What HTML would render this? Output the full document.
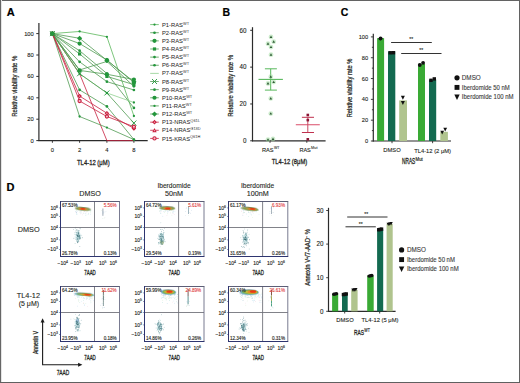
<!DOCTYPE html>
<html><head><meta charset="utf-8"><style>
html,body{margin:0;padding:0;background:#fff;}
svg{display:block;font-family:"Liberation Sans", sans-serif;}
</style></head><body>
<svg width="520" height="383" viewBox="0 0 520 383">
<defs><clipPath id="cp00"><rect x="60.50" y="201.50" width="59.00" height="55.00"/></clipPath><clipPath id="bc00"><rect x="60.50" y="205.10" width="59.00" height="51.40"/></clipPath><clipPath id="cp01"><rect x="144.50" y="201.50" width="59.50" height="55.00"/></clipPath><clipPath id="bc01"><rect x="144.50" y="205.10" width="59.50" height="51.40"/></clipPath><clipPath id="cp02"><rect x="228.50" y="201.50" width="59.30" height="55.00"/></clipPath><clipPath id="bc02"><rect x="228.50" y="205.10" width="59.30" height="51.40"/></clipPath><clipPath id="cp10"><rect x="60.50" y="286.50" width="59.00" height="55.00"/></clipPath><clipPath id="bc10"><rect x="60.50" y="289.10" width="59.00" height="52.40"/></clipPath><clipPath id="cp11"><rect x="144.50" y="286.50" width="59.50" height="55.00"/></clipPath><clipPath id="bc11"><rect x="144.50" y="289.10" width="59.50" height="52.40"/></clipPath><clipPath id="cp12"><rect x="228.50" y="286.50" width="59.30" height="55.00"/></clipPath><clipPath id="bc12"><rect x="228.50" y="289.10" width="59.30" height="52.40"/></clipPath><filter id="b1" x="-50%" y="-50%" width="200%" height="200%"><feGaussianBlur stdDeviation="0.7"/></filter><filter id="b0" x="-50%" y="-50%" width="200%" height="200%"><feGaussianBlur stdDeviation="0.4"/></filter></defs>
<rect x="0" y="0" width="520" height="383" fill="#fff"/>
<text x="6.70" y="15.66" font-size="11" fill="#000" stroke="#000" stroke-width="0.2" font-weight="bold">A</text>
<text x="222.60" y="16.08" font-size="10.5" fill="#000" stroke="#000" stroke-width="0.2" font-weight="bold">B</text>
<text x="340.70" y="15.68" font-size="10.5" fill="#000" stroke="#000" stroke-width="0.2" font-weight="bold">C</text>
<text x="6.60" y="190.56" font-size="11" fill="#000" stroke="#000" stroke-width="0.2" font-weight="bold">D</text>
<line x1="38.90" y1="23.00" x2="38.90" y2="141.10" stroke="#2b2b2b" stroke-width="1.2"/>
<line x1="38.30" y1="140.60" x2="147.70" y2="140.60" stroke="#2b2b2b" stroke-width="1.2"/>
<line x1="36.30" y1="140.60" x2="38.90" y2="140.60" stroke="#2b2b2b" stroke-width="1"/>
<text x="33.80" y="142.69" font-size="5.8" fill="#231f20" stroke="#231f20" stroke-width="0.1" text-anchor="end">0</text>
<line x1="36.30" y1="119.20" x2="38.90" y2="119.20" stroke="#2b2b2b" stroke-width="1"/>
<text x="33.80" y="121.29" font-size="5.8" fill="#231f20" stroke="#231f20" stroke-width="0.1" text-anchor="end">20</text>
<line x1="36.30" y1="97.80" x2="38.90" y2="97.80" stroke="#2b2b2b" stroke-width="1"/>
<text x="33.80" y="99.89" font-size="5.8" fill="#231f20" stroke="#231f20" stroke-width="0.1" text-anchor="end">40</text>
<line x1="36.30" y1="76.40" x2="38.90" y2="76.40" stroke="#2b2b2b" stroke-width="1"/>
<text x="33.80" y="78.49" font-size="5.8" fill="#231f20" stroke="#231f20" stroke-width="0.1" text-anchor="end">60</text>
<line x1="36.30" y1="55.00" x2="38.90" y2="55.00" stroke="#2b2b2b" stroke-width="1"/>
<text x="33.80" y="57.09" font-size="5.8" fill="#231f20" stroke="#231f20" stroke-width="0.1" text-anchor="end">80</text>
<line x1="36.30" y1="33.60" x2="38.90" y2="33.60" stroke="#2b2b2b" stroke-width="1"/>
<text x="33.80" y="35.69" font-size="5.8" fill="#231f20" stroke="#231f20" stroke-width="0.1" text-anchor="end">100</text>
<line x1="52.40" y1="140.60" x2="52.40" y2="142.80" stroke="#2b2b2b" stroke-width="0.9"/>
<text x="52.40" y="152.39" font-size="5.8" fill="#231f20" stroke="#231f20" stroke-width="0.1" text-anchor="middle">0</text>
<line x1="79.60" y1="140.60" x2="79.60" y2="142.80" stroke="#2b2b2b" stroke-width="0.9"/>
<text x="79.60" y="152.39" font-size="5.8" fill="#231f20" stroke="#231f20" stroke-width="0.1" text-anchor="middle">2</text>
<line x1="106.90" y1="140.60" x2="106.90" y2="142.80" stroke="#2b2b2b" stroke-width="0.9"/>
<text x="106.90" y="152.39" font-size="5.8" fill="#231f20" stroke="#231f20" stroke-width="0.1" text-anchor="middle">4</text>
<line x1="133.90" y1="140.60" x2="133.90" y2="142.80" stroke="#2b2b2b" stroke-width="0.9"/>
<text x="133.90" y="152.39" font-size="5.8" fill="#231f20" stroke="#231f20" stroke-width="0.1" text-anchor="middle">8</text>
<text x="93.30" y="164.88" font-size="8.0" fill="#231f20" stroke="#231f20" stroke-width="0.3" text-anchor="middle" textLength="32.6" lengthAdjust="spacingAndGlyphs">TL4-12 (μM)</text>
<text x="15.00" y="88.60" font-size="6.4" fill="#231f20" stroke="#231f20" stroke-width="0.22" text-anchor="middle" textLength="61" lengthAdjust="spacingAndGlyphs" transform="rotate(-90 15.00 86.30)">Relative viability rate %</text>
<polyline points="52.40,33.60 79.60,73.72 106.90,140.60 133.90,140.60" fill="none" stroke="#c8203f" stroke-width="0.8"/>
<polyline points="52.40,33.60 79.60,31.46 106.90,36.81 133.90,115.99" fill="none" stroke="#5cb85c" stroke-width="0.8"/>
<polyline points="52.40,33.60 79.60,50.72 106.90,73.51 133.90,107.96" fill="none" stroke="#4f9a52" stroke-width="0.8"/>
<polyline points="52.40,33.60 79.60,43.55 106.90,60.03 133.90,82.50" fill="none" stroke="#4f9a52" stroke-width="0.8"/>
<polyline points="52.40,33.60 79.60,53.93 106.90,76.40 133.90,84.64" fill="none" stroke="#4f9a52" stroke-width="0.8"/>
<polyline points="52.40,33.60 79.60,61.85 106.90,81.64 133.90,89.99" fill="none" stroke="#4f9a52" stroke-width="0.8"/>
<polyline points="52.40,33.60 79.60,69.98 106.90,61.42 133.90,86.35" fill="none" stroke="#4f9a52" stroke-width="0.8"/>
<polyline points="52.40,33.60 79.60,73.72 106.90,92.98 133.90,102.51" fill="none" stroke="#8fd08f" stroke-width="0.8"/>
<polyline points="52.40,33.60 79.60,73.72 106.90,92.98 133.90,123.05" fill="none" stroke="#4f9a52" stroke-width="0.8"/>
<polyline points="52.40,33.60 79.60,89.88 106.90,106.47 133.90,139.53" fill="none" stroke="#4f9a52" stroke-width="0.8"/>
<polyline points="52.40,33.60 79.60,70.41 106.90,74.26 133.90,79.50" fill="none" stroke="#4f9a52" stroke-width="0.8"/>
<polyline points="52.40,33.60 79.60,116.52 106.90,127.55 133.90,139.53" fill="none" stroke="#4f9a52" stroke-width="0.8"/>
<polyline points="52.40,33.60 79.60,38.31 106.90,60.35 133.90,81.75" fill="none" stroke="#4f9a52" stroke-width="0.8"/>
<polyline points="52.40,33.60 79.60,96.09 106.90,113.21 133.90,128.40" fill="none" stroke="#c8203f" stroke-width="0.8"/>
<polyline points="52.40,33.60 79.60,101.01 106.90,116.52 133.90,126.69" fill="none" stroke="#c8203f" stroke-width="0.8"/>
<circle cx="79.60" cy="31.46" r="1.15" fill="#23963c"/>
<circle cx="106.90" cy="36.81" r="1.15" fill="#23963c"/>
<circle cx="133.90" cy="115.99" r="1.15" fill="#23963c"/>
<circle cx="79.60" cy="50.72" r="1.35" fill="#23963c"/>
<circle cx="106.90" cy="73.51" r="1.35" fill="#23963c"/>
<circle cx="133.90" cy="107.96" r="1.35" fill="#23963c"/>
<circle cx="79.60" cy="43.55" r="2.10" fill="#23963c"/>
<circle cx="106.90" cy="60.03" r="2.10" fill="#23963c"/>
<circle cx="133.90" cy="82.50" r="2.10" fill="#23963c"/>
<rect x="78.00" y="52.33" width="3.20" height="3.20" fill="#23963c"/>
<rect x="105.30" y="74.80" width="3.20" height="3.20" fill="#23963c"/>
<rect x="132.30" y="83.04" width="3.20" height="3.20" fill="#23963c"/>
<circle cx="79.60" cy="61.85" r="1.35" fill="#23963c"/>
<circle cx="106.90" cy="81.64" r="1.35" fill="#23963c"/>
<circle cx="133.90" cy="89.99" r="1.35" fill="#23963c"/>
<circle cx="79.60" cy="69.98" r="1.35" fill="#23963c"/>
<circle cx="106.90" cy="61.42" r="1.35" fill="#23963c"/>
<circle cx="133.90" cy="86.35" r="1.35" fill="#23963c"/>
<circle cx="79.60" cy="73.72" r="1.15" fill="#23963c"/>
<circle cx="106.90" cy="92.98" r="1.15" fill="#23963c"/>
<circle cx="133.90" cy="102.51" r="1.15" fill="#23963c"/>
<line x1="77.10" y1="71.22" x2="82.10" y2="76.22" stroke="#23963c" stroke-width="0.9"/>
<line x1="77.10" y1="76.22" x2="82.10" y2="71.22" stroke="#23963c" stroke-width="0.9"/>
<line x1="104.40" y1="90.48" x2="109.40" y2="95.48" stroke="#23963c" stroke-width="0.9"/>
<line x1="104.40" y1="95.48" x2="109.40" y2="90.48" stroke="#23963c" stroke-width="0.9"/>
<line x1="131.40" y1="120.55" x2="136.40" y2="125.55" stroke="#23963c" stroke-width="0.9"/>
<line x1="131.40" y1="125.55" x2="136.40" y2="120.55" stroke="#23963c" stroke-width="0.9"/>
<circle cx="79.60" cy="89.88" r="1.35" fill="#23963c"/>
<circle cx="106.90" cy="106.47" r="1.35" fill="#23963c"/>
<circle cx="133.90" cy="139.53" r="1.35" fill="#23963c"/>
<circle cx="79.60" cy="70.41" r="2.10" fill="#23963c"/>
<circle cx="106.90" cy="74.26" r="2.10" fill="#23963c"/>
<circle cx="133.90" cy="79.50" r="2.10" fill="#23963c"/>
<circle cx="79.60" cy="116.52" r="1.15" fill="#23963c"/>
<circle cx="106.90" cy="127.55" r="1.15" fill="#23963c"/>
<circle cx="133.90" cy="139.53" r="1.15" fill="#23963c"/>
<path d="M79.60 35.71L82.20 38.31L79.60 40.91L77.00 38.31Z" fill="#23963c" stroke="none" stroke-width="1"/>
<path d="M106.90 57.75L109.50 60.35L106.90 62.95L104.30 60.35Z" fill="#23963c" stroke="none" stroke-width="1"/>
<path d="M133.90 79.15L136.50 81.75L133.90 84.35L131.30 81.75Z" fill="#23963c" stroke="none" stroke-width="1"/>
<path d="M79.60 93.79L81.90 96.09L79.60 98.39L77.30 96.09Z" fill="#c8203f" stroke="none" stroke-width="1"/>
<circle cx="79.60" cy="96.09" r="0.70" fill="#f3a8b8"/>
<path d="M106.90 110.91L109.20 113.21L106.90 115.51L104.60 113.21Z" fill="#c8203f" stroke="none" stroke-width="1"/>
<circle cx="106.90" cy="113.21" r="0.70" fill="#f3a8b8"/>
<path d="M133.90 126.10L136.20 128.40L133.90 130.70L131.60 128.40Z" fill="#c8203f" stroke="none" stroke-width="1"/>
<circle cx="133.90" cy="128.40" r="0.70" fill="#f3a8b8"/>
<circle cx="79.60" cy="101.01" r="1.60" fill="#f6c0cc" stroke="#c8203f" stroke-width="1.1"/>
<circle cx="106.90" cy="116.52" r="1.60" fill="#f6c0cc" stroke="#c8203f" stroke-width="1.1"/>
<circle cx="133.90" cy="126.69" r="1.60" fill="#f6c0cc" stroke="#c8203f" stroke-width="1.1"/>
<circle cx="52.40" cy="33.60" r="1.60" fill="#f6c0cc" stroke="#c8203f" stroke-width="1.1"/>
<path d="M52.40 31.40L54.60 35.47L50.20 35.47Z" fill="#c8203f" stroke="none" stroke-width="1"/>
<circle cx="52.40" cy="34.00" r="0.60" fill="#f3a8b8"/>
<path d="M52.40 31.30L54.70 33.60L52.40 35.90L50.10 33.60Z" fill="#c8203f" stroke="none" stroke-width="1"/>
<circle cx="52.40" cy="33.60" r="0.70" fill="#f3a8b8"/>
<circle cx="52.40" cy="33.60" r="1.15" fill="#23963c"/>
<circle cx="52.40" cy="33.60" r="1.35" fill="#23963c"/>
<circle cx="52.40" cy="33.60" r="2.10" fill="#23963c"/>
<rect x="50.80" y="32.00" width="3.20" height="3.20" fill="#23963c"/>
<circle cx="52.40" cy="33.60" r="1.35" fill="#23963c"/>
<circle cx="52.40" cy="33.60" r="1.35" fill="#23963c"/>
<line x1="49.90" y1="31.10" x2="54.90" y2="36.10" stroke="#23963c" stroke-width="0.9"/>
<line x1="49.90" y1="36.10" x2="54.90" y2="31.10" stroke="#23963c" stroke-width="0.9"/>
<circle cx="52.40" cy="33.60" r="1.35" fill="#23963c"/>
<circle cx="52.40" cy="33.60" r="2.10" fill="#23963c"/>
<circle cx="52.40" cy="33.60" r="1.15" fill="#23963c"/>
<path d="M52.40 31.00L55.00 33.60L52.40 36.20L49.80 33.60Z" fill="#23963c" stroke="none" stroke-width="1"/>
<line x1="150.20" y1="24.60" x2="158.80" y2="24.60" stroke="#5cb85c" stroke-width="0.8"/>
<circle cx="154.50" cy="24.60" r="1.15" fill="#23963c"/>
<text x="162.00" y="26.69" font-size="5.8" fill="#2a2a2a" stroke="#2a2a2a" stroke-width="0.04">P1-RAS<tspan dy="-2.1" font-size="3.9" fill="#555">WT</tspan></text>
<line x1="150.20" y1="32.73" x2="158.80" y2="32.73" stroke="#4f9a52" stroke-width="0.8"/>
<circle cx="154.50" cy="32.73" r="1.35" fill="#23963c"/>
<text x="162.00" y="34.82" font-size="5.8" fill="#2a2a2a" stroke="#2a2a2a" stroke-width="0.04">P2-RAS<tspan dy="-2.1" font-size="3.9" fill="#555">WT</tspan></text>
<line x1="150.20" y1="40.86" x2="158.80" y2="40.86" stroke="#4f9a52" stroke-width="0.8"/>
<circle cx="154.50" cy="40.86" r="2.10" fill="#23963c"/>
<text x="162.00" y="42.95" font-size="5.8" fill="#2a2a2a" stroke="#2a2a2a" stroke-width="0.04">P3-RAS<tspan dy="-2.1" font-size="3.9" fill="#555">WT</tspan></text>
<line x1="150.20" y1="48.99" x2="158.80" y2="48.99" stroke="#4f9a52" stroke-width="0.8"/>
<rect x="152.90" y="47.39" width="3.20" height="3.20" fill="#23963c"/>
<text x="162.00" y="51.08" font-size="5.8" fill="#2a2a2a" stroke="#2a2a2a" stroke-width="0.04">P4-RAS<tspan dy="-2.1" font-size="3.9" fill="#555">WT</tspan></text>
<line x1="150.20" y1="57.12" x2="158.80" y2="57.12" stroke="#4f9a52" stroke-width="0.8"/>
<circle cx="154.50" cy="57.12" r="1.35" fill="#23963c"/>
<text x="162.00" y="59.21" font-size="5.8" fill="#2a2a2a" stroke="#2a2a2a" stroke-width="0.04">P5-RAS<tspan dy="-2.1" font-size="3.9" fill="#555">WT</tspan></text>
<line x1="150.20" y1="65.25" x2="158.80" y2="65.25" stroke="#4f9a52" stroke-width="0.8"/>
<circle cx="154.50" cy="65.25" r="1.35" fill="#23963c"/>
<text x="162.00" y="67.34" font-size="5.8" fill="#2a2a2a" stroke="#2a2a2a" stroke-width="0.04">P6-RAS<tspan dy="-2.1" font-size="3.9" fill="#555">WT</tspan></text>
<line x1="150.20" y1="73.38" x2="158.80" y2="73.38" stroke="#8fd08f" stroke-width="0.8"/>
<text x="162.00" y="75.47" font-size="5.8" fill="#2a2a2a" stroke="#2a2a2a" stroke-width="0.04">P7-RAS<tspan dy="-2.1" font-size="3.9" fill="#555">WT</tspan></text>
<line x1="150.20" y1="81.51" x2="158.80" y2="81.51" stroke="#4f9a52" stroke-width="0.8"/>
<line x1="152.00" y1="79.01" x2="157.00" y2="84.01" stroke="#23963c" stroke-width="0.9"/>
<line x1="152.00" y1="84.01" x2="157.00" y2="79.01" stroke="#23963c" stroke-width="0.9"/>
<text x="162.00" y="83.60" font-size="5.8" fill="#2a2a2a" stroke="#2a2a2a" stroke-width="0.04">P8-RAS<tspan dy="-2.1" font-size="3.9" fill="#555">WT</tspan></text>
<line x1="150.20" y1="89.64" x2="158.80" y2="89.64" stroke="#4f9a52" stroke-width="0.8"/>
<circle cx="154.50" cy="89.64" r="1.35" fill="#23963c"/>
<text x="162.00" y="91.73" font-size="5.8" fill="#2a2a2a" stroke="#2a2a2a" stroke-width="0.04">P9-RAS<tspan dy="-2.1" font-size="3.9" fill="#555">WT</tspan></text>
<line x1="150.20" y1="97.77" x2="158.80" y2="97.77" stroke="#4f9a52" stroke-width="0.8"/>
<circle cx="154.50" cy="97.77" r="2.10" fill="#23963c"/>
<text x="162.00" y="99.86" font-size="5.8" fill="#2a2a2a" stroke="#2a2a2a" stroke-width="0.04">P10-RAS<tspan dy="-2.1" font-size="3.9" fill="#555">WT</tspan></text>
<line x1="150.20" y1="105.90" x2="158.80" y2="105.90" stroke="#4f9a52" stroke-width="0.8"/>
<circle cx="154.50" cy="105.90" r="1.15" fill="#23963c"/>
<text x="162.00" y="107.99" font-size="5.8" fill="#2a2a2a" stroke="#2a2a2a" stroke-width="0.04">P11-RAS<tspan dy="-2.1" font-size="3.9" fill="#555">WT</tspan></text>
<line x1="150.20" y1="114.03" x2="158.80" y2="114.03" stroke="#4f9a52" stroke-width="0.8"/>
<path d="M154.50 111.43L157.10 114.03L154.50 116.63L151.90 114.03Z" fill="#23963c" stroke="none" stroke-width="1"/>
<text x="162.00" y="116.12" font-size="5.8" fill="#2a2a2a" stroke="#2a2a2a" stroke-width="0.04">P12-RAS<tspan dy="-2.1" font-size="3.9" fill="#555">WT</tspan></text>
<line x1="150.20" y1="122.16" x2="158.80" y2="122.16" stroke="#c8203f" stroke-width="0.8"/>
<path d="M154.50 119.86L156.80 122.16L154.50 124.46L152.20 122.16Z" fill="#c8203f" stroke="none" stroke-width="1"/>
<circle cx="154.50" cy="122.16" r="0.70" fill="#f3a8b8"/>
<text x="162.00" y="124.25" font-size="5.8" fill="#2a2a2a" stroke="#2a2a2a" stroke-width="0.04">P13-NRAS<tspan dy="-2.1" font-size="3.9" fill="#555">Q61L</tspan></text>
<line x1="150.20" y1="130.29" x2="158.80" y2="130.29" stroke="#c8203f" stroke-width="0.8"/>
<path d="M154.50 128.09L156.70 132.16L152.30 132.16Z" fill="#c8203f" stroke="none" stroke-width="1"/>
<circle cx="154.50" cy="130.69" r="0.60" fill="#f3a8b8"/>
<text x="162.00" y="132.38" font-size="5.8" fill="#2a2a2a" stroke="#2a2a2a" stroke-width="0.04">P14-NRAS<tspan dy="-2.1" font-size="3.9" fill="#555">G13D</tspan></text>
<line x1="150.20" y1="138.42" x2="158.80" y2="138.42" stroke="#c8203f" stroke-width="0.8"/>
<circle cx="154.50" cy="138.42" r="1.60" fill="#f6c0cc" stroke="#c8203f" stroke-width="1.1"/>
<text x="162.00" y="140.51" font-size="5.8" fill="#2a2a2a" stroke="#2a2a2a" stroke-width="0.04">P15-KRAS<tspan dy="-2.1" font-size="3.9" fill="#555">Q61H</tspan></text>
<line x1="252.50" y1="27.20" x2="252.50" y2="141.30" stroke="#2b2b2b" stroke-width="1.2"/>
<line x1="252.00" y1="140.80" x2="325.60" y2="140.80" stroke="#2b2b2b" stroke-width="1.2"/>
<line x1="250.20" y1="140.80" x2="252.50" y2="140.80" stroke="#2b2b2b" stroke-width="1"/>
<text x="246.50" y="143.07" font-size="6.3" fill="#231f20" stroke="#231f20" stroke-width="0.1" text-anchor="end">0</text>
<line x1="250.20" y1="103.97" x2="252.50" y2="103.97" stroke="#2b2b2b" stroke-width="1"/>
<text x="246.50" y="106.23" font-size="6.3" fill="#231f20" stroke="#231f20" stroke-width="0.1" text-anchor="end">20</text>
<line x1="250.20" y1="67.13" x2="252.50" y2="67.13" stroke="#2b2b2b" stroke-width="1"/>
<text x="246.50" y="69.40" font-size="6.3" fill="#231f20" stroke="#231f20" stroke-width="0.1" text-anchor="end">40</text>
<line x1="250.20" y1="30.30" x2="252.50" y2="30.30" stroke="#2b2b2b" stroke-width="1"/>
<text x="246.50" y="32.57" font-size="6.3" fill="#231f20" stroke="#231f20" stroke-width="0.1" text-anchor="end">60</text>
<line x1="270.00" y1="140.80" x2="270.00" y2="142.80" stroke="#2b2b2b" stroke-width="0.9"/>
<line x1="306.80" y1="140.80" x2="306.80" y2="142.80" stroke="#2b2b2b" stroke-width="0.9"/>
<text x="262.00" y="151.76" font-size="6.0" fill="#231f20" stroke="#231f20" stroke-width="0.12" textLength="11.6" lengthAdjust="spacingAndGlyphs">RAS</text>
<text x="273.90" y="148.84" font-size="4.0" fill="#231f20" stroke="#231f20" stroke-width="0.072" textLength="5.6" lengthAdjust="spacingAndGlyphs">WT</text>
<text x="299.40" y="151.76" font-size="6.0" fill="#231f20" stroke="#231f20" stroke-width="0.12" textLength="11.4" lengthAdjust="spacingAndGlyphs">RAS</text>
<text x="311.10" y="148.84" font-size="4.0" fill="#231f20" stroke="#231f20" stroke-width="0.072" textLength="6.4" lengthAdjust="spacingAndGlyphs">Mut</text>
<text x="231.20" y="88.10" font-size="6.4" fill="#231f20" stroke="#231f20" stroke-width="0.22" text-anchor="middle" textLength="62" lengthAdjust="spacingAndGlyphs" transform="rotate(-90 231.20 85.80)">Relative viability rate %</text>
<text x="289.50" y="163.81" font-size="7.8" fill="#231f20" stroke="#231f20" stroke-width="0.3" text-anchor="middle" textLength="35.4" lengthAdjust="spacingAndGlyphs">TL4-12 (8μM)</text>
<line x1="258.50" y1="79.40" x2="282.90" y2="79.40" stroke="#58b85c" stroke-width="1.1"/>
<line x1="270.70" y1="68.80" x2="270.70" y2="90.10" stroke="#58b85c" stroke-width="1.0"/>
<line x1="264.90" y1="68.80" x2="276.90" y2="68.80" stroke="#58b85c" stroke-width="1.0"/>
<line x1="264.90" y1="90.10" x2="276.90" y2="90.10" stroke="#58b85c" stroke-width="1.0"/>
<circle cx="271.00" cy="36.90" r="2.4" fill="#a8e0a8" opacity="0.55" filter="url(#b1)"/>
<path d="M271.00 35.45L272.35 37.90L269.65 37.90Z" fill="#2f5a35" stroke="none" stroke-width="1"/>
<circle cx="273.70" cy="41.70" r="2.4" fill="#a8e0a8" opacity="0.55" filter="url(#b1)"/>
<path d="M273.70 40.25L275.05 42.70L272.35 42.70Z" fill="#2f5a35" stroke="none" stroke-width="1"/>
<circle cx="268.00" cy="43.70" r="2.4" fill="#a8e0a8" opacity="0.55" filter="url(#b1)"/>
<path d="M268.00 42.25L269.35 44.70L266.65 44.70Z" fill="#2f5a35" stroke="none" stroke-width="1"/>
<circle cx="271.00" cy="47.10" r="2.4" fill="#a8e0a8" opacity="0.55" filter="url(#b1)"/>
<path d="M271.00 45.65L272.35 48.10L269.65 48.10Z" fill="#2f5a35" stroke="none" stroke-width="1"/>
<circle cx="271.00" cy="54.70" r="2.4" fill="#a8e0a8" opacity="0.55" filter="url(#b1)"/>
<path d="M271.00 53.25L272.35 55.70L269.65 55.70Z" fill="#2f5a35" stroke="none" stroke-width="1"/>
<circle cx="270.80" cy="76.70" r="2.4" fill="#a8e0a8" opacity="0.55" filter="url(#b1)"/>
<path d="M270.80 75.25L272.15 77.70L269.45 77.70Z" fill="#2f5a35" stroke="none" stroke-width="1"/>
<circle cx="268.00" cy="83.50" r="2.4" fill="#a8e0a8" opacity="0.55" filter="url(#b1)"/>
<path d="M268.00 82.05L269.35 84.50L266.65 84.50Z" fill="#2f5a35" stroke="none" stroke-width="1"/>
<circle cx="273.70" cy="82.10" r="2.4" fill="#a8e0a8" opacity="0.55" filter="url(#b1)"/>
<path d="M273.70 80.65L275.05 83.10L272.35 83.10Z" fill="#2f5a35" stroke="none" stroke-width="1"/>
<circle cx="270.80" cy="98.40" r="2.4" fill="#a8e0a8" opacity="0.55" filter="url(#b1)"/>
<path d="M270.80 96.95L272.15 99.40L269.45 99.40Z" fill="#2f5a35" stroke="none" stroke-width="1"/>
<circle cx="270.80" cy="113.60" r="2.4" fill="#a8e0a8" opacity="0.55" filter="url(#b1)"/>
<path d="M270.80 112.15L272.15 114.60L269.45 114.60Z" fill="#2f5a35" stroke="none" stroke-width="1"/>
<circle cx="268.00" cy="139.60" r="2.4" fill="#a8e0a8" opacity="0.55" filter="url(#b1)"/>
<path d="M268.00 138.15L269.35 140.60L266.65 140.60Z" fill="#2f5a35" stroke="none" stroke-width="1"/>
<circle cx="273.00" cy="139.00" r="2.4" fill="#a8e0a8" opacity="0.55" filter="url(#b1)"/>
<path d="M273.00 137.55L274.35 140.00L271.65 140.00Z" fill="#2f5a35" stroke="none" stroke-width="1"/>
<line x1="295.80" y1="124.70" x2="319.80" y2="124.70" stroke="#e06a82" stroke-width="1.2"/>
<line x1="307.80" y1="117.30" x2="307.80" y2="132.50" stroke="#c84a64" stroke-width="1.0"/>
<line x1="301.90" y1="117.30" x2="314.00" y2="117.30" stroke="#c0304e" stroke-width="1.0"/>
<line x1="301.90" y1="132.50" x2="314.00" y2="132.50" stroke="#c0304e" stroke-width="1.0"/>
<rect x="306.50" y="113.70" width="2.60" height="2.60" fill="#8c1636"/>
<rect x="306.50" y="118.80" width="2.60" height="2.60" fill="#8c1636"/>
<rect x="306.50" y="138.00" width="2.60" height="2.60" fill="#8c1636"/>
<line x1="373.30" y1="33.80" x2="373.30" y2="141.50" stroke="#2b2b2b" stroke-width="1.2"/>
<line x1="372.70" y1="141.00" x2="451.00" y2="141.00" stroke="#2b2b2b" stroke-width="1.2"/>
<line x1="370.90" y1="141.00" x2="373.30" y2="141.00" stroke="#2b2b2b" stroke-width="0.9"/>
<text x="368.20" y="143.05" font-size="5.7" fill="#231f20" stroke="#231f20" stroke-width="0.1" text-anchor="end">0</text>
<line x1="371.90" y1="130.59" x2="373.30" y2="130.59" stroke="#2b2b2b" stroke-width="0.9"/>
<line x1="370.90" y1="120.18" x2="373.30" y2="120.18" stroke="#2b2b2b" stroke-width="0.9"/>
<text x="368.20" y="122.23" font-size="5.7" fill="#231f20" stroke="#231f20" stroke-width="0.1" text-anchor="end">20</text>
<line x1="371.90" y1="109.77" x2="373.30" y2="109.77" stroke="#2b2b2b" stroke-width="0.9"/>
<line x1="370.90" y1="99.36" x2="373.30" y2="99.36" stroke="#2b2b2b" stroke-width="0.9"/>
<text x="368.20" y="101.41" font-size="5.7" fill="#231f20" stroke="#231f20" stroke-width="0.1" text-anchor="end">40</text>
<line x1="371.90" y1="88.95" x2="373.30" y2="88.95" stroke="#2b2b2b" stroke-width="0.9"/>
<line x1="370.90" y1="78.54" x2="373.30" y2="78.54" stroke="#2b2b2b" stroke-width="0.9"/>
<text x="368.20" y="80.59" font-size="5.7" fill="#231f20" stroke="#231f20" stroke-width="0.1" text-anchor="end">60</text>
<line x1="371.90" y1="68.13" x2="373.30" y2="68.13" stroke="#2b2b2b" stroke-width="0.9"/>
<line x1="370.90" y1="57.72" x2="373.30" y2="57.72" stroke="#2b2b2b" stroke-width="0.9"/>
<text x="368.20" y="59.77" font-size="5.7" fill="#231f20" stroke="#231f20" stroke-width="0.1" text-anchor="end">80</text>
<line x1="371.90" y1="47.31" x2="373.30" y2="47.31" stroke="#2b2b2b" stroke-width="0.9"/>
<line x1="370.90" y1="36.90" x2="373.30" y2="36.90" stroke="#2b2b2b" stroke-width="0.9"/>
<text x="368.20" y="38.95" font-size="5.7" fill="#231f20" stroke="#231f20" stroke-width="0.1" text-anchor="end">100</text>
<line x1="392.00" y1="141.00" x2="392.00" y2="143.20" stroke="#2b2b2b" stroke-width="0.9"/>
<line x1="432.60" y1="141.00" x2="432.60" y2="143.20" stroke="#2b2b2b" stroke-width="0.9"/>
<text x="350.00" y="90.30" font-size="6.4" fill="#231f20" stroke="#231f20" stroke-width="0.22" text-anchor="middle" textLength="58.5" lengthAdjust="spacingAndGlyphs" transform="rotate(-90 350.00 88.00)">Relative viability rate %</text>
<rect x="377.10" y="38.15" width="7.00" height="102.85" fill="#3aaa35"/>
<rect x="388.00" y="51.37" width="7.30" height="89.63" fill="#136a50"/>
<rect x="399.20" y="100.40" width="7.80" height="40.60" fill="#b0c48e"/>
<rect x="418.00" y="63.86" width="7.00" height="77.14" fill="#3aaa35"/>
<rect x="429.00" y="79.48" width="7.20" height="61.52" fill="#136a50"/>
<rect x="440.30" y="131.84" width="7.60" height="9.16" fill="#b0c48e"/>
<circle cx="380.60" cy="38.30" r="1.90" fill="#111"/>
<circle cx="380.40" cy="38.70" r="1.80" fill="#111"/>
<rect x="388.50" y="51.10" width="3.40" height="3.40" fill="#111"/>
<rect x="391.70" y="51.00" width="3.40" height="3.40" fill="#111"/>
<path d="M400.90 95.70L404.90 95.70L402.90 99.70Z" fill="#111" stroke="none" stroke-width="1"/>
<path d="M400.90 101.10L404.90 101.10L402.90 105.10Z" fill="#111" stroke="none" stroke-width="1"/>
<circle cx="419.80" cy="65.00" r="1.90" fill="#111"/>
<circle cx="423.10" cy="62.80" r="1.90" fill="#111"/>
<rect x="429.30" y="78.60" width="3.40" height="3.40" fill="#111"/>
<rect x="432.60" y="77.20" width="3.40" height="3.40" fill="#111"/>
<path d="M440.30 130.79L444.10 130.79L442.20 134.59Z" fill="#111" stroke="none" stroke-width="1"/>
<path d="M443.30 127.79L447.10 127.79L445.20 131.59Z" fill="#111" stroke="none" stroke-width="1"/>
<line x1="391.10" y1="42.50" x2="431.80" y2="42.50" stroke="#333" stroke-width="1.0"/>
<line x1="401.20" y1="53.50" x2="441.50" y2="53.50" stroke="#333" stroke-width="1.0"/>
<text x="411.20" y="41.40" font-size="5.0" fill="#231f20" stroke="#231f20" stroke-width="0.1" text-anchor="middle">**</text>
<text x="421.30" y="52.10" font-size="5.0" fill="#231f20" stroke="#231f20" stroke-width="0.1" text-anchor="middle">**</text>
<text x="392.00" y="152.49" font-size="5.8" fill="#231f20" stroke="#231f20" stroke-width="0.1" text-anchor="middle">DMSO</text>
<text x="432.60" y="152.69" font-size="5.8" fill="#231f20" stroke="#231f20" stroke-width="0.1" text-anchor="middle">TL4-12 (2 μM)</text>
<text x="402.00" y="164.45" font-size="8.2" fill="#231f20" stroke="#231f20" stroke-width="0.3" textLength="13.3" lengthAdjust="spacingAndGlyphs">NRAS</text>
<text x="415.60" y="160.70" font-size="5.0" fill="#231f20" stroke="#231f20" stroke-width="0.18" textLength="7.2" lengthAdjust="spacingAndGlyphs">Mut</text>
<circle cx="457.00" cy="77.80" r="2.60" fill="#111"/>
<rect x="454.55" y="84.95" width="4.90" height="4.90" fill="#111"/>
<path d="M454.30 94.53L459.70 94.53L457.00 99.93Z" fill="#111" stroke="none" stroke-width="1"/>
<text x="461.80" y="80.17" font-size="6.3" fill="#3a3a3a" stroke="#3a3a3a" stroke-width="0.1" textLength="19.0" lengthAdjust="spacingAndGlyphs">DMSO</text>
<text x="461.80" y="89.67" font-size="6.3" fill="#3a3a3a" stroke="#3a3a3a" stroke-width="0.1" textLength="48.0" lengthAdjust="spacingAndGlyphs">Iberdomide 50 nM</text>
<text x="461.80" y="99.47" font-size="6.3" fill="#3a3a3a" stroke="#3a3a3a" stroke-width="0.1" textLength="51.8" lengthAdjust="spacingAndGlyphs">Iberdomide 100 nM</text>
<line x1="328.50" y1="207.80" x2="328.50" y2="311.80" stroke="#2b2b2b" stroke-width="1.2"/>
<line x1="328.00" y1="311.30" x2="395.60" y2="311.30" stroke="#2b2b2b" stroke-width="1.2"/>
<line x1="326.20" y1="311.30" x2="328.50" y2="311.30" stroke="#2b2b2b" stroke-width="0.9"/>
<text x="323.50" y="313.57" font-size="6.3" fill="#231f20" stroke="#231f20" stroke-width="0.1" text-anchor="end">0</text>
<line x1="326.20" y1="277.70" x2="328.50" y2="277.70" stroke="#2b2b2b" stroke-width="0.9"/>
<text x="323.50" y="279.97" font-size="6.3" fill="#231f20" stroke="#231f20" stroke-width="0.1" text-anchor="end">10</text>
<line x1="326.20" y1="244.10" x2="328.50" y2="244.10" stroke="#2b2b2b" stroke-width="0.9"/>
<text x="323.50" y="246.37" font-size="6.3" fill="#231f20" stroke="#231f20" stroke-width="0.1" text-anchor="end">20</text>
<line x1="326.20" y1="210.50" x2="328.50" y2="210.50" stroke="#2b2b2b" stroke-width="0.9"/>
<text x="323.50" y="212.77" font-size="6.3" fill="#231f20" stroke="#231f20" stroke-width="0.1" text-anchor="end">30</text>
<line x1="344.70" y1="311.30" x2="344.70" y2="313.50" stroke="#2b2b2b" stroke-width="0.9"/>
<line x1="379.70" y1="311.30" x2="379.70" y2="313.50" stroke="#2b2b2b" stroke-width="0.9"/>
<rect x="332.10" y="293.83" width="6.10" height="17.47" fill="#3aaa35"/>
<rect x="342.00" y="294.16" width="5.70" height="17.14" fill="#136a50"/>
<rect x="351.20" y="289.80" width="6.40" height="21.50" fill="#b0c48e"/>
<rect x="367.20" y="275.68" width="6.50" height="35.62" fill="#3aaa35"/>
<rect x="377.10" y="229.32" width="6.10" height="81.98" fill="#136a50"/>
<rect x="386.60" y="223.94" width="6.10" height="87.36" fill="#b0c48e"/>
<circle cx="333.75" cy="294.23" r="1.70" fill="#111"/>
<circle cx="336.55" cy="293.63" r="1.70" fill="#111"/>
<circle cx="335.15" cy="293.93" r="1.70" fill="#111"/>
<rect x="341.75" y="292.86" width="3.40" height="3.40" fill="#111"/>
<rect x="344.55" y="292.26" width="3.40" height="3.40" fill="#111"/>
<rect x="343.15" y="292.56" width="3.40" height="3.40" fill="#111"/>
<path d="M351.30 288.58L354.70 288.58L353.00 291.98Z" fill="#111" stroke="none" stroke-width="1"/>
<path d="M354.10 287.98L357.50 287.98L355.80 291.38Z" fill="#111" stroke="none" stroke-width="1"/>
<path d="M352.70 288.28L356.10 288.28L354.40 291.68Z" fill="#111" stroke="none" stroke-width="1"/>
<circle cx="369.05" cy="276.08" r="1.70" fill="#111"/>
<circle cx="371.85" cy="275.48" r="1.70" fill="#111"/>
<circle cx="370.45" cy="275.78" r="1.70" fill="#111"/>
<rect x="377.05" y="228.02" width="3.40" height="3.40" fill="#111"/>
<rect x="379.85" y="227.42" width="3.40" height="3.40" fill="#111"/>
<rect x="378.45" y="227.72" width="3.40" height="3.40" fill="#111"/>
<path d="M386.55 222.72L389.95 222.72L388.25 226.12Z" fill="#111" stroke="none" stroke-width="1"/>
<path d="M389.35 222.12L392.75 222.12L391.05 225.53Z" fill="#111" stroke="none" stroke-width="1"/>
<path d="M387.95 222.42L391.35 222.42L389.65 225.82Z" fill="#111" stroke="none" stroke-width="1"/>
<line x1="347.20" y1="217.00" x2="387.50" y2="217.00" stroke="#333" stroke-width="1.0"/>
<line x1="345.50" y1="226.80" x2="375.80" y2="226.80" stroke="#333" stroke-width="1.0"/>
<text x="366.20" y="216.00" font-size="5.0" fill="#231f20" stroke="#231f20" stroke-width="0.1" text-anchor="middle">**</text>
<text x="360.70" y="225.60" font-size="5.0" fill="#231f20" stroke="#231f20" stroke-width="0.1" text-anchor="middle">**</text>
<text x="345.00" y="322.29" font-size="5.8" fill="#231f20" stroke="#231f20" stroke-width="0.1" text-anchor="middle">DMSO</text>
<text x="380.00" y="322.29" font-size="5.8" fill="#231f20" stroke="#231f20" stroke-width="0.1" text-anchor="middle">TL4-12 (5 μM)</text>
<text x="354.00" y="334.67" font-size="7.7" fill="#231f20" stroke="#231f20" stroke-width="0.3" textLength="10.0" lengthAdjust="spacingAndGlyphs">RAS</text>
<text x="364.30" y="332.10" font-size="5.0" fill="#231f20" stroke="#231f20" stroke-width="0.18" textLength="5.6" lengthAdjust="spacingAndGlyphs">WT</text>
<text x="307.30" y="259.70" font-size="6.4" fill="#231f20" stroke="#231f20" stroke-width="0.22" text-anchor="middle" textLength="56.5" lengthAdjust="spacingAndGlyphs" transform="rotate(-90 307.30 257.40)">Annexin V<tspan dy="-1.8" font-size="3.8">+</tspan><tspan dy="1.8">/7-AAD</tspan><tspan dy="-1.8" font-size="3.8">−</tspan><tspan dy="1.8"> %</tspan></text>
<circle cx="401.60" cy="249.90" r="2.60" fill="#111"/>
<rect x="399.15" y="257.15" width="4.90" height="4.90" fill="#111"/>
<path d="M398.90 266.54L404.30 266.54L401.60 271.94Z" fill="#111" stroke="none" stroke-width="1"/>
<text x="406.90" y="252.17" font-size="6.3" fill="#3a3a3a" stroke="#3a3a3a" stroke-width="0.1" textLength="19.0" lengthAdjust="spacingAndGlyphs">DMSO</text>
<text x="406.90" y="261.87" font-size="6.3" fill="#3a3a3a" stroke="#3a3a3a" stroke-width="0.1" textLength="48.0" lengthAdjust="spacingAndGlyphs">Iberdomide 50 nM</text>
<text x="406.90" y="271.47" font-size="6.3" fill="#3a3a3a" stroke="#3a3a3a" stroke-width="0.1" textLength="51.8" lengthAdjust="spacingAndGlyphs">Iberdomide 100 nM</text>
<text x="90.10" y="196.39" font-size="7.2" fill="#231f20" stroke="#231f20" stroke-width="0.1" text-anchor="middle">DMSO</text>
<text x="174.00" y="187.89" font-size="7.2" fill="#231f20" stroke="#231f20" stroke-width="0.1" text-anchor="middle" textLength="33.2" lengthAdjust="spacingAndGlyphs">Iberdomide</text>
<text x="174.00" y="196.09" font-size="7.2" fill="#231f20" stroke="#231f20" stroke-width="0.1" text-anchor="middle">50nM</text>
<text x="257.50" y="187.89" font-size="7.2" fill="#231f20" stroke="#231f20" stroke-width="0.1" text-anchor="middle" textLength="33.2" lengthAdjust="spacingAndGlyphs">Iberdomide</text>
<text x="257.80" y="196.09" font-size="7.2" fill="#231f20" stroke="#231f20" stroke-width="0.1" text-anchor="middle">100nM</text>
<text x="28.70" y="232.23" font-size="7.3" fill="#231f20" stroke="#231f20" stroke-width="0.1" text-anchor="middle">DMSO</text>
<text x="28.40" y="298.23" font-size="7.3" fill="#231f20" stroke="#231f20" stroke-width="0.1" text-anchor="middle">TL4-12</text>
<text x="28.90" y="305.82" font-size="7.0" fill="#231f20" stroke="#231f20" stroke-width="0.1" text-anchor="middle">(5 μM)</text>
<g clip-path="url(#cp00)">
<g clip-path="url(#bc00)">
<circle cx="80.55" cy="212.11" r="0.4" fill="#a8cce8" opacity="0.8"/>
<circle cx="88.68" cy="213.17" r="0.4" fill="#a8cce8" opacity="0.8"/>
<circle cx="81.24" cy="212.96" r="0.4" fill="#a8cce8" opacity="0.8"/>
<circle cx="76.66" cy="210.76" r="0.4" fill="#c8e8c0" opacity="0.8"/>
<circle cx="76.40" cy="212.23" r="0.4" fill="#f0c8d8" opacity="0.8"/>
<circle cx="77.28" cy="211.22" r="0.4" fill="#b8dcf0" opacity="0.8"/>
<circle cx="85.56" cy="210.39" r="0.4" fill="#f0c8d8" opacity="0.8"/>
<circle cx="81.74" cy="209.97" r="0.4" fill="#b8dcf0" opacity="0.8"/>
<circle cx="76.02" cy="211.07" r="0.4" fill="#b8dcf0" opacity="0.8"/>
<circle cx="84.09" cy="211.46" r="0.4" fill="#f0c8d8" opacity="0.8"/>
<circle cx="80.30" cy="210.22" r="0.4" fill="#f0c8d8" opacity="0.8"/>
<circle cx="84.59" cy="211.25" r="0.4" fill="#b8dcf0" opacity="0.8"/>
<circle cx="81.34" cy="210.50" r="0.4" fill="#a8cce8" opacity="0.8"/>
<circle cx="85.37" cy="209.74" r="0.4" fill="#c8e8c0" opacity="0.8"/>
<circle cx="86.38" cy="211.90" r="0.4" fill="#f0c8d8" opacity="0.8"/>
<circle cx="90.35" cy="210.62" r="0.4" fill="#9fd8d0" opacity="0.8"/>
<circle cx="80.16" cy="210.76" r="0.4" fill="#b8dcf0" opacity="0.8"/>
<circle cx="76.60" cy="214.17" r="0.4" fill="#9fd8d0" opacity="0.8"/>
<circle cx="83.84" cy="213.06" r="0.4" fill="#9fd8d0" opacity="0.8"/>
<circle cx="85.21" cy="213.06" r="0.4" fill="#a8cce8" opacity="0.8"/>
<circle cx="77.19" cy="214.09" r="0.4" fill="#b8dcf0" opacity="0.8"/>
<circle cx="90.51" cy="212.05" r="0.4" fill="#c8e8c0" opacity="0.8"/>
<circle cx="75.90" cy="212.08" r="0.4" fill="#f0c8d8" opacity="0.8"/>
<circle cx="88.15" cy="214.14" r="0.4" fill="#9fd8d0" opacity="0.8"/>
<circle cx="80.82" cy="211.61" r="0.4" fill="#c8e8c0" opacity="0.8"/>
<circle cx="76.38" cy="212.43" r="0.4" fill="#a8cce8" opacity="0.8"/>
<circle cx="90.70" cy="214.06" r="0.4" fill="#a8cce8" opacity="0.8"/>
<circle cx="87.21" cy="210.17" r="0.4" fill="#9fd8d0" opacity="0.8"/>
<circle cx="85.83" cy="215.34" r="0.4" fill="#9fd8d0" opacity="0.8"/>
<circle cx="86.97" cy="209.66" r="0.4" fill="#9fd8d0" opacity="0.8"/>
<circle cx="75.63" cy="211.29" r="0.4" fill="#a8cce8" opacity="0.8"/>
<circle cx="83.33" cy="209.86" r="0.4" fill="#b8dcf0" opacity="0.8"/>
<circle cx="87.81" cy="211.06" r="0.4" fill="#c8e8c0" opacity="0.8"/>
<circle cx="90.24" cy="211.15" r="0.4" fill="#c8e8c0" opacity="0.8"/>
<circle cx="76.58" cy="213.24" r="0.4" fill="#b8dcf0" opacity="0.8"/>
<circle cx="88.65" cy="210.67" r="0.4" fill="#f0c8d8" opacity="0.8"/>
<circle cx="79.81" cy="212.00" r="0.4" fill="#c8e8c0" opacity="0.8"/>
<circle cx="90.91" cy="210.93" r="0.4" fill="#b8dcf0" opacity="0.8"/>
<circle cx="76.62" cy="212.13" r="0.4" fill="#a8cce8" opacity="0.8"/>
<circle cx="83.18" cy="213.22" r="0.4" fill="#f0c8d8" opacity="0.8"/>
<circle cx="78.24" cy="209.76" r="0.4" fill="#f0c8d8" opacity="0.8"/>
<circle cx="81.29" cy="211.16" r="0.4" fill="#f0c8d8" opacity="0.8"/>
<circle cx="80.47" cy="213.87" r="0.4" fill="#f0c8d8" opacity="0.8"/>
<circle cx="85.96" cy="213.89" r="0.4" fill="#a8cce8" opacity="0.8"/>
<circle cx="82.72" cy="214.83" r="0.4" fill="#f0c8d8" opacity="0.8"/>
<ellipse cx="83.00" cy="208.90" rx="8.60" ry="1.80" fill="#9fb4a0" opacity="0.6" filter="url(#b0)" transform="rotate(5 83.00 208.90)"/>
<ellipse cx="82.98" cy="208.90" rx="7.91" ry="1.52" fill="#8c9a5a" opacity="0.85" filter="url(#b0)" transform="rotate(5 82.98 208.90)"/>
<ellipse cx="82.94" cy="208.90" rx="6.71" ry="1.29" fill="#7aa048" opacity="0.85" filter="url(#b0)" transform="rotate(5 82.94 208.90)"/>
<ellipse cx="82.89" cy="208.90" rx="5.16" ry="1.10" fill="#b89a40" opacity="0.9" filter="url(#b0)" transform="rotate(5 82.89 208.90)"/>
<ellipse cx="82.83" cy="208.90" rx="3.61" ry="0.95" fill="#e07a28" opacity="0.95" filter="url(#b0)" transform="rotate(5 82.83 208.90)"/>
<ellipse cx="82.80" cy="208.90" rx="2.41" ry="0.80" fill="#ea3a14" opacity="1.0" filter="url(#b0)" transform="rotate(5 82.80 208.90)"/>
<ellipse cx="83.00" cy="207.47" rx="6.88" ry="0.45" fill="#5a5a3a" opacity="0.45" filter="url(#b0)" transform="rotate(5 83.00 207.47)"/>
</g>
<ellipse cx="78.00" cy="236.00" rx="2.60" ry="4.60" fill="#bfe2e6" opacity="0.55" filter="url(#b1)"/>
<circle cx="74.87" cy="232.85" r="0.45" fill="#6f9da6" opacity="0.8"/>
<circle cx="79.11" cy="231.98" r="0.45" fill="#8ab5b8" opacity="0.8"/>
<circle cx="78.21" cy="238.50" r="0.45" fill="#8ab5b8" opacity="0.8"/>
<circle cx="78.49" cy="240.18" r="0.45" fill="#6f9da6" opacity="0.8"/>
<circle cx="79.52" cy="238.29" r="0.45" fill="#6f9da6" opacity="0.8"/>
<circle cx="78.00" cy="241.24" r="0.45" fill="#6f9da6" opacity="0.8"/>
<circle cx="77.24" cy="239.89" r="0.45" fill="#8ab5b8" opacity="0.8"/>
<circle cx="76.28" cy="229.37" r="0.45" fill="#7fb0b5" opacity="0.8"/>
<circle cx="74.73" cy="234.65" r="0.45" fill="#a8cfd0" opacity="0.8"/>
<circle cx="78.68" cy="240.48" r="0.45" fill="#a8cfd0" opacity="0.8"/>
<circle cx="77.91" cy="235.15" r="0.45" fill="#4f7f8a" opacity="0.8"/>
<circle cx="78.91" cy="234.28" r="0.45" fill="#4f7f8a" opacity="0.8"/>
<circle cx="79.15" cy="236.46" r="0.45" fill="#7fb0b5" opacity="0.8"/>
<circle cx="78.32" cy="232.05" r="0.45" fill="#6f9da6" opacity="0.8"/>
<circle cx="80.05" cy="236.17" r="0.45" fill="#4f7f8a" opacity="0.8"/>
<circle cx="76.53" cy="240.03" r="0.45" fill="#5d8a95" opacity="0.8"/>
<circle cx="75.95" cy="227.32" r="0.45" fill="#5d8a95" opacity="0.8"/>
<circle cx="77.56" cy="236.68" r="0.45" fill="#7fb0b5" opacity="0.8"/>
<circle cx="75.86" cy="234.64" r="0.45" fill="#8ab5b8" opacity="0.8"/>
<circle cx="79.09" cy="238.55" r="0.45" fill="#4f7f8a" opacity="0.8"/>
<circle cx="74.96" cy="236.88" r="0.45" fill="#a8cfd0" opacity="0.8"/>
<circle cx="76.89" cy="235.40" r="0.45" fill="#6f9da6" opacity="0.8"/>
<circle cx="78.34" cy="237.13" r="0.45" fill="#8ab5b8" opacity="0.8"/>
<circle cx="76.08" cy="232.46" r="0.45" fill="#a8cfd0" opacity="0.8"/>
<circle cx="73.89" cy="238.31" r="0.45" fill="#5d8a95" opacity="0.8"/>
<circle cx="75.38" cy="239.66" r="0.45" fill="#8ab5b8" opacity="0.8"/>
<circle cx="77.53" cy="239.61" r="0.45" fill="#5d8a95" opacity="0.8"/>
<circle cx="79.18" cy="237.58" r="0.45" fill="#7fb0b5" opacity="0.8"/>
<circle cx="80.35" cy="238.46" r="0.45" fill="#4f7f8a" opacity="0.8"/>
<circle cx="76.31" cy="232.80" r="0.45" fill="#4f7f8a" opacity="0.8"/>
<circle cx="80.09" cy="238.89" r="0.45" fill="#4f7f8a" opacity="0.8"/>
<circle cx="79.19" cy="236.00" r="0.45" fill="#8ab5b8" opacity="0.8"/>
<circle cx="76.00" cy="230.80" r="0.45" fill="#6f9da6" opacity="0.8"/>
<circle cx="79.01" cy="239.35" r="0.45" fill="#a8cfd0" opacity="0.8"/>
<circle cx="73.55" cy="229.58" r="0.45" fill="#6f9da6" opacity="0.8"/>
<circle cx="78.66" cy="235.61" r="0.45" fill="#8ab5b8" opacity="0.8"/>
<circle cx="76.94" cy="241.27" r="0.45" fill="#a8cfd0" opacity="0.8"/>
<circle cx="78.40" cy="236.78" r="0.45" fill="#7fb0b5" opacity="0.8"/>
<circle cx="77.07" cy="241.81" r="0.45" fill="#5d8a95" opacity="0.8"/>
<circle cx="77.68" cy="238.81" r="0.45" fill="#6f9da6" opacity="0.8"/>
<circle cx="79.84" cy="246.60" r="0.45" fill="#4f7f8a" opacity="0.8"/>
<circle cx="78.42" cy="241.32" r="0.45" fill="#8ab5b8" opacity="0.8"/>
<circle cx="79.76" cy="228.58" r="0.45" fill="#8ab5b8" opacity="0.8"/>
<circle cx="79.44" cy="238.72" r="0.45" fill="#7fb0b5" opacity="0.8"/>
<circle cx="78.21" cy="236.32" r="0.45" fill="#5d8a95" opacity="0.8"/>
<circle cx="80.33" cy="228.71" r="0.45" fill="#6f9da6" opacity="0.8"/>
<circle cx="77.08" cy="239.16" r="0.45" fill="#a8cfd0" opacity="0.8"/>
<circle cx="77.12" cy="232.16" r="0.45" fill="#7fb0b5" opacity="0.8"/>
<circle cx="75.25" cy="228.15" r="0.45" fill="#7fb0b5" opacity="0.8"/>
<circle cx="79.88" cy="237.56" r="0.45" fill="#7fb0b5" opacity="0.8"/>
<circle cx="78.74" cy="240.28" r="0.45" fill="#8ab5b8" opacity="0.8"/>
<circle cx="78.22" cy="230.63" r="0.45" fill="#8ab5b8" opacity="0.8"/>
<circle cx="76.09" cy="238.12" r="0.45" fill="#4f7f8a" opacity="0.8"/>
<circle cx="79.76" cy="237.04" r="0.45" fill="#4f7f8a" opacity="0.8"/>
<circle cx="78.43" cy="230.94" r="0.45" fill="#6f9da6" opacity="0.8"/>
<circle cx="77.74" cy="237.02" r="0.45" fill="#8ab5b8" opacity="0.8"/>
<circle cx="77.60" cy="234.84" r="0.45" fill="#7fb0b5" opacity="0.8"/>
<circle cx="80.98" cy="235.09" r="0.45" fill="#6f9da6" opacity="0.8"/>
<circle cx="78.12" cy="230.84" r="0.45" fill="#7fb0b5" opacity="0.8"/>
<circle cx="78.84" cy="233.90" r="0.45" fill="#5d8a95" opacity="0.8"/>
<circle cx="77.28" cy="231.28" r="0.45" fill="#a8cfd0" opacity="0.8"/>
<circle cx="78.64" cy="232.99" r="0.45" fill="#7fb0b5" opacity="0.8"/>
<circle cx="77.94" cy="242.82" r="0.45" fill="#5d8a95" opacity="0.8"/>
<circle cx="75.07" cy="243.48" r="0.45" fill="#8ab5b8" opacity="0.8"/>
<circle cx="76.27" cy="237.16" r="0.45" fill="#6f9da6" opacity="0.8"/>
<circle cx="77.20" cy="233.28" r="0.45" fill="#4f7f8a" opacity="0.8"/>
<circle cx="78.96" cy="236.09" r="0.45" fill="#4f7f8a" opacity="0.8"/>
<circle cx="78.68" cy="235.33" r="0.45" fill="#8ab5b8" opacity="0.8"/>
<circle cx="78.85" cy="241.33" r="0.45" fill="#5d8a95" opacity="0.8"/>
<circle cx="77.06" cy="241.16" r="0.45" fill="#a8cfd0" opacity="0.8"/>
<circle cx="80.84" cy="237.88" r="0.45" fill="#a8cfd0" opacity="0.8"/>
<circle cx="82.25" cy="237.79" r="0.45" fill="#4f7f8a" opacity="0.8"/>
<circle cx="77.31" cy="237.18" r="0.45" fill="#a8cfd0" opacity="0.8"/>
<circle cx="77.10" cy="240.07" r="0.45" fill="#a8cfd0" opacity="0.8"/>
<circle cx="77.93" cy="237.17" r="0.45" fill="#4f7f8a" opacity="0.8"/>
<circle cx="79.45" cy="233.58" r="0.45" fill="#a8cfd0" opacity="0.8"/>
<circle cx="79.19" cy="235.29" r="0.45" fill="#5d8a95" opacity="0.8"/>
<circle cx="78.12" cy="232.67" r="0.45" fill="#6f9da6" opacity="0.8"/>
<circle cx="77.84" cy="242.80" r="0.45" fill="#8ab5b8" opacity="0.8"/>
<circle cx="80.56" cy="237.85" r="0.45" fill="#5d8a95" opacity="0.8"/>
<circle cx="77.85" cy="234.81" r="0.45" fill="#8ab5b8" opacity="0.8"/>
<circle cx="81.78" cy="235.73" r="0.45" fill="#a8cfd0" opacity="0.8"/>
<circle cx="78.92" cy="239.52" r="0.45" fill="#5d8a95" opacity="0.8"/>
<circle cx="75.86" cy="231.88" r="0.45" fill="#7fb0b5" opacity="0.8"/>
<circle cx="79.21" cy="230.39" r="0.45" fill="#6f9da6" opacity="0.8"/>
<circle cx="77.31" cy="235.46" r="0.45" fill="#2f5f68" opacity="0.85"/>
<circle cx="79.83" cy="235.39" r="0.45" fill="#2f5f68" opacity="0.85"/>
<circle cx="78.18" cy="232.68" r="0.45" fill="#2f5f68" opacity="0.85"/>
<circle cx="76.60" cy="234.73" r="0.45" fill="#3a6f78" opacity="0.85"/>
<circle cx="77.54" cy="238.79" r="0.45" fill="#3a6f78" opacity="0.85"/>
<circle cx="77.13" cy="239.83" r="0.45" fill="#3a6f78" opacity="0.85"/>
<circle cx="77.96" cy="235.81" r="0.45" fill="#285a5a" opacity="0.85"/>
<circle cx="77.79" cy="236.61" r="0.45" fill="#2f5f68" opacity="0.85"/>
<circle cx="78.50" cy="236.35" r="0.45" fill="#3a6f78" opacity="0.85"/>
<circle cx="78.66" cy="233.78" r="0.45" fill="#2f5f68" opacity="0.85"/>
<circle cx="77.07" cy="235.56" r="0.45" fill="#2f5f68" opacity="0.85"/>
<circle cx="79.19" cy="235.76" r="0.45" fill="#3a6f78" opacity="0.85"/>
<circle cx="79.86" cy="237.10" r="0.45" fill="#285a5a" opacity="0.85"/>
<circle cx="78.05" cy="234.53" r="0.45" fill="#3a6f78" opacity="0.85"/>
<circle cx="77.79" cy="236.59" r="0.45" fill="#285a5a" opacity="0.85"/>
<circle cx="79.13" cy="237.93" r="0.45" fill="#3a6f78" opacity="0.85"/>
<circle cx="77.00" cy="230.07" r="0.45" fill="#285a5a" opacity="0.85"/>
<circle cx="77.38" cy="235.71" r="0.45" fill="#2f5f68" opacity="0.85"/>
<circle cx="78.68" cy="233.17" r="0.45" fill="#285a5a" opacity="0.85"/>
<circle cx="79.64" cy="236.27" r="0.45" fill="#3a6f78" opacity="0.85"/>
<circle cx="77.43" cy="242.56" r="0.45" fill="#2f5f68" opacity="0.85"/>
<circle cx="77.77" cy="241.25" r="0.45" fill="#3a6f78" opacity="0.85"/>
<line x1="102.90" y1="208.50" x2="102.90" y2="215.80" stroke="#7a8898" stroke-width="0.8" opacity="0.9"/>
<circle cx="103.75" cy="212.94" r="0.35" fill="#9ab8d0" opacity="0.8"/>
<circle cx="104.89" cy="217.47" r="0.35" fill="#c0d8c0" opacity="0.8"/>
<circle cx="104.07" cy="218.50" r="0.35" fill="#c0d8c0" opacity="0.8"/>
<circle cx="102.95" cy="213.23" r="0.35" fill="#9ab8d0" opacity="0.8"/>
<circle cx="103.90" cy="211.27" r="0.35" fill="#9ab8d0" opacity="0.8"/>
<circle cx="102.65" cy="218.52" r="0.35" fill="#c0d8c0" opacity="0.8"/>
<circle cx="105.96" cy="211.83" r="0.35" fill="#9ab8d0" opacity="0.8"/>
<circle cx="103.91" cy="212.17" r="0.35" fill="#9ab8d0" opacity="0.8"/>
<circle cx="102.68" cy="211.95" r="0.35" fill="#9ab8d0" opacity="0.8"/>
<circle cx="101.50" cy="210.57" r="0.35" fill="#c0d8c0" opacity="0.8"/>
</g>
<line x1="94.50" y1="201.50" x2="94.50" y2="256.50" stroke="#6a6c74" stroke-width="0.85"/>
<line x1="60.50" y1="227.50" x2="119.50" y2="227.50" stroke="#6a6c74" stroke-width="0.85"/>
<line x1="60.05" y1="201.50" x2="119.95" y2="201.50" stroke="#4a4c66" stroke-width="0.9"/>
<line x1="119.50" y1="201.50" x2="119.50" y2="256.50" stroke="#6a6c84" stroke-width="0.9"/>
<line x1="60.50" y1="201.05" x2="60.50" y2="257.00" stroke="#2e3570" stroke-width="1.0"/>
<line x1="60.00" y1="256.50" x2="119.95" y2="256.50" stroke="#2e3570" stroke-width="1.0"/>
<line x1="59.30" y1="207.90" x2="60.50" y2="207.90" stroke="#2e3570" stroke-width="0.7"/>
<line x1="59.30" y1="216.50" x2="60.50" y2="216.50" stroke="#2e3570" stroke-width="0.7"/>
<line x1="59.30" y1="227.50" x2="60.50" y2="227.50" stroke="#2e3570" stroke-width="0.7"/>
<line x1="59.30" y1="239.90" x2="60.50" y2="239.90" stroke="#2e3570" stroke-width="0.7"/>
<line x1="59.30" y1="249.50" x2="60.50" y2="249.50" stroke="#2e3570" stroke-width="0.7"/>
<text x="61.90" y="206.96" font-size="4.6" fill="#231f20" stroke="#231f20" stroke-width="0.12">67.53%</text>
<text x="116.70" y="206.96" font-size="4.6" fill="#e03a3a" stroke="#e03a3a" stroke-width="0.1" text-anchor="end">5.56%</text>
<text x="61.90" y="254.86" font-size="4.6" fill="#231f20" stroke="#231f20" stroke-width="0.12">26.78%</text>
<text x="116.70" y="254.86" font-size="4.6" fill="#231f20" stroke="#231f20" stroke-width="0.12" text-anchor="end">0.13%</text>
<text x="57.90" y="209.60" font-size="5.0" fill="#231f20" stroke="#231f20" stroke-width="0.12" text-anchor="end">10<tspan dy="-2.0" font-size="3.5">6</tspan></text>
<text x="57.90" y="218.30" font-size="5.0" fill="#231f20" stroke="#231f20" stroke-width="0.12" text-anchor="end">10<tspan dy="-2.0" font-size="3.5">5</tspan></text>
<text x="57.90" y="229.50" font-size="5.0" fill="#231f20" stroke="#231f20" stroke-width="0.12" text-anchor="end">10<tspan dy="-2.0" font-size="3.5">4</tspan></text>
<text x="57.90" y="241.70" font-size="5.0" fill="#231f20" stroke="#231f20" stroke-width="0.12" text-anchor="end">10<tspan dy="-2.0" font-size="3.5">3</tspan></text>
<text x="57.90" y="251.30" font-size="5.0" fill="#231f20" stroke="#231f20" stroke-width="0.12" text-anchor="end">−10<tspan dy="-2.0" font-size="3.5">3</tspan></text>
<text x="62.70" y="264.90" font-size="5.0" fill="#231f20" stroke="#231f20" stroke-width="0.12" text-anchor="middle">−10<tspan dy="-2.0" font-size="3.5">4</tspan></text>
<text x="75.70" y="264.90" font-size="5.0" fill="#231f20" stroke="#231f20" stroke-width="0.12" text-anchor="middle">−10<tspan dy="-2.0" font-size="3.5">3</tspan></text>
<text x="88.90" y="264.90" font-size="5.0" fill="#231f20" stroke="#231f20" stroke-width="0.12" text-anchor="middle">10<tspan dy="-2.0" font-size="3.5">4</tspan></text>
<text x="102.70" y="264.90" font-size="5.0" fill="#231f20" stroke="#231f20" stroke-width="0.12" text-anchor="middle">10<tspan dy="-2.0" font-size="3.5">5</tspan></text>
<text x="113.30" y="264.90" font-size="5.0" fill="#231f20" stroke="#231f20" stroke-width="0.12" text-anchor="middle">10<tspan dy="-2.0" font-size="3.5">6</tspan></text>
<text x="90.00" y="275.02" font-size="7.0" fill="#231f20" stroke="#231f20" stroke-width="0.3" text-anchor="middle" textLength="11.5" lengthAdjust="spacingAndGlyphs">7AAD</text>
<g clip-path="url(#cp01)">
<g clip-path="url(#bc01)">
<circle cx="172.09" cy="209.30" r="0.4" fill="#a8cce8" opacity="0.8"/>
<circle cx="163.82" cy="211.43" r="0.4" fill="#a8cce8" opacity="0.8"/>
<circle cx="165.91" cy="210.43" r="0.4" fill="#9fd8d0" opacity="0.8"/>
<circle cx="164.46" cy="209.16" r="0.4" fill="#f0c8d8" opacity="0.8"/>
<circle cx="173.33" cy="212.92" r="0.4" fill="#b8dcf0" opacity="0.8"/>
<circle cx="170.17" cy="210.09" r="0.4" fill="#c8e8c0" opacity="0.8"/>
<circle cx="171.89" cy="215.13" r="0.4" fill="#c8e8c0" opacity="0.8"/>
<circle cx="161.96" cy="209.44" r="0.4" fill="#a8cce8" opacity="0.8"/>
<circle cx="172.87" cy="213.23" r="0.4" fill="#f0c8d8" opacity="0.8"/>
<circle cx="169.68" cy="209.29" r="0.4" fill="#b8dcf0" opacity="0.8"/>
<circle cx="174.24" cy="214.52" r="0.4" fill="#f0c8d8" opacity="0.8"/>
<circle cx="168.73" cy="208.92" r="0.4" fill="#f0c8d8" opacity="0.8"/>
<circle cx="172.44" cy="209.23" r="0.4" fill="#b8dcf0" opacity="0.8"/>
<circle cx="160.92" cy="213.10" r="0.4" fill="#a8cce8" opacity="0.8"/>
<circle cx="165.63" cy="209.88" r="0.4" fill="#c8e8c0" opacity="0.8"/>
<circle cx="168.57" cy="211.82" r="0.4" fill="#b8dcf0" opacity="0.8"/>
<circle cx="167.45" cy="211.93" r="0.4" fill="#a8cce8" opacity="0.8"/>
<circle cx="166.93" cy="215.42" r="0.4" fill="#f0c8d8" opacity="0.8"/>
<circle cx="161.03" cy="211.87" r="0.4" fill="#f0c8d8" opacity="0.8"/>
<circle cx="160.62" cy="208.90" r="0.4" fill="#a8cce8" opacity="0.8"/>
<circle cx="173.22" cy="211.13" r="0.4" fill="#b8dcf0" opacity="0.8"/>
<circle cx="171.33" cy="210.16" r="0.4" fill="#c8e8c0" opacity="0.8"/>
<circle cx="167.53" cy="213.74" r="0.4" fill="#c8e8c0" opacity="0.8"/>
<circle cx="160.79" cy="210.93" r="0.4" fill="#a8cce8" opacity="0.8"/>
<circle cx="169.51" cy="210.10" r="0.4" fill="#b8dcf0" opacity="0.8"/>
<circle cx="160.80" cy="210.17" r="0.4" fill="#9fd8d0" opacity="0.8"/>
<circle cx="169.58" cy="210.66" r="0.4" fill="#b8dcf0" opacity="0.8"/>
<circle cx="159.75" cy="211.05" r="0.4" fill="#a8cce8" opacity="0.8"/>
<circle cx="170.73" cy="209.64" r="0.4" fill="#c8e8c0" opacity="0.8"/>
<circle cx="164.25" cy="212.26" r="0.4" fill="#c8e8c0" opacity="0.8"/>
<circle cx="171.94" cy="209.07" r="0.4" fill="#f0c8d8" opacity="0.8"/>
<circle cx="162.77" cy="216.14" r="0.4" fill="#a8cce8" opacity="0.8"/>
<circle cx="164.23" cy="209.73" r="0.4" fill="#a8cce8" opacity="0.8"/>
<circle cx="172.79" cy="212.13" r="0.4" fill="#9fd8d0" opacity="0.8"/>
<circle cx="165.80" cy="209.40" r="0.4" fill="#b8dcf0" opacity="0.8"/>
<circle cx="160.75" cy="213.18" r="0.4" fill="#9fd8d0" opacity="0.8"/>
<circle cx="174.94" cy="211.55" r="0.4" fill="#b8dcf0" opacity="0.8"/>
<circle cx="169.29" cy="210.45" r="0.4" fill="#a8cce8" opacity="0.8"/>
<circle cx="170.91" cy="210.61" r="0.4" fill="#b8dcf0" opacity="0.8"/>
<circle cx="167.59" cy="210.98" r="0.4" fill="#b8dcf0" opacity="0.8"/>
<circle cx="159.61" cy="210.95" r="0.4" fill="#c8e8c0" opacity="0.8"/>
<circle cx="170.56" cy="212.97" r="0.4" fill="#c8e8c0" opacity="0.8"/>
<circle cx="165.10" cy="211.59" r="0.4" fill="#9fd8d0" opacity="0.8"/>
<circle cx="161.50" cy="210.09" r="0.4" fill="#9fd8d0" opacity="0.8"/>
<circle cx="173.10" cy="211.17" r="0.4" fill="#a8cce8" opacity="0.8"/>
<ellipse cx="167.20" cy="208.20" rx="8.50" ry="1.99" fill="#9fb4a0" opacity="0.6" filter="url(#b0)" transform="rotate(2 167.20 208.20)"/>
<ellipse cx="167.27" cy="208.23" rx="7.82" ry="1.68" fill="#8c9a5a" opacity="0.85" filter="url(#b0)" transform="rotate(2 167.27 208.23)"/>
<ellipse cx="167.39" cy="208.29" rx="6.63" ry="1.43" fill="#7aa048" opacity="0.85" filter="url(#b0)" transform="rotate(2 167.39 208.29)"/>
<ellipse cx="167.54" cy="208.37" rx="5.10" ry="1.22" fill="#b89a40" opacity="0.9" filter="url(#b0)" transform="rotate(2 167.54 208.37)"/>
<ellipse cx="167.70" cy="208.45" rx="3.57" ry="1.05" fill="#e07a28" opacity="0.95" filter="url(#b0)" transform="rotate(2 167.70 208.45)"/>
<ellipse cx="167.80" cy="208.50" rx="2.64" ry="0.88" fill="#ea3a14" opacity="1.0" filter="url(#b0)" transform="rotate(2 167.80 208.50)"/>
<ellipse cx="167.20" cy="206.62" rx="6.80" ry="0.45" fill="#5a5a3a" opacity="0.45" filter="url(#b0)" transform="rotate(2 167.20 206.62)"/>
</g>
<ellipse cx="161.50" cy="237.30" rx="2.60" ry="4.83" fill="#bfe2e6" opacity="0.55" filter="url(#b1)"/>
<ellipse cx="161.90" cy="242.30" rx="1.90" ry="2.60" fill="#7fa070" opacity="0.75" filter="url(#b0)"/>
<circle cx="162.58" cy="236.28" r="0.45" fill="#6f9da6" opacity="0.8"/>
<circle cx="162.68" cy="235.29" r="0.45" fill="#5d8a95" opacity="0.8"/>
<circle cx="163.10" cy="238.96" r="0.45" fill="#7fb0b5" opacity="0.8"/>
<circle cx="165.05" cy="241.72" r="0.45" fill="#5d8a95" opacity="0.8"/>
<circle cx="162.37" cy="234.60" r="0.45" fill="#6f9da6" opacity="0.8"/>
<circle cx="162.23" cy="234.33" r="0.45" fill="#8ab5b8" opacity="0.8"/>
<circle cx="161.51" cy="240.60" r="0.45" fill="#7fb0b5" opacity="0.8"/>
<circle cx="160.29" cy="243.93" r="0.45" fill="#a8cfd0" opacity="0.8"/>
<circle cx="163.90" cy="232.20" r="0.45" fill="#4f7f8a" opacity="0.8"/>
<circle cx="158.60" cy="242.34" r="0.45" fill="#7fb0b5" opacity="0.8"/>
<circle cx="158.83" cy="235.26" r="0.45" fill="#6f9da6" opacity="0.8"/>
<circle cx="163.15" cy="235.55" r="0.45" fill="#7fb0b5" opacity="0.8"/>
<circle cx="161.54" cy="231.26" r="0.45" fill="#5d8a95" opacity="0.8"/>
<circle cx="157.65" cy="238.14" r="0.45" fill="#7fb0b5" opacity="0.8"/>
<circle cx="162.88" cy="240.71" r="0.45" fill="#5d8a95" opacity="0.8"/>
<circle cx="161.23" cy="240.46" r="0.45" fill="#4f7f8a" opacity="0.8"/>
<circle cx="162.85" cy="236.82" r="0.45" fill="#4f7f8a" opacity="0.8"/>
<circle cx="161.64" cy="242.11" r="0.45" fill="#4f7f8a" opacity="0.8"/>
<circle cx="160.66" cy="238.87" r="0.45" fill="#8ab5b8" opacity="0.8"/>
<circle cx="163.34" cy="239.55" r="0.45" fill="#a8cfd0" opacity="0.8"/>
<circle cx="159.67" cy="235.86" r="0.45" fill="#5d8a95" opacity="0.8"/>
<circle cx="163.42" cy="237.20" r="0.45" fill="#8ab5b8" opacity="0.8"/>
<circle cx="160.25" cy="236.37" r="0.45" fill="#8ab5b8" opacity="0.8"/>
<circle cx="161.08" cy="238.84" r="0.45" fill="#8ab5b8" opacity="0.8"/>
<circle cx="159.34" cy="242.93" r="0.45" fill="#8ab5b8" opacity="0.8"/>
<circle cx="163.72" cy="232.75" r="0.45" fill="#a8cfd0" opacity="0.8"/>
<circle cx="159.35" cy="241.97" r="0.45" fill="#8ab5b8" opacity="0.8"/>
<circle cx="160.36" cy="239.97" r="0.45" fill="#6f9da6" opacity="0.8"/>
<circle cx="159.21" cy="237.36" r="0.45" fill="#5d8a95" opacity="0.8"/>
<circle cx="162.96" cy="240.83" r="0.45" fill="#4f7f8a" opacity="0.8"/>
<circle cx="162.35" cy="229.40" r="0.45" fill="#6f9da6" opacity="0.8"/>
<circle cx="161.33" cy="240.45" r="0.45" fill="#a8cfd0" opacity="0.8"/>
<circle cx="160.36" cy="233.76" r="0.45" fill="#5d8a95" opacity="0.8"/>
<circle cx="163.57" cy="230.36" r="0.45" fill="#6f9da6" opacity="0.8"/>
<circle cx="162.79" cy="240.47" r="0.45" fill="#a8cfd0" opacity="0.8"/>
<circle cx="163.50" cy="236.34" r="0.45" fill="#6f9da6" opacity="0.8"/>
<circle cx="158.38" cy="243.35" r="0.45" fill="#7fb0b5" opacity="0.8"/>
<circle cx="164.39" cy="228.43" r="0.45" fill="#8ab5b8" opacity="0.8"/>
<circle cx="161.76" cy="234.37" r="0.45" fill="#8ab5b8" opacity="0.8"/>
<circle cx="158.87" cy="236.41" r="0.45" fill="#4f7f8a" opacity="0.8"/>
<circle cx="160.47" cy="229.55" r="0.45" fill="#a8cfd0" opacity="0.8"/>
<circle cx="164.12" cy="241.00" r="0.45" fill="#6f9da6" opacity="0.8"/>
<circle cx="161.76" cy="234.31" r="0.45" fill="#6f9da6" opacity="0.8"/>
<circle cx="160.59" cy="234.47" r="0.45" fill="#8ab5b8" opacity="0.8"/>
<circle cx="159.99" cy="233.63" r="0.45" fill="#a8cfd0" opacity="0.8"/>
<circle cx="161.23" cy="235.36" r="0.45" fill="#6f9da6" opacity="0.8"/>
<circle cx="160.19" cy="246.87" r="0.45" fill="#8ab5b8" opacity="0.8"/>
<circle cx="160.55" cy="239.23" r="0.45" fill="#7fb0b5" opacity="0.8"/>
<circle cx="163.68" cy="237.34" r="0.45" fill="#a8cfd0" opacity="0.8"/>
<circle cx="161.23" cy="240.90" r="0.45" fill="#8ab5b8" opacity="0.8"/>
<circle cx="160.23" cy="237.77" r="0.45" fill="#8ab5b8" opacity="0.8"/>
<circle cx="163.28" cy="238.09" r="0.45" fill="#4f7f8a" opacity="0.8"/>
<circle cx="161.37" cy="238.12" r="0.45" fill="#a8cfd0" opacity="0.8"/>
<circle cx="163.40" cy="233.29" r="0.45" fill="#6f9da6" opacity="0.8"/>
<circle cx="161.38" cy="243.53" r="0.45" fill="#5d8a95" opacity="0.8"/>
<circle cx="161.57" cy="238.39" r="0.45" fill="#5d8a95" opacity="0.8"/>
<circle cx="161.17" cy="233.39" r="0.45" fill="#a8cfd0" opacity="0.8"/>
<circle cx="162.50" cy="244.41" r="0.45" fill="#4f7f8a" opacity="0.8"/>
<circle cx="161.87" cy="236.00" r="0.45" fill="#a8cfd0" opacity="0.8"/>
<circle cx="162.99" cy="236.62" r="0.45" fill="#8ab5b8" opacity="0.8"/>
<circle cx="161.65" cy="240.25" r="0.45" fill="#5d8a95" opacity="0.8"/>
<circle cx="163.40" cy="241.01" r="0.45" fill="#7fb0b5" opacity="0.8"/>
<circle cx="161.98" cy="240.06" r="0.45" fill="#a8cfd0" opacity="0.8"/>
<circle cx="162.01" cy="236.54" r="0.45" fill="#7fb0b5" opacity="0.8"/>
<circle cx="162.56" cy="240.64" r="0.45" fill="#8ab5b8" opacity="0.8"/>
<circle cx="163.84" cy="238.14" r="0.45" fill="#a8cfd0" opacity="0.8"/>
<circle cx="162.09" cy="237.77" r="0.45" fill="#a8cfd0" opacity="0.8"/>
<circle cx="158.87" cy="239.36" r="0.45" fill="#5d8a95" opacity="0.8"/>
<circle cx="160.84" cy="222.83" r="0.45" fill="#8ab5b8" opacity="0.8"/>
<circle cx="160.96" cy="239.66" r="0.45" fill="#7fb0b5" opacity="0.8"/>
<circle cx="161.49" cy="236.23" r="0.45" fill="#4f7f8a" opacity="0.8"/>
<circle cx="160.98" cy="229.37" r="0.45" fill="#5d8a95" opacity="0.8"/>
<circle cx="160.71" cy="238.01" r="0.45" fill="#6f9da6" opacity="0.8"/>
<circle cx="161.20" cy="241.14" r="0.45" fill="#6f9da6" opacity="0.8"/>
<circle cx="158.76" cy="234.65" r="0.45" fill="#a8cfd0" opacity="0.8"/>
<circle cx="159.48" cy="243.41" r="0.45" fill="#a8cfd0" opacity="0.8"/>
<circle cx="163.84" cy="240.74" r="0.45" fill="#8ab5b8" opacity="0.8"/>
<circle cx="158.75" cy="244.06" r="0.45" fill="#8ab5b8" opacity="0.8"/>
<circle cx="160.22" cy="243.45" r="0.45" fill="#a8cfd0" opacity="0.8"/>
<circle cx="163.27" cy="238.12" r="0.45" fill="#4f7f8a" opacity="0.8"/>
<circle cx="161.55" cy="236.10" r="0.45" fill="#6f9da6" opacity="0.8"/>
<circle cx="158.42" cy="239.00" r="0.45" fill="#6f9da6" opacity="0.8"/>
<circle cx="161.37" cy="244.26" r="0.45" fill="#7fb0b5" opacity="0.8"/>
<circle cx="160.76" cy="240.14" r="0.45" fill="#7fb0b5" opacity="0.8"/>
<circle cx="164.30" cy="239.18" r="0.45" fill="#4f7f8a" opacity="0.8"/>
<circle cx="161.16" cy="240.27" r="0.45" fill="#2f5f68" opacity="0.85"/>
<circle cx="161.25" cy="233.35" r="0.45" fill="#285a5a" opacity="0.85"/>
<circle cx="161.86" cy="237.39" r="0.45" fill="#2f5f68" opacity="0.85"/>
<circle cx="162.79" cy="241.13" r="0.45" fill="#3a6f78" opacity="0.85"/>
<circle cx="162.49" cy="236.85" r="0.45" fill="#3a6f78" opacity="0.85"/>
<circle cx="163.13" cy="234.61" r="0.45" fill="#2f5f68" opacity="0.85"/>
<circle cx="162.09" cy="236.87" r="0.45" fill="#285a5a" opacity="0.85"/>
<circle cx="160.98" cy="242.67" r="0.45" fill="#2f5f68" opacity="0.85"/>
<circle cx="160.78" cy="235.93" r="0.45" fill="#3a6f78" opacity="0.85"/>
<circle cx="159.73" cy="239.23" r="0.45" fill="#285a5a" opacity="0.85"/>
<circle cx="162.11" cy="238.86" r="0.45" fill="#2f5f68" opacity="0.85"/>
<circle cx="161.51" cy="239.03" r="0.45" fill="#2f5f68" opacity="0.85"/>
<circle cx="160.20" cy="238.28" r="0.45" fill="#2f5f68" opacity="0.85"/>
<circle cx="163.64" cy="236.94" r="0.45" fill="#2f5f68" opacity="0.85"/>
<circle cx="161.46" cy="239.20" r="0.45" fill="#2f5f68" opacity="0.85"/>
<circle cx="158.77" cy="242.58" r="0.45" fill="#3a6f78" opacity="0.85"/>
<circle cx="161.76" cy="239.39" r="0.45" fill="#3a6f78" opacity="0.85"/>
<circle cx="160.37" cy="234.35" r="0.45" fill="#285a5a" opacity="0.85"/>
<circle cx="159.76" cy="236.41" r="0.45" fill="#2f5f68" opacity="0.85"/>
<circle cx="161.66" cy="235.05" r="0.45" fill="#3a6f78" opacity="0.85"/>
<circle cx="160.58" cy="236.48" r="0.45" fill="#285a5a" opacity="0.85"/>
<circle cx="161.43" cy="241.41" r="0.45" fill="#2f5f68" opacity="0.85"/>
<line x1="188.40" y1="206.20" x2="188.40" y2="214.00" stroke="#6a8a98" stroke-width="0.8" opacity="0.9"/>
<circle cx="188.42" cy="215.75" r="0.35" fill="#c0d8c0" opacity="0.8"/>
<circle cx="189.09" cy="208.23" r="0.35" fill="#9ab8d0" opacity="0.8"/>
<circle cx="185.42" cy="211.68" r="0.35" fill="#9ab8d0" opacity="0.8"/>
<circle cx="190.68" cy="213.22" r="0.35" fill="#9ab8d0" opacity="0.8"/>
<circle cx="186.30" cy="207.31" r="0.35" fill="#b0c8e0" opacity="0.8"/>
<circle cx="185.38" cy="215.73" r="0.35" fill="#9ab8d0" opacity="0.8"/>
<circle cx="189.83" cy="206.64" r="0.35" fill="#b0c8e0" opacity="0.8"/>
<circle cx="186.16" cy="208.72" r="0.35" fill="#9ab8d0" opacity="0.8"/>
<circle cx="189.60" cy="212.50" r="0.35" fill="#9ab8d0" opacity="0.8"/>
<circle cx="191.40" cy="210.22" r="0.35" fill="#9ab8d0" opacity="0.8"/>
</g>
<line x1="178.60" y1="201.50" x2="178.60" y2="256.50" stroke="#6a6c74" stroke-width="0.85"/>
<line x1="144.50" y1="227.50" x2="204.00" y2="227.50" stroke="#6a6c74" stroke-width="0.85"/>
<line x1="144.05" y1="201.50" x2="204.45" y2="201.50" stroke="#4a4c66" stroke-width="0.9"/>
<line x1="204.00" y1="201.50" x2="204.00" y2="256.50" stroke="#6a6c84" stroke-width="0.9"/>
<line x1="144.50" y1="201.05" x2="144.50" y2="257.00" stroke="#2e3570" stroke-width="1.0"/>
<line x1="144.00" y1="256.50" x2="204.45" y2="256.50" stroke="#2e3570" stroke-width="1.0"/>
<line x1="143.30" y1="207.90" x2="144.50" y2="207.90" stroke="#2e3570" stroke-width="0.7"/>
<line x1="143.30" y1="216.50" x2="144.50" y2="216.50" stroke="#2e3570" stroke-width="0.7"/>
<line x1="143.30" y1="227.50" x2="144.50" y2="227.50" stroke="#2e3570" stroke-width="0.7"/>
<line x1="143.30" y1="239.90" x2="144.50" y2="239.90" stroke="#2e3570" stroke-width="0.7"/>
<line x1="143.30" y1="249.50" x2="144.50" y2="249.50" stroke="#2e3570" stroke-width="0.7"/>
<text x="145.90" y="206.96" font-size="4.6" fill="#231f20" stroke="#231f20" stroke-width="0.12">64.72%</text>
<text x="201.20" y="206.96" font-size="4.6" fill="#e03a3a" stroke="#e03a3a" stroke-width="0.1" text-anchor="end">5.61%</text>
<text x="145.90" y="254.86" font-size="4.6" fill="#231f20" stroke="#231f20" stroke-width="0.12">29.54%</text>
<text x="201.20" y="254.86" font-size="4.6" fill="#231f20" stroke="#231f20" stroke-width="0.12" text-anchor="end">0.19%</text>
<text x="141.90" y="209.60" font-size="5.0" fill="#231f20" stroke="#231f20" stroke-width="0.12" text-anchor="end">10<tspan dy="-2.0" font-size="3.5">6</tspan></text>
<text x="141.90" y="218.30" font-size="5.0" fill="#231f20" stroke="#231f20" stroke-width="0.12" text-anchor="end">10<tspan dy="-2.0" font-size="3.5">5</tspan></text>
<text x="141.90" y="229.50" font-size="5.0" fill="#231f20" stroke="#231f20" stroke-width="0.12" text-anchor="end">10<tspan dy="-2.0" font-size="3.5">4</tspan></text>
<text x="141.90" y="241.70" font-size="5.0" fill="#231f20" stroke="#231f20" stroke-width="0.12" text-anchor="end">10<tspan dy="-2.0" font-size="3.5">3</tspan></text>
<text x="141.90" y="251.30" font-size="5.0" fill="#231f20" stroke="#231f20" stroke-width="0.12" text-anchor="end">−10<tspan dy="-2.0" font-size="3.5">3</tspan></text>
<text x="146.70" y="264.90" font-size="5.0" fill="#231f20" stroke="#231f20" stroke-width="0.12" text-anchor="middle">−10<tspan dy="-2.0" font-size="3.5">4</tspan></text>
<text x="159.70" y="264.90" font-size="5.0" fill="#231f20" stroke="#231f20" stroke-width="0.12" text-anchor="middle">−10<tspan dy="-2.0" font-size="3.5">3</tspan></text>
<text x="172.90" y="264.90" font-size="5.0" fill="#231f20" stroke="#231f20" stroke-width="0.12" text-anchor="middle">10<tspan dy="-2.0" font-size="3.5">4</tspan></text>
<text x="186.70" y="264.90" font-size="5.0" fill="#231f20" stroke="#231f20" stroke-width="0.12" text-anchor="middle">10<tspan dy="-2.0" font-size="3.5">5</tspan></text>
<text x="197.30" y="264.90" font-size="5.0" fill="#231f20" stroke="#231f20" stroke-width="0.12" text-anchor="middle">10<tspan dy="-2.0" font-size="3.5">6</tspan></text>
<text x="174.25" y="275.02" font-size="7.0" fill="#231f20" stroke="#231f20" stroke-width="0.3" text-anchor="middle" textLength="11.5" lengthAdjust="spacingAndGlyphs">7AAD</text>
<g clip-path="url(#cp02)">
<g clip-path="url(#bc02)">
<circle cx="249.06" cy="209.85" r="0.4" fill="#a8cce8" opacity="0.8"/>
<circle cx="242.86" cy="215.04" r="0.4" fill="#f0c8d8" opacity="0.8"/>
<circle cx="253.76" cy="210.02" r="0.4" fill="#9fd8d0" opacity="0.8"/>
<circle cx="243.50" cy="210.22" r="0.4" fill="#b8dcf0" opacity="0.8"/>
<circle cx="259.00" cy="214.55" r="0.4" fill="#b8dcf0" opacity="0.8"/>
<circle cx="255.66" cy="210.74" r="0.4" fill="#9fd8d0" opacity="0.8"/>
<circle cx="248.33" cy="212.59" r="0.4" fill="#a8cce8" opacity="0.8"/>
<circle cx="244.62" cy="212.71" r="0.4" fill="#c8e8c0" opacity="0.8"/>
<circle cx="250.84" cy="210.86" r="0.4" fill="#c8e8c0" opacity="0.8"/>
<circle cx="252.94" cy="210.07" r="0.4" fill="#b8dcf0" opacity="0.8"/>
<circle cx="252.49" cy="211.11" r="0.4" fill="#9fd8d0" opacity="0.8"/>
<circle cx="248.35" cy="210.54" r="0.4" fill="#9fd8d0" opacity="0.8"/>
<circle cx="253.00" cy="210.40" r="0.4" fill="#f0c8d8" opacity="0.8"/>
<circle cx="256.90" cy="210.01" r="0.4" fill="#c8e8c0" opacity="0.8"/>
<circle cx="248.47" cy="216.60" r="0.4" fill="#9fd8d0" opacity="0.8"/>
<circle cx="252.58" cy="217.63" r="0.4" fill="#c8e8c0" opacity="0.8"/>
<circle cx="254.09" cy="209.60" r="0.4" fill="#b8dcf0" opacity="0.8"/>
<circle cx="248.60" cy="209.83" r="0.4" fill="#a8cce8" opacity="0.8"/>
<circle cx="248.28" cy="212.14" r="0.4" fill="#b8dcf0" opacity="0.8"/>
<circle cx="243.30" cy="211.89" r="0.4" fill="#a8cce8" opacity="0.8"/>
<circle cx="250.91" cy="213.95" r="0.4" fill="#a8cce8" opacity="0.8"/>
<circle cx="251.29" cy="214.93" r="0.4" fill="#9fd8d0" opacity="0.8"/>
<circle cx="254.26" cy="210.90" r="0.4" fill="#b8dcf0" opacity="0.8"/>
<circle cx="250.36" cy="212.11" r="0.4" fill="#a8cce8" opacity="0.8"/>
<circle cx="242.91" cy="215.27" r="0.4" fill="#b8dcf0" opacity="0.8"/>
<circle cx="246.39" cy="209.84" r="0.4" fill="#a8cce8" opacity="0.8"/>
<circle cx="258.56" cy="210.55" r="0.4" fill="#c8e8c0" opacity="0.8"/>
<circle cx="242.51" cy="209.61" r="0.4" fill="#f0c8d8" opacity="0.8"/>
<circle cx="253.37" cy="213.05" r="0.4" fill="#b8dcf0" opacity="0.8"/>
<circle cx="252.16" cy="212.39" r="0.4" fill="#f0c8d8" opacity="0.8"/>
<circle cx="256.23" cy="210.47" r="0.4" fill="#b8dcf0" opacity="0.8"/>
<circle cx="241.70" cy="211.29" r="0.4" fill="#f0c8d8" opacity="0.8"/>
<circle cx="243.77" cy="210.65" r="0.4" fill="#b8dcf0" opacity="0.8"/>
<circle cx="241.69" cy="210.91" r="0.4" fill="#f0c8d8" opacity="0.8"/>
<circle cx="256.16" cy="211.73" r="0.4" fill="#9fd8d0" opacity="0.8"/>
<circle cx="243.08" cy="213.70" r="0.4" fill="#f0c8d8" opacity="0.8"/>
<circle cx="249.18" cy="212.74" r="0.4" fill="#c8e8c0" opacity="0.8"/>
<circle cx="246.51" cy="214.01" r="0.4" fill="#b8dcf0" opacity="0.8"/>
<circle cx="248.63" cy="211.39" r="0.4" fill="#c8e8c0" opacity="0.8"/>
<circle cx="244.18" cy="212.43" r="0.4" fill="#a8cce8" opacity="0.8"/>
<circle cx="252.12" cy="211.84" r="0.4" fill="#f0c8d8" opacity="0.8"/>
<circle cx="255.03" cy="209.65" r="0.4" fill="#c8e8c0" opacity="0.8"/>
<circle cx="256.05" cy="210.70" r="0.4" fill="#a8cce8" opacity="0.8"/>
<circle cx="243.27" cy="212.51" r="0.4" fill="#c8e8c0" opacity="0.8"/>
<circle cx="247.54" cy="210.72" r="0.4" fill="#a8cce8" opacity="0.8"/>
<ellipse cx="249.50" cy="209.00" rx="9.50" ry="1.90" fill="#9fb4a0" opacity="0.6" filter="url(#b0)" transform="rotate(6 249.50 209.00)"/>
<ellipse cx="249.84" cy="208.99" rx="8.74" ry="1.60" fill="#8c9a5a" opacity="0.85" filter="url(#b0)" transform="rotate(6 249.84 208.99)"/>
<ellipse cx="250.44" cy="208.97" rx="7.41" ry="1.36" fill="#7aa048" opacity="0.85" filter="url(#b0)" transform="rotate(6 250.44 208.97)"/>
<ellipse cx="251.21" cy="208.94" rx="5.70" ry="1.16" fill="#b89a40" opacity="0.9" filter="url(#b0)" transform="rotate(6 251.21 208.94)"/>
<ellipse cx="251.99" cy="208.92" rx="3.99" ry="1.00" fill="#e07a28" opacity="0.95" filter="url(#b0)" transform="rotate(6 251.99 208.92)"/>
<ellipse cx="252.50" cy="208.90" rx="2.66" ry="0.88" fill="#ea3a14" opacity="1.0" filter="url(#b0)" transform="rotate(6 252.50 208.90)"/>
<ellipse cx="249.50" cy="207.50" rx="7.60" ry="0.45" fill="#5a5a3a" opacity="0.45" filter="url(#b0)" transform="rotate(6 249.50 207.50)"/>
</g>
<ellipse cx="245.40" cy="238.50" rx="2.60" ry="4.83" fill="#bfe2e6" opacity="0.55" filter="url(#b1)"/>
<circle cx="243.43" cy="240.65" r="0.45" fill="#4f7f8a" opacity="0.8"/>
<circle cx="245.63" cy="235.89" r="0.45" fill="#6f9da6" opacity="0.8"/>
<circle cx="247.98" cy="243.19" r="0.45" fill="#a8cfd0" opacity="0.8"/>
<circle cx="246.09" cy="234.28" r="0.45" fill="#6f9da6" opacity="0.8"/>
<circle cx="242.88" cy="247.22" r="0.45" fill="#4f7f8a" opacity="0.8"/>
<circle cx="240.83" cy="237.79" r="0.45" fill="#8ab5b8" opacity="0.8"/>
<circle cx="244.61" cy="243.36" r="0.45" fill="#8ab5b8" opacity="0.8"/>
<circle cx="245.17" cy="235.88" r="0.45" fill="#8ab5b8" opacity="0.8"/>
<circle cx="242.82" cy="242.08" r="0.45" fill="#5d8a95" opacity="0.8"/>
<circle cx="246.05" cy="243.35" r="0.45" fill="#5d8a95" opacity="0.8"/>
<circle cx="248.54" cy="242.34" r="0.45" fill="#5d8a95" opacity="0.8"/>
<circle cx="244.31" cy="229.06" r="0.45" fill="#8ab5b8" opacity="0.8"/>
<circle cx="245.35" cy="233.63" r="0.45" fill="#8ab5b8" opacity="0.8"/>
<circle cx="244.07" cy="238.02" r="0.45" fill="#8ab5b8" opacity="0.8"/>
<circle cx="245.84" cy="233.59" r="0.45" fill="#5d8a95" opacity="0.8"/>
<circle cx="246.82" cy="234.68" r="0.45" fill="#8ab5b8" opacity="0.8"/>
<circle cx="242.03" cy="239.36" r="0.45" fill="#7fb0b5" opacity="0.8"/>
<circle cx="244.07" cy="246.42" r="0.45" fill="#a8cfd0" opacity="0.8"/>
<circle cx="246.44" cy="233.30" r="0.45" fill="#6f9da6" opacity="0.8"/>
<circle cx="244.61" cy="238.43" r="0.45" fill="#a8cfd0" opacity="0.8"/>
<circle cx="247.57" cy="238.19" r="0.45" fill="#a8cfd0" opacity="0.8"/>
<circle cx="243.71" cy="244.00" r="0.45" fill="#5d8a95" opacity="0.8"/>
<circle cx="245.26" cy="237.66" r="0.45" fill="#8ab5b8" opacity="0.8"/>
<circle cx="246.03" cy="241.58" r="0.45" fill="#6f9da6" opacity="0.8"/>
<circle cx="247.99" cy="237.05" r="0.45" fill="#5d8a95" opacity="0.8"/>
<circle cx="247.43" cy="230.75" r="0.45" fill="#7fb0b5" opacity="0.8"/>
<circle cx="241.53" cy="246.54" r="0.45" fill="#4f7f8a" opacity="0.8"/>
<circle cx="243.78" cy="239.60" r="0.45" fill="#8ab5b8" opacity="0.8"/>
<circle cx="245.41" cy="237.00" r="0.45" fill="#a8cfd0" opacity="0.8"/>
<circle cx="247.78" cy="229.60" r="0.45" fill="#8ab5b8" opacity="0.8"/>
<circle cx="245.10" cy="232.73" r="0.45" fill="#6f9da6" opacity="0.8"/>
<circle cx="245.58" cy="238.80" r="0.45" fill="#5d8a95" opacity="0.8"/>
<circle cx="245.42" cy="236.81" r="0.45" fill="#7fb0b5" opacity="0.8"/>
<circle cx="247.42" cy="239.40" r="0.45" fill="#7fb0b5" opacity="0.8"/>
<circle cx="247.69" cy="241.18" r="0.45" fill="#a8cfd0" opacity="0.8"/>
<circle cx="246.65" cy="238.88" r="0.45" fill="#8ab5b8" opacity="0.8"/>
<circle cx="245.65" cy="237.29" r="0.45" fill="#6f9da6" opacity="0.8"/>
<circle cx="243.55" cy="233.01" r="0.45" fill="#5d8a95" opacity="0.8"/>
<circle cx="242.69" cy="235.81" r="0.45" fill="#6f9da6" opacity="0.8"/>
<circle cx="246.19" cy="245.81" r="0.45" fill="#5d8a95" opacity="0.8"/>
<circle cx="246.52" cy="233.93" r="0.45" fill="#7fb0b5" opacity="0.8"/>
<circle cx="244.11" cy="244.80" r="0.45" fill="#8ab5b8" opacity="0.8"/>
<circle cx="244.30" cy="238.56" r="0.45" fill="#6f9da6" opacity="0.8"/>
<circle cx="245.44" cy="234.30" r="0.45" fill="#8ab5b8" opacity="0.8"/>
<circle cx="245.05" cy="243.50" r="0.45" fill="#6f9da6" opacity="0.8"/>
<circle cx="248.65" cy="243.80" r="0.45" fill="#8ab5b8" opacity="0.8"/>
<circle cx="245.57" cy="240.26" r="0.45" fill="#7fb0b5" opacity="0.8"/>
<circle cx="246.31" cy="234.71" r="0.45" fill="#a8cfd0" opacity="0.8"/>
<circle cx="243.42" cy="239.51" r="0.45" fill="#5d8a95" opacity="0.8"/>
<circle cx="244.40" cy="243.92" r="0.45" fill="#4f7f8a" opacity="0.8"/>
<circle cx="246.36" cy="239.87" r="0.45" fill="#6f9da6" opacity="0.8"/>
<circle cx="242.68" cy="235.32" r="0.45" fill="#a8cfd0" opacity="0.8"/>
<circle cx="246.73" cy="243.86" r="0.45" fill="#8ab5b8" opacity="0.8"/>
<circle cx="246.64" cy="238.80" r="0.45" fill="#8ab5b8" opacity="0.8"/>
<circle cx="246.22" cy="237.17" r="0.45" fill="#4f7f8a" opacity="0.8"/>
<circle cx="244.69" cy="247.46" r="0.45" fill="#5d8a95" opacity="0.8"/>
<circle cx="243.50" cy="237.71" r="0.45" fill="#7fb0b5" opacity="0.8"/>
<circle cx="244.06" cy="235.75" r="0.45" fill="#7fb0b5" opacity="0.8"/>
<circle cx="242.99" cy="241.96" r="0.45" fill="#8ab5b8" opacity="0.8"/>
<circle cx="245.14" cy="242.80" r="0.45" fill="#8ab5b8" opacity="0.8"/>
<circle cx="246.47" cy="238.30" r="0.45" fill="#4f7f8a" opacity="0.8"/>
<circle cx="246.69" cy="239.22" r="0.45" fill="#5d8a95" opacity="0.8"/>
<circle cx="246.39" cy="239.99" r="0.45" fill="#7fb0b5" opacity="0.8"/>
<circle cx="247.03" cy="239.12" r="0.45" fill="#4f7f8a" opacity="0.8"/>
<circle cx="249.22" cy="248.97" r="0.45" fill="#7fb0b5" opacity="0.8"/>
<circle cx="243.05" cy="230.61" r="0.45" fill="#4f7f8a" opacity="0.8"/>
<circle cx="246.04" cy="239.47" r="0.45" fill="#4f7f8a" opacity="0.8"/>
<circle cx="245.42" cy="239.39" r="0.45" fill="#8ab5b8" opacity="0.8"/>
<circle cx="249.03" cy="234.17" r="0.45" fill="#7fb0b5" opacity="0.8"/>
<circle cx="246.87" cy="240.49" r="0.45" fill="#6f9da6" opacity="0.8"/>
<circle cx="244.88" cy="242.97" r="0.45" fill="#8ab5b8" opacity="0.8"/>
<circle cx="246.98" cy="237.20" r="0.45" fill="#6f9da6" opacity="0.8"/>
<circle cx="246.20" cy="240.75" r="0.45" fill="#4f7f8a" opacity="0.8"/>
<circle cx="245.58" cy="234.17" r="0.45" fill="#4f7f8a" opacity="0.8"/>
<circle cx="243.38" cy="246.42" r="0.45" fill="#5d8a95" opacity="0.8"/>
<circle cx="246.40" cy="241.77" r="0.45" fill="#7fb0b5" opacity="0.8"/>
<circle cx="249.54" cy="239.70" r="0.45" fill="#4f7f8a" opacity="0.8"/>
<circle cx="244.99" cy="240.38" r="0.45" fill="#8ab5b8" opacity="0.8"/>
<circle cx="245.11" cy="238.82" r="0.45" fill="#4f7f8a" opacity="0.8"/>
<circle cx="245.84" cy="244.48" r="0.45" fill="#4f7f8a" opacity="0.8"/>
<circle cx="246.93" cy="238.05" r="0.45" fill="#6f9da6" opacity="0.8"/>
<circle cx="246.18" cy="240.08" r="0.45" fill="#5d8a95" opacity="0.8"/>
<circle cx="242.96" cy="236.64" r="0.45" fill="#6f9da6" opacity="0.8"/>
<circle cx="247.07" cy="232.76" r="0.45" fill="#6f9da6" opacity="0.8"/>
<circle cx="248.66" cy="237.64" r="0.45" fill="#5d8a95" opacity="0.8"/>
<circle cx="244.43" cy="239.55" r="0.45" fill="#3a6f78" opacity="0.85"/>
<circle cx="244.00" cy="241.77" r="0.45" fill="#2f5f68" opacity="0.85"/>
<circle cx="244.24" cy="239.21" r="0.45" fill="#285a5a" opacity="0.85"/>
<circle cx="245.15" cy="239.45" r="0.45" fill="#285a5a" opacity="0.85"/>
<circle cx="244.45" cy="243.14" r="0.45" fill="#285a5a" opacity="0.85"/>
<circle cx="245.80" cy="239.95" r="0.45" fill="#3a6f78" opacity="0.85"/>
<circle cx="245.05" cy="239.08" r="0.45" fill="#2f5f68" opacity="0.85"/>
<circle cx="245.45" cy="237.66" r="0.45" fill="#2f5f68" opacity="0.85"/>
<circle cx="247.08" cy="242.90" r="0.45" fill="#3a6f78" opacity="0.85"/>
<circle cx="245.43" cy="236.88" r="0.45" fill="#3a6f78" opacity="0.85"/>
<circle cx="243.57" cy="231.95" r="0.45" fill="#285a5a" opacity="0.85"/>
<circle cx="243.97" cy="238.46" r="0.45" fill="#3a6f78" opacity="0.85"/>
<circle cx="247.89" cy="242.16" r="0.45" fill="#2f5f68" opacity="0.85"/>
<circle cx="243.15" cy="237.38" r="0.45" fill="#285a5a" opacity="0.85"/>
<circle cx="245.41" cy="239.41" r="0.45" fill="#285a5a" opacity="0.85"/>
<circle cx="244.20" cy="237.54" r="0.45" fill="#3a6f78" opacity="0.85"/>
<circle cx="245.22" cy="236.90" r="0.45" fill="#3a6f78" opacity="0.85"/>
<circle cx="246.23" cy="243.32" r="0.45" fill="#3a6f78" opacity="0.85"/>
<circle cx="244.32" cy="239.58" r="0.45" fill="#2f5f68" opacity="0.85"/>
<circle cx="245.25" cy="237.84" r="0.45" fill="#285a5a" opacity="0.85"/>
<circle cx="246.44" cy="235.72" r="0.45" fill="#285a5a" opacity="0.85"/>
<circle cx="245.39" cy="239.38" r="0.45" fill="#285a5a" opacity="0.85"/>
<line x1="271.60" y1="206.20" x2="271.60" y2="214.00" stroke="#7a8898" stroke-width="0.8" opacity="0.9"/>
<circle cx="272.93" cy="212.62" r="0.35" fill="#c0d8c0" opacity="0.8"/>
<circle cx="271.63" cy="209.96" r="0.35" fill="#b0c8e0" opacity="0.8"/>
<circle cx="269.87" cy="211.83" r="0.35" fill="#b0c8e0" opacity="0.8"/>
<circle cx="270.56" cy="208.03" r="0.35" fill="#b0c8e0" opacity="0.8"/>
<circle cx="269.92" cy="213.64" r="0.35" fill="#b0c8e0" opacity="0.8"/>
<circle cx="271.05" cy="211.19" r="0.35" fill="#c0d8c0" opacity="0.8"/>
<circle cx="271.30" cy="208.77" r="0.35" fill="#9ab8d0" opacity="0.8"/>
<circle cx="271.38" cy="215.13" r="0.35" fill="#c0d8c0" opacity="0.8"/>
<circle cx="273.60" cy="207.87" r="0.35" fill="#9ab8d0" opacity="0.8"/>
<circle cx="273.50" cy="212.71" r="0.35" fill="#b0c8e0" opacity="0.8"/>
</g>
<line x1="262.60" y1="201.50" x2="262.60" y2="256.50" stroke="#6a6c74" stroke-width="0.85"/>
<line x1="228.50" y1="227.50" x2="287.80" y2="227.50" stroke="#6a6c74" stroke-width="0.85"/>
<line x1="228.05" y1="201.50" x2="288.25" y2="201.50" stroke="#4a4c66" stroke-width="0.9"/>
<line x1="287.80" y1="201.50" x2="287.80" y2="256.50" stroke="#6a6c84" stroke-width="0.9"/>
<line x1="228.50" y1="201.05" x2="228.50" y2="257.00" stroke="#2e3570" stroke-width="1.0"/>
<line x1="228.00" y1="256.50" x2="288.25" y2="256.50" stroke="#2e3570" stroke-width="1.0"/>
<line x1="227.30" y1="207.90" x2="228.50" y2="207.90" stroke="#2e3570" stroke-width="0.7"/>
<line x1="227.30" y1="216.50" x2="228.50" y2="216.50" stroke="#2e3570" stroke-width="0.7"/>
<line x1="227.30" y1="227.50" x2="228.50" y2="227.50" stroke="#2e3570" stroke-width="0.7"/>
<line x1="227.30" y1="239.90" x2="228.50" y2="239.90" stroke="#2e3570" stroke-width="0.7"/>
<line x1="227.30" y1="249.50" x2="228.50" y2="249.50" stroke="#2e3570" stroke-width="0.7"/>
<text x="229.90" y="206.96" font-size="4.6" fill="#231f20" stroke="#231f20" stroke-width="0.12">61.17%</text>
<text x="285.00" y="206.96" font-size="4.6" fill="#e03a3a" stroke="#e03a3a" stroke-width="0.1" text-anchor="end">6.93%</text>
<text x="229.90" y="254.86" font-size="4.6" fill="#231f20" stroke="#231f20" stroke-width="0.12">31.65%</text>
<text x="285.00" y="254.86" font-size="4.6" fill="#231f20" stroke="#231f20" stroke-width="0.12" text-anchor="end">0.26%</text>
<text x="225.90" y="209.60" font-size="5.0" fill="#231f20" stroke="#231f20" stroke-width="0.12" text-anchor="end">10<tspan dy="-2.0" font-size="3.5">6</tspan></text>
<text x="225.90" y="218.30" font-size="5.0" fill="#231f20" stroke="#231f20" stroke-width="0.12" text-anchor="end">10<tspan dy="-2.0" font-size="3.5">5</tspan></text>
<text x="225.90" y="229.50" font-size="5.0" fill="#231f20" stroke="#231f20" stroke-width="0.12" text-anchor="end">10<tspan dy="-2.0" font-size="3.5">4</tspan></text>
<text x="225.90" y="241.70" font-size="5.0" fill="#231f20" stroke="#231f20" stroke-width="0.12" text-anchor="end">10<tspan dy="-2.0" font-size="3.5">3</tspan></text>
<text x="225.90" y="251.30" font-size="5.0" fill="#231f20" stroke="#231f20" stroke-width="0.12" text-anchor="end">−10<tspan dy="-2.0" font-size="3.5">3</tspan></text>
<text x="230.70" y="264.90" font-size="5.0" fill="#231f20" stroke="#231f20" stroke-width="0.12" text-anchor="middle">−10<tspan dy="-2.0" font-size="3.5">4</tspan></text>
<text x="243.70" y="264.90" font-size="5.0" fill="#231f20" stroke="#231f20" stroke-width="0.12" text-anchor="middle">−10<tspan dy="-2.0" font-size="3.5">3</tspan></text>
<text x="256.90" y="264.90" font-size="5.0" fill="#231f20" stroke="#231f20" stroke-width="0.12" text-anchor="middle">10<tspan dy="-2.0" font-size="3.5">4</tspan></text>
<text x="270.70" y="264.90" font-size="5.0" fill="#231f20" stroke="#231f20" stroke-width="0.12" text-anchor="middle">10<tspan dy="-2.0" font-size="3.5">5</tspan></text>
<text x="281.30" y="264.90" font-size="5.0" fill="#231f20" stroke="#231f20" stroke-width="0.12" text-anchor="middle">10<tspan dy="-2.0" font-size="3.5">6</tspan></text>
<text x="258.15" y="275.02" font-size="7.0" fill="#231f20" stroke="#231f20" stroke-width="0.3" text-anchor="middle" textLength="11.5" lengthAdjust="spacingAndGlyphs">7AAD</text>
<g clip-path="url(#cp10)">
<g clip-path="url(#bc10)">
<circle cx="77.63" cy="296.04" r="0.4" fill="#9fd8d0" opacity="0.8"/>
<circle cx="92.85" cy="295.51" r="0.4" fill="#a8cce8" opacity="0.8"/>
<circle cx="77.70" cy="306.09" r="0.4" fill="#a8cce8" opacity="0.8"/>
<circle cx="78.29" cy="296.39" r="0.4" fill="#9fd8d0" opacity="0.8"/>
<circle cx="88.59" cy="296.97" r="0.4" fill="#c8e8c0" opacity="0.8"/>
<circle cx="79.79" cy="302.56" r="0.4" fill="#9fd8d0" opacity="0.8"/>
<circle cx="78.50" cy="301.18" r="0.4" fill="#c8e8c0" opacity="0.8"/>
<circle cx="83.43" cy="303.71" r="0.4" fill="#c8e8c0" opacity="0.8"/>
<circle cx="87.83" cy="295.60" r="0.4" fill="#f0c8d8" opacity="0.8"/>
<circle cx="93.33" cy="295.17" r="0.4" fill="#9fd8d0" opacity="0.8"/>
<circle cx="86.11" cy="295.81" r="0.4" fill="#c8e8c0" opacity="0.8"/>
<circle cx="74.66" cy="295.33" r="0.4" fill="#f0c8d8" opacity="0.8"/>
<circle cx="85.80" cy="303.70" r="0.4" fill="#c8e8c0" opacity="0.8"/>
<circle cx="90.75" cy="298.13" r="0.4" fill="#f0c8d8" opacity="0.8"/>
<circle cx="90.87" cy="300.59" r="0.4" fill="#b8dcf0" opacity="0.8"/>
<circle cx="86.84" cy="298.64" r="0.4" fill="#a8cce8" opacity="0.8"/>
<circle cx="91.68" cy="296.01" r="0.4" fill="#b8dcf0" opacity="0.8"/>
<circle cx="89.53" cy="296.36" r="0.4" fill="#9fd8d0" opacity="0.8"/>
<circle cx="90.82" cy="301.07" r="0.4" fill="#c8e8c0" opacity="0.8"/>
<circle cx="83.27" cy="298.23" r="0.4" fill="#b8dcf0" opacity="0.8"/>
<circle cx="91.68" cy="298.09" r="0.4" fill="#9fd8d0" opacity="0.8"/>
<circle cx="89.45" cy="298.90" r="0.4" fill="#a8cce8" opacity="0.8"/>
<circle cx="75.28" cy="298.26" r="0.4" fill="#f0c8d8" opacity="0.8"/>
<circle cx="78.72" cy="297.23" r="0.4" fill="#b8dcf0" opacity="0.8"/>
<circle cx="84.49" cy="305.72" r="0.4" fill="#a8cce8" opacity="0.8"/>
<circle cx="90.77" cy="297.84" r="0.4" fill="#c8e8c0" opacity="0.8"/>
<circle cx="84.36" cy="295.72" r="0.4" fill="#9fd8d0" opacity="0.8"/>
<circle cx="84.54" cy="304.15" r="0.4" fill="#b8dcf0" opacity="0.8"/>
<circle cx="93.51" cy="300.74" r="0.4" fill="#b8dcf0" opacity="0.8"/>
<circle cx="82.07" cy="295.08" r="0.4" fill="#f0c8d8" opacity="0.8"/>
<circle cx="81.36" cy="297.19" r="0.4" fill="#a8cce8" opacity="0.8"/>
<circle cx="79.38" cy="296.08" r="0.4" fill="#a8cce8" opacity="0.8"/>
<circle cx="82.57" cy="295.98" r="0.4" fill="#c8e8c0" opacity="0.8"/>
<circle cx="86.59" cy="297.60" r="0.4" fill="#a8cce8" opacity="0.8"/>
<circle cx="78.85" cy="300.18" r="0.4" fill="#c8e8c0" opacity="0.8"/>
<circle cx="92.55" cy="298.02" r="0.4" fill="#c8e8c0" opacity="0.8"/>
<circle cx="83.40" cy="295.44" r="0.4" fill="#b8dcf0" opacity="0.8"/>
<circle cx="77.03" cy="296.26" r="0.4" fill="#b8dcf0" opacity="0.8"/>
<circle cx="83.53" cy="302.98" r="0.4" fill="#f0c8d8" opacity="0.8"/>
<circle cx="88.35" cy="295.90" r="0.4" fill="#c8e8c0" opacity="0.8"/>
<circle cx="83.51" cy="297.22" r="0.4" fill="#9fd8d0" opacity="0.8"/>
<circle cx="89.10" cy="299.52" r="0.4" fill="#c8e8c0" opacity="0.8"/>
<circle cx="81.34" cy="301.22" r="0.4" fill="#b8dcf0" opacity="0.8"/>
<circle cx="79.67" cy="297.35" r="0.4" fill="#c8e8c0" opacity="0.8"/>
<circle cx="87.55" cy="297.32" r="0.4" fill="#c8e8c0" opacity="0.8"/>
<circle cx="74.60" cy="295.54" r="0.4" fill="#b8dcf0" opacity="0.8"/>
<circle cx="87.08" cy="298.50" r="0.4" fill="#9fd8d0" opacity="0.8"/>
<circle cx="83.73" cy="300.67" r="0.4" fill="#9fd8d0" opacity="0.8"/>
<circle cx="77.48" cy="297.68" r="0.4" fill="#9fd8d0" opacity="0.8"/>
<circle cx="90.91" cy="302.81" r="0.4" fill="#9fd8d0" opacity="0.8"/>
<circle cx="89.56" cy="297.86" r="0.4" fill="#b8dcf0" opacity="0.8"/>
<circle cx="84.71" cy="298.25" r="0.4" fill="#a8cce8" opacity="0.8"/>
<circle cx="78.57" cy="299.82" r="0.4" fill="#a8cce8" opacity="0.8"/>
<circle cx="87.11" cy="294.90" r="0.4" fill="#b8dcf0" opacity="0.8"/>
<circle cx="90.91" cy="296.98" r="0.4" fill="#b8dcf0" opacity="0.8"/>
<circle cx="89.42" cy="296.38" r="0.4" fill="#c8e8c0" opacity="0.8"/>
<circle cx="89.71" cy="297.03" r="0.4" fill="#b8dcf0" opacity="0.8"/>
<circle cx="86.22" cy="299.60" r="0.4" fill="#a8cce8" opacity="0.8"/>
<circle cx="87.35" cy="306.35" r="0.4" fill="#f0c8d8" opacity="0.8"/>
<circle cx="89.64" cy="296.48" r="0.4" fill="#b8dcf0" opacity="0.8"/>
<ellipse cx="84.00" cy="294.40" rx="10.50" ry="1.70" fill="#8ab0d8" opacity="0.6" filter="url(#b0)" transform="rotate(4 84.00 294.40)"/>
<ellipse cx="84.41" cy="294.45" rx="9.66" ry="1.44" fill="#5aa8a0" opacity="0.8" filter="url(#b0)" transform="rotate(4 84.41 294.45)"/>
<ellipse cx="85.03" cy="294.51" rx="8.40" ry="1.19" fill="#80b048" opacity="0.9" filter="url(#b0)" transform="rotate(4 85.03 294.51)"/>
<ellipse cx="85.95" cy="294.62" rx="6.51" ry="1.02" fill="#c8b838" opacity="0.9" filter="url(#b0)" transform="rotate(4 85.95 294.62)"/>
<ellipse cx="86.83" cy="294.71" rx="4.73" ry="0.88" fill="#e88a28" opacity="0.95" filter="url(#b0)" transform="rotate(4 86.83 294.71)"/>
<ellipse cx="87.60" cy="294.80" rx="3.44" ry="0.80" fill="#ea3a14" opacity="1.0" filter="url(#b0)" transform="rotate(4 87.60 294.80)"/>
<ellipse cx="84.00" cy="293.12" rx="8.40" ry="0.45" fill="#5a5a3a" opacity="0.45" filter="url(#b0)" transform="rotate(4 84.00 293.12)"/>
</g>
<ellipse cx="77.40" cy="323.60" rx="2.60" ry="4.48" fill="#bfe2e6" opacity="0.55" filter="url(#b1)"/>
<ellipse cx="77.40" cy="321.10" rx="1.60" ry="2.00" fill="#8aa8e0" opacity="0.6" filter="url(#b0)"/>
<circle cx="76.41" cy="317.30" r="0.45" fill="#a8cfd0" opacity="0.8"/>
<circle cx="76.84" cy="322.68" r="0.45" fill="#6f9da6" opacity="0.8"/>
<circle cx="76.63" cy="323.34" r="0.45" fill="#8ab5b8" opacity="0.8"/>
<circle cx="78.68" cy="318.69" r="0.45" fill="#a8cfd0" opacity="0.8"/>
<circle cx="77.77" cy="321.47" r="0.45" fill="#a8cfd0" opacity="0.8"/>
<circle cx="77.60" cy="323.65" r="0.45" fill="#7fb0b5" opacity="0.8"/>
<circle cx="78.45" cy="323.89" r="0.45" fill="#5d8a95" opacity="0.8"/>
<circle cx="77.25" cy="318.69" r="0.45" fill="#4f7f8a" opacity="0.8"/>
<circle cx="77.85" cy="322.33" r="0.45" fill="#a8cfd0" opacity="0.8"/>
<circle cx="79.28" cy="314.94" r="0.45" fill="#6f9da6" opacity="0.8"/>
<circle cx="79.58" cy="325.16" r="0.45" fill="#4f7f8a" opacity="0.8"/>
<circle cx="78.90" cy="328.86" r="0.45" fill="#4f7f8a" opacity="0.8"/>
<circle cx="77.83" cy="322.38" r="0.45" fill="#6f9da6" opacity="0.8"/>
<circle cx="70.91" cy="319.12" r="0.45" fill="#8ab5b8" opacity="0.8"/>
<circle cx="77.27" cy="329.67" r="0.45" fill="#4f7f8a" opacity="0.8"/>
<circle cx="77.99" cy="324.81" r="0.45" fill="#4f7f8a" opacity="0.8"/>
<circle cx="77.96" cy="320.65" r="0.45" fill="#7fb0b5" opacity="0.8"/>
<circle cx="78.88" cy="315.49" r="0.45" fill="#5d8a95" opacity="0.8"/>
<circle cx="76.11" cy="319.85" r="0.45" fill="#7fb0b5" opacity="0.8"/>
<circle cx="78.13" cy="326.65" r="0.45" fill="#5d8a95" opacity="0.8"/>
<circle cx="77.87" cy="325.46" r="0.45" fill="#7fb0b5" opacity="0.8"/>
<circle cx="75.82" cy="331.48" r="0.45" fill="#5d8a95" opacity="0.8"/>
<circle cx="77.05" cy="329.22" r="0.45" fill="#6f9da6" opacity="0.8"/>
<circle cx="77.00" cy="321.94" r="0.45" fill="#5d8a95" opacity="0.8"/>
<circle cx="78.74" cy="330.88" r="0.45" fill="#6f9da6" opacity="0.8"/>
<circle cx="80.78" cy="323.84" r="0.45" fill="#4f7f8a" opacity="0.8"/>
<circle cx="76.91" cy="319.85" r="0.45" fill="#7fb0b5" opacity="0.8"/>
<circle cx="76.80" cy="326.74" r="0.45" fill="#6f9da6" opacity="0.8"/>
<circle cx="77.86" cy="330.54" r="0.45" fill="#a8cfd0" opacity="0.8"/>
<circle cx="78.34" cy="319.17" r="0.45" fill="#7fb0b5" opacity="0.8"/>
<circle cx="75.78" cy="328.13" r="0.45" fill="#7fb0b5" opacity="0.8"/>
<circle cx="76.10" cy="327.12" r="0.45" fill="#4f7f8a" opacity="0.8"/>
<circle cx="79.50" cy="318.75" r="0.45" fill="#8ab5b8" opacity="0.8"/>
<circle cx="75.89" cy="328.96" r="0.45" fill="#4f7f8a" opacity="0.8"/>
<circle cx="78.01" cy="323.74" r="0.45" fill="#8ab5b8" opacity="0.8"/>
<circle cx="76.59" cy="326.38" r="0.45" fill="#6f9da6" opacity="0.8"/>
<circle cx="76.06" cy="328.49" r="0.45" fill="#5d8a95" opacity="0.8"/>
<circle cx="76.08" cy="325.08" r="0.45" fill="#5d8a95" opacity="0.8"/>
<circle cx="76.71" cy="320.81" r="0.45" fill="#5d8a95" opacity="0.8"/>
<circle cx="76.88" cy="324.01" r="0.45" fill="#6f9da6" opacity="0.8"/>
<circle cx="77.82" cy="318.53" r="0.45" fill="#6f9da6" opacity="0.8"/>
<circle cx="78.46" cy="318.86" r="0.45" fill="#6f9da6" opacity="0.8"/>
<circle cx="77.43" cy="324.21" r="0.45" fill="#4f7f8a" opacity="0.8"/>
<circle cx="75.59" cy="327.30" r="0.45" fill="#6f9da6" opacity="0.8"/>
<circle cx="76.47" cy="321.37" r="0.45" fill="#4f7f8a" opacity="0.8"/>
<circle cx="75.27" cy="328.00" r="0.45" fill="#a8cfd0" opacity="0.8"/>
<circle cx="77.16" cy="322.05" r="0.45" fill="#a8cfd0" opacity="0.8"/>
<circle cx="77.18" cy="324.13" r="0.45" fill="#6f9da6" opacity="0.8"/>
<circle cx="78.38" cy="323.12" r="0.45" fill="#4f7f8a" opacity="0.8"/>
<circle cx="77.51" cy="330.93" r="0.45" fill="#6f9da6" opacity="0.8"/>
<circle cx="80.56" cy="323.99" r="0.45" fill="#a8cfd0" opacity="0.8"/>
<circle cx="78.27" cy="329.78" r="0.45" fill="#8ab5b8" opacity="0.8"/>
<circle cx="77.71" cy="317.47" r="0.45" fill="#6f9da6" opacity="0.8"/>
<circle cx="78.28" cy="319.30" r="0.45" fill="#4f7f8a" opacity="0.8"/>
<circle cx="79.57" cy="327.48" r="0.45" fill="#6f9da6" opacity="0.8"/>
<circle cx="75.16" cy="322.27" r="0.45" fill="#a8cfd0" opacity="0.8"/>
<circle cx="79.56" cy="314.82" r="0.45" fill="#5d8a95" opacity="0.8"/>
<circle cx="78.40" cy="324.70" r="0.45" fill="#6f9da6" opacity="0.8"/>
<circle cx="77.10" cy="324.27" r="0.45" fill="#4f7f8a" opacity="0.8"/>
<circle cx="77.42" cy="321.50" r="0.45" fill="#a8cfd0" opacity="0.8"/>
<circle cx="75.15" cy="321.24" r="0.45" fill="#8ab5b8" opacity="0.8"/>
<circle cx="80.03" cy="330.74" r="0.45" fill="#7fb0b5" opacity="0.8"/>
<circle cx="76.53" cy="327.07" r="0.45" fill="#7fb0b5" opacity="0.8"/>
<circle cx="78.02" cy="322.99" r="0.45" fill="#8ab5b8" opacity="0.8"/>
<circle cx="75.44" cy="327.87" r="0.45" fill="#5d8a95" opacity="0.8"/>
<circle cx="79.88" cy="325.84" r="0.45" fill="#a8cfd0" opacity="0.8"/>
<circle cx="77.10" cy="316.90" r="0.45" fill="#a8cfd0" opacity="0.8"/>
<circle cx="77.84" cy="330.03" r="0.45" fill="#7fb0b5" opacity="0.8"/>
<circle cx="76.36" cy="322.01" r="0.45" fill="#7fb0b5" opacity="0.8"/>
<circle cx="78.63" cy="329.60" r="0.45" fill="#7fb0b5" opacity="0.8"/>
<circle cx="76.95" cy="320.98" r="0.45" fill="#6f9da6" opacity="0.8"/>
<circle cx="79.48" cy="326.18" r="0.45" fill="#5d8a95" opacity="0.8"/>
<circle cx="75.32" cy="314.40" r="0.45" fill="#8ab5b8" opacity="0.8"/>
<circle cx="74.96" cy="319.37" r="0.45" fill="#7fb0b5" opacity="0.8"/>
<circle cx="79.27" cy="323.98" r="0.45" fill="#a8cfd0" opacity="0.8"/>
<circle cx="76.13" cy="323.55" r="0.45" fill="#5d8a95" opacity="0.8"/>
<circle cx="77.50" cy="323.34" r="0.45" fill="#6f9da6" opacity="0.8"/>
<circle cx="78.42" cy="323.09" r="0.45" fill="#7fb0b5" opacity="0.8"/>
<circle cx="78.34" cy="330.00" r="0.45" fill="#7fb0b5" opacity="0.8"/>
<circle cx="81.21" cy="320.15" r="0.45" fill="#5d8a95" opacity="0.8"/>
<circle cx="73.84" cy="318.85" r="0.45" fill="#a8cfd0" opacity="0.8"/>
<circle cx="76.93" cy="324.37" r="0.45" fill="#4f7f8a" opacity="0.8"/>
<circle cx="76.28" cy="326.19" r="0.45" fill="#7fb0b5" opacity="0.8"/>
<circle cx="76.87" cy="327.26" r="0.45" fill="#4f7f8a" opacity="0.8"/>
<circle cx="78.02" cy="324.41" r="0.45" fill="#6f9da6" opacity="0.8"/>
<circle cx="78.17" cy="325.00" r="0.45" fill="#2f5f68" opacity="0.85"/>
<circle cx="76.29" cy="321.25" r="0.45" fill="#2f5f68" opacity="0.85"/>
<circle cx="77.18" cy="324.54" r="0.45" fill="#3a6f78" opacity="0.85"/>
<circle cx="78.76" cy="326.94" r="0.45" fill="#3a6f78" opacity="0.85"/>
<circle cx="76.57" cy="322.01" r="0.45" fill="#2f5f68" opacity="0.85"/>
<circle cx="77.37" cy="324.80" r="0.45" fill="#285a5a" opacity="0.85"/>
<circle cx="78.01" cy="323.09" r="0.45" fill="#3a6f78" opacity="0.85"/>
<circle cx="78.72" cy="321.02" r="0.45" fill="#2f5f68" opacity="0.85"/>
<circle cx="78.12" cy="324.26" r="0.45" fill="#3a6f78" opacity="0.85"/>
<circle cx="79.75" cy="323.06" r="0.45" fill="#285a5a" opacity="0.85"/>
<circle cx="77.75" cy="322.85" r="0.45" fill="#3a6f78" opacity="0.85"/>
<circle cx="77.50" cy="321.75" r="0.45" fill="#285a5a" opacity="0.85"/>
<circle cx="76.85" cy="323.02" r="0.45" fill="#2f5f68" opacity="0.85"/>
<circle cx="77.11" cy="330.35" r="0.45" fill="#3a6f78" opacity="0.85"/>
<circle cx="77.27" cy="322.25" r="0.45" fill="#3a6f78" opacity="0.85"/>
<circle cx="77.03" cy="317.35" r="0.45" fill="#285a5a" opacity="0.85"/>
<circle cx="78.53" cy="327.46" r="0.45" fill="#3a6f78" opacity="0.85"/>
<circle cx="74.97" cy="325.68" r="0.45" fill="#2f5f68" opacity="0.85"/>
<circle cx="76.61" cy="323.57" r="0.45" fill="#2f5f68" opacity="0.85"/>
<circle cx="77.57" cy="318.20" r="0.45" fill="#3a6f78" opacity="0.85"/>
<circle cx="76.66" cy="318.09" r="0.45" fill="#2f5f68" opacity="0.85"/>
<circle cx="77.57" cy="327.01" r="0.45" fill="#2f5f68" opacity="0.85"/>
<line x1="103.40" y1="290.00" x2="103.40" y2="295.33" stroke="#5a5a50" stroke-width="1.0" opacity="0.9"/>
<line x1="103.40" y1="295.33" x2="103.40" y2="300.67" stroke="#5a7070" stroke-width="1.0" opacity="0.9"/>
<line x1="103.40" y1="300.67" x2="103.40" y2="306.00" stroke="#7a9090" stroke-width="1.0" opacity="0.9"/>
<circle cx="102.10" cy="303.42" r="0.35" fill="#9ab8d0" opacity="0.8"/>
<circle cx="103.33" cy="302.17" r="0.35" fill="#c0d8c0" opacity="0.8"/>
<circle cx="104.95" cy="299.62" r="0.35" fill="#9ab8d0" opacity="0.8"/>
<circle cx="102.73" cy="308.35" r="0.35" fill="#c0d8c0" opacity="0.8"/>
<circle cx="103.63" cy="294.21" r="0.35" fill="#9ab8d0" opacity="0.8"/>
<circle cx="106.07" cy="291.13" r="0.35" fill="#c0d8c0" opacity="0.8"/>
<circle cx="102.38" cy="307.19" r="0.35" fill="#9ab8d0" opacity="0.8"/>
<circle cx="103.33" cy="304.05" r="0.35" fill="#b0c8e0" opacity="0.8"/>
<circle cx="104.84" cy="291.06" r="0.35" fill="#9ab8d0" opacity="0.8"/>
<circle cx="103.35" cy="293.78" r="0.35" fill="#c0d8c0" opacity="0.8"/>
<circle cx="103.52" cy="295.68" r="0.35" fill="#c0d8c0" opacity="0.8"/>
<circle cx="101.77" cy="298.94" r="0.35" fill="#b0c8e0" opacity="0.8"/>
<circle cx="104.03" cy="294.88" r="0.35" fill="#9ab8d0" opacity="0.8"/>
<circle cx="102.57" cy="298.39" r="0.35" fill="#9ab8d0" opacity="0.8"/>
<circle cx="104.23" cy="307.37" r="0.35" fill="#9ab8d0" opacity="0.8"/>
<circle cx="100.80" cy="305.18" r="0.35" fill="#9ab8d0" opacity="0.8"/>
<circle cx="103.93" cy="307.63" r="0.35" fill="#9ab8d0" opacity="0.8"/>
<circle cx="104.87" cy="297.09" r="0.35" fill="#c0d8c0" opacity="0.8"/>
</g>
<line x1="94.50" y1="286.50" x2="94.50" y2="341.50" stroke="#6a6c74" stroke-width="0.85"/>
<line x1="60.50" y1="312.50" x2="119.50" y2="312.50" stroke="#6a6c74" stroke-width="0.85"/>
<line x1="60.05" y1="286.50" x2="119.95" y2="286.50" stroke="#4a4c66" stroke-width="0.9"/>
<line x1="119.50" y1="286.50" x2="119.50" y2="341.50" stroke="#6a6c84" stroke-width="0.9"/>
<line x1="60.50" y1="286.05" x2="60.50" y2="342.00" stroke="#2e3570" stroke-width="1.0"/>
<line x1="60.00" y1="341.50" x2="119.95" y2="341.50" stroke="#2e3570" stroke-width="1.0"/>
<line x1="59.30" y1="292.90" x2="60.50" y2="292.90" stroke="#2e3570" stroke-width="0.7"/>
<line x1="59.30" y1="301.50" x2="60.50" y2="301.50" stroke="#2e3570" stroke-width="0.7"/>
<line x1="59.30" y1="312.50" x2="60.50" y2="312.50" stroke="#2e3570" stroke-width="0.7"/>
<line x1="59.30" y1="324.90" x2="60.50" y2="324.90" stroke="#2e3570" stroke-width="0.7"/>
<line x1="59.30" y1="334.50" x2="60.50" y2="334.50" stroke="#2e3570" stroke-width="0.7"/>
<text x="61.90" y="291.96" font-size="4.6" fill="#231f20" stroke="#231f20" stroke-width="0.12">64.25%</text>
<text x="116.70" y="291.96" font-size="4.6" fill="#e03a3a" stroke="#e03a3a" stroke-width="0.1" text-anchor="end">11.62%</text>
<text x="61.90" y="339.86" font-size="4.6" fill="#231f20" stroke="#231f20" stroke-width="0.12">23.95%</text>
<text x="116.70" y="339.86" font-size="4.6" fill="#231f20" stroke="#231f20" stroke-width="0.12" text-anchor="end">0.18%</text>
<text x="57.90" y="294.60" font-size="5.0" fill="#231f20" stroke="#231f20" stroke-width="0.12" text-anchor="end">10<tspan dy="-2.0" font-size="3.5">6</tspan></text>
<text x="57.90" y="303.30" font-size="5.0" fill="#231f20" stroke="#231f20" stroke-width="0.12" text-anchor="end">10<tspan dy="-2.0" font-size="3.5">5</tspan></text>
<text x="57.90" y="314.50" font-size="5.0" fill="#231f20" stroke="#231f20" stroke-width="0.12" text-anchor="end">10<tspan dy="-2.0" font-size="3.5">4</tspan></text>
<text x="57.90" y="326.70" font-size="5.0" fill="#231f20" stroke="#231f20" stroke-width="0.12" text-anchor="end">10<tspan dy="-2.0" font-size="3.5">3</tspan></text>
<text x="57.90" y="336.30" font-size="5.0" fill="#231f20" stroke="#231f20" stroke-width="0.12" text-anchor="end">−10<tspan dy="-2.0" font-size="3.5">3</tspan></text>
<text x="62.70" y="349.90" font-size="5.0" fill="#231f20" stroke="#231f20" stroke-width="0.12" text-anchor="middle">−10<tspan dy="-2.0" font-size="3.5">4</tspan></text>
<text x="75.70" y="349.90" font-size="5.0" fill="#231f20" stroke="#231f20" stroke-width="0.12" text-anchor="middle">−10<tspan dy="-2.0" font-size="3.5">3</tspan></text>
<text x="88.90" y="349.90" font-size="5.0" fill="#231f20" stroke="#231f20" stroke-width="0.12" text-anchor="middle">10<tspan dy="-2.0" font-size="3.5">4</tspan></text>
<text x="102.70" y="349.90" font-size="5.0" fill="#231f20" stroke="#231f20" stroke-width="0.12" text-anchor="middle">10<tspan dy="-2.0" font-size="3.5">5</tspan></text>
<text x="113.30" y="349.90" font-size="5.0" fill="#231f20" stroke="#231f20" stroke-width="0.12" text-anchor="middle">10<tspan dy="-2.0" font-size="3.5">6</tspan></text>
<text x="90.00" y="360.02" font-size="7.0" fill="#231f20" stroke="#231f20" stroke-width="0.3" text-anchor="middle" textLength="11.5" lengthAdjust="spacingAndGlyphs">7AAD</text>
<g clip-path="url(#cp11)">
<g clip-path="url(#bc11)">
<circle cx="163.61" cy="295.63" r="0.4" fill="#c8e8c0" opacity="0.8"/>
<circle cx="177.11" cy="296.67" r="0.4" fill="#a8cce8" opacity="0.8"/>
<circle cx="171.67" cy="294.69" r="0.4" fill="#c8e8c0" opacity="0.8"/>
<circle cx="177.34" cy="294.15" r="0.4" fill="#a8cce8" opacity="0.8"/>
<circle cx="171.67" cy="295.65" r="0.4" fill="#b8dcf0" opacity="0.8"/>
<circle cx="166.78" cy="292.95" r="0.4" fill="#c8e8c0" opacity="0.8"/>
<circle cx="170.43" cy="295.53" r="0.4" fill="#b8dcf0" opacity="0.8"/>
<circle cx="168.54" cy="295.47" r="0.4" fill="#b8dcf0" opacity="0.8"/>
<circle cx="163.87" cy="296.48" r="0.4" fill="#9fd8d0" opacity="0.8"/>
<circle cx="170.72" cy="295.04" r="0.4" fill="#9fd8d0" opacity="0.8"/>
<circle cx="169.40" cy="300.48" r="0.4" fill="#9fd8d0" opacity="0.8"/>
<circle cx="168.83" cy="295.28" r="0.4" fill="#f0c8d8" opacity="0.8"/>
<circle cx="162.24" cy="292.99" r="0.4" fill="#b8dcf0" opacity="0.8"/>
<circle cx="170.54" cy="293.86" r="0.4" fill="#b8dcf0" opacity="0.8"/>
<circle cx="177.32" cy="294.65" r="0.4" fill="#c8e8c0" opacity="0.8"/>
<circle cx="177.65" cy="302.94" r="0.4" fill="#a8cce8" opacity="0.8"/>
<circle cx="167.74" cy="292.82" r="0.4" fill="#c8e8c0" opacity="0.8"/>
<circle cx="176.09" cy="299.48" r="0.4" fill="#9fd8d0" opacity="0.8"/>
<circle cx="163.68" cy="295.26" r="0.4" fill="#a8cce8" opacity="0.8"/>
<circle cx="168.59" cy="298.07" r="0.4" fill="#c8e8c0" opacity="0.8"/>
<circle cx="161.33" cy="292.96" r="0.4" fill="#f0c8d8" opacity="0.8"/>
<circle cx="166.03" cy="293.53" r="0.4" fill="#c8e8c0" opacity="0.8"/>
<circle cx="164.90" cy="293.70" r="0.4" fill="#f0c8d8" opacity="0.8"/>
<circle cx="164.28" cy="295.73" r="0.4" fill="#b8dcf0" opacity="0.8"/>
<circle cx="173.04" cy="297.25" r="0.4" fill="#b8dcf0" opacity="0.8"/>
<circle cx="171.21" cy="297.20" r="0.4" fill="#c8e8c0" opacity="0.8"/>
<circle cx="173.86" cy="301.00" r="0.4" fill="#b8dcf0" opacity="0.8"/>
<circle cx="164.70" cy="298.07" r="0.4" fill="#b8dcf0" opacity="0.8"/>
<circle cx="170.92" cy="297.28" r="0.4" fill="#b8dcf0" opacity="0.8"/>
<circle cx="161.47" cy="294.63" r="0.4" fill="#a8cce8" opacity="0.8"/>
<circle cx="169.85" cy="297.79" r="0.4" fill="#9fd8d0" opacity="0.8"/>
<circle cx="166.83" cy="297.61" r="0.4" fill="#c8e8c0" opacity="0.8"/>
<circle cx="162.79" cy="300.24" r="0.4" fill="#c8e8c0" opacity="0.8"/>
<circle cx="176.32" cy="301.73" r="0.4" fill="#9fd8d0" opacity="0.8"/>
<circle cx="165.40" cy="294.04" r="0.4" fill="#f0c8d8" opacity="0.8"/>
<circle cx="175.02" cy="294.50" r="0.4" fill="#9fd8d0" opacity="0.8"/>
<circle cx="170.79" cy="294.69" r="0.4" fill="#a8cce8" opacity="0.8"/>
<circle cx="167.18" cy="303.49" r="0.4" fill="#a8cce8" opacity="0.8"/>
<circle cx="163.29" cy="297.60" r="0.4" fill="#b8dcf0" opacity="0.8"/>
<circle cx="174.77" cy="295.33" r="0.4" fill="#c8e8c0" opacity="0.8"/>
<circle cx="170.81" cy="295.66" r="0.4" fill="#a8cce8" opacity="0.8"/>
<circle cx="166.11" cy="298.39" r="0.4" fill="#c8e8c0" opacity="0.8"/>
<circle cx="169.77" cy="297.27" r="0.4" fill="#f0c8d8" opacity="0.8"/>
<circle cx="174.57" cy="294.93" r="0.4" fill="#a8cce8" opacity="0.8"/>
<circle cx="164.99" cy="295.21" r="0.4" fill="#b8dcf0" opacity="0.8"/>
<circle cx="164.07" cy="294.87" r="0.4" fill="#a8cce8" opacity="0.8"/>
<circle cx="161.62" cy="298.00" r="0.4" fill="#b8dcf0" opacity="0.8"/>
<circle cx="165.61" cy="296.04" r="0.4" fill="#c8e8c0" opacity="0.8"/>
<circle cx="169.93" cy="298.16" r="0.4" fill="#c8e8c0" opacity="0.8"/>
<circle cx="163.00" cy="297.58" r="0.4" fill="#a8cce8" opacity="0.8"/>
<circle cx="165.80" cy="297.93" r="0.4" fill="#c8e8c0" opacity="0.8"/>
<circle cx="169.44" cy="296.34" r="0.4" fill="#a8cce8" opacity="0.8"/>
<circle cx="163.31" cy="292.72" r="0.4" fill="#b8dcf0" opacity="0.8"/>
<circle cx="170.24" cy="293.16" r="0.4" fill="#f0c8d8" opacity="0.8"/>
<circle cx="168.92" cy="295.90" r="0.4" fill="#c8e8c0" opacity="0.8"/>
<circle cx="164.01" cy="297.57" r="0.4" fill="#c8e8c0" opacity="0.8"/>
<circle cx="172.75" cy="302.11" r="0.4" fill="#f0c8d8" opacity="0.8"/>
<circle cx="175.16" cy="297.16" r="0.4" fill="#a8cce8" opacity="0.8"/>
<circle cx="174.12" cy="293.42" r="0.4" fill="#9fd8d0" opacity="0.8"/>
<circle cx="167.91" cy="296.47" r="0.4" fill="#f0c8d8" opacity="0.8"/>
<circle cx="174.57" cy="298.76" r="0.4" fill="#9fd8d0" opacity="0.8"/>
<circle cx="174.75" cy="293.56" r="0.4" fill="#f0c8d8" opacity="0.8"/>
<circle cx="163.72" cy="293.92" r="0.4" fill="#9fd8d0" opacity="0.8"/>
<circle cx="165.41" cy="298.32" r="0.4" fill="#9fd8d0" opacity="0.8"/>
<circle cx="163.10" cy="295.69" r="0.4" fill="#b8dcf0" opacity="0.8"/>
<circle cx="162.44" cy="297.57" r="0.4" fill="#a8cce8" opacity="0.8"/>
<circle cx="165.02" cy="294.88" r="0.4" fill="#c8e8c0" opacity="0.8"/>
<circle cx="177.30" cy="294.46" r="0.4" fill="#a8cce8" opacity="0.8"/>
<circle cx="174.65" cy="303.13" r="0.4" fill="#a8cce8" opacity="0.8"/>
<circle cx="161.87" cy="294.93" r="0.4" fill="#f0c8d8" opacity="0.8"/>
<circle cx="165.81" cy="295.45" r="0.4" fill="#f0c8d8" opacity="0.8"/>
<circle cx="174.60" cy="294.72" r="0.4" fill="#a8cce8" opacity="0.8"/>
<circle cx="169.89" cy="293.16" r="0.4" fill="#c8e8c0" opacity="0.8"/>
<circle cx="165.20" cy="294.84" r="0.4" fill="#9fd8d0" opacity="0.8"/>
<circle cx="171.98" cy="293.24" r="0.4" fill="#a8cce8" opacity="0.8"/>
<circle cx="162.30" cy="302.51" r="0.4" fill="#9fd8d0" opacity="0.8"/>
<circle cx="162.69" cy="295.28" r="0.4" fill="#f0c8d8" opacity="0.8"/>
<circle cx="170.11" cy="294.08" r="0.4" fill="#b8dcf0" opacity="0.8"/>
<circle cx="175.91" cy="294.56" r="0.4" fill="#c8e8c0" opacity="0.8"/>
<circle cx="170.83" cy="293.81" r="0.4" fill="#f0c8d8" opacity="0.8"/>
<circle cx="166.04" cy="299.96" r="0.4" fill="#c8e8c0" opacity="0.8"/>
<circle cx="171.36" cy="298.60" r="0.4" fill="#b8dcf0" opacity="0.8"/>
<circle cx="170.35" cy="295.48" r="0.4" fill="#9fd8d0" opacity="0.8"/>
<circle cx="168.90" cy="298.62" r="0.4" fill="#c8e8c0" opacity="0.8"/>
<circle cx="174.81" cy="294.54" r="0.4" fill="#a8cce8" opacity="0.8"/>
<circle cx="165.30" cy="293.66" r="0.4" fill="#c8e8c0" opacity="0.8"/>
<circle cx="177.30" cy="298.01" r="0.4" fill="#c8e8c0" opacity="0.8"/>
<circle cx="161.50" cy="298.08" r="0.4" fill="#b8dcf0" opacity="0.8"/>
<circle cx="166.65" cy="299.86" r="0.4" fill="#9fd8d0" opacity="0.8"/>
<circle cx="169.41" cy="295.59" r="0.4" fill="#9fd8d0" opacity="0.8"/>
<ellipse cx="168.50" cy="292.20" rx="8.00" ry="2.90" fill="#8ab0d8" opacity="0.6" filter="url(#b0)" transform="rotate(2 168.50 292.20)"/>
<ellipse cx="168.61" cy="292.13" rx="7.36" ry="2.46" fill="#5aa8a0" opacity="0.8" filter="url(#b0)" transform="rotate(2 168.61 292.13)"/>
<ellipse cx="168.79" cy="292.03" rx="6.40" ry="2.03" fill="#80b048" opacity="0.9" filter="url(#b0)" transform="rotate(2 168.79 292.03)"/>
<ellipse cx="169.04" cy="291.87" rx="4.96" ry="1.74" fill="#c8b838" opacity="0.9" filter="url(#b0)" transform="rotate(2 169.04 291.87)"/>
<ellipse cx="169.29" cy="291.73" rx="3.60" ry="1.51" fill="#e88a28" opacity="0.95" filter="url(#b0)" transform="rotate(2 169.29 291.73)"/>
<ellipse cx="169.50" cy="291.60" rx="3.04" ry="1.22" fill="#ea3a14" opacity="1.0" filter="url(#b0)" transform="rotate(2 169.50 291.60)"/>
<ellipse cx="168.50" cy="290.02" rx="6.40" ry="0.45" fill="#5a5a3a" opacity="0.45" filter="url(#b0)" transform="rotate(2 168.50 290.02)"/>
</g>
<ellipse cx="159.50" cy="326.60" rx="2.40" ry="3.91" fill="#bfe2e6" opacity="0.55" filter="url(#b1)"/>
<circle cx="164.18" cy="327.27" r="0.45" fill="#7fb0b5" opacity="0.8"/>
<circle cx="159.62" cy="332.89" r="0.45" fill="#a8cfd0" opacity="0.8"/>
<circle cx="160.84" cy="324.35" r="0.45" fill="#a8cfd0" opacity="0.8"/>
<circle cx="157.87" cy="323.09" r="0.45" fill="#7fb0b5" opacity="0.8"/>
<circle cx="161.68" cy="327.94" r="0.45" fill="#4f7f8a" opacity="0.8"/>
<circle cx="163.55" cy="329.83" r="0.45" fill="#4f7f8a" opacity="0.8"/>
<circle cx="158.82" cy="323.54" r="0.45" fill="#7fb0b5" opacity="0.8"/>
<circle cx="161.44" cy="324.50" r="0.45" fill="#7fb0b5" opacity="0.8"/>
<circle cx="158.66" cy="332.14" r="0.45" fill="#a8cfd0" opacity="0.8"/>
<circle cx="161.29" cy="326.04" r="0.45" fill="#4f7f8a" opacity="0.8"/>
<circle cx="161.77" cy="328.13" r="0.45" fill="#6f9da6" opacity="0.8"/>
<circle cx="159.07" cy="332.39" r="0.45" fill="#7fb0b5" opacity="0.8"/>
<circle cx="159.57" cy="329.13" r="0.45" fill="#7fb0b5" opacity="0.8"/>
<circle cx="160.60" cy="330.50" r="0.45" fill="#5d8a95" opacity="0.8"/>
<circle cx="162.05" cy="329.84" r="0.45" fill="#a8cfd0" opacity="0.8"/>
<circle cx="157.91" cy="329.71" r="0.45" fill="#5d8a95" opacity="0.8"/>
<circle cx="157.50" cy="326.12" r="0.45" fill="#a8cfd0" opacity="0.8"/>
<circle cx="158.17" cy="322.09" r="0.45" fill="#4f7f8a" opacity="0.8"/>
<circle cx="159.14" cy="323.99" r="0.45" fill="#a8cfd0" opacity="0.8"/>
<circle cx="162.06" cy="324.50" r="0.45" fill="#7fb0b5" opacity="0.8"/>
<circle cx="160.43" cy="325.97" r="0.45" fill="#7fb0b5" opacity="0.8"/>
<circle cx="160.35" cy="324.83" r="0.45" fill="#5d8a95" opacity="0.8"/>
<circle cx="160.32" cy="323.67" r="0.45" fill="#8ab5b8" opacity="0.8"/>
<circle cx="162.29" cy="328.82" r="0.45" fill="#a8cfd0" opacity="0.8"/>
<circle cx="159.22" cy="333.19" r="0.45" fill="#6f9da6" opacity="0.8"/>
<circle cx="156.94" cy="330.79" r="0.45" fill="#a8cfd0" opacity="0.8"/>
<circle cx="160.11" cy="325.30" r="0.45" fill="#5d8a95" opacity="0.8"/>
<circle cx="161.41" cy="314.80" r="0.45" fill="#7fb0b5" opacity="0.8"/>
<circle cx="158.11" cy="329.11" r="0.45" fill="#a8cfd0" opacity="0.8"/>
<circle cx="157.18" cy="324.14" r="0.45" fill="#7fb0b5" opacity="0.8"/>
<circle cx="160.48" cy="324.93" r="0.45" fill="#6f9da6" opacity="0.8"/>
<circle cx="157.91" cy="324.75" r="0.45" fill="#6f9da6" opacity="0.8"/>
<circle cx="157.73" cy="323.22" r="0.45" fill="#4f7f8a" opacity="0.8"/>
<circle cx="160.53" cy="322.48" r="0.45" fill="#8ab5b8" opacity="0.8"/>
<circle cx="158.70" cy="330.43" r="0.45" fill="#a8cfd0" opacity="0.8"/>
<circle cx="159.09" cy="327.39" r="0.45" fill="#7fb0b5" opacity="0.8"/>
<circle cx="156.05" cy="324.29" r="0.45" fill="#6f9da6" opacity="0.8"/>
<circle cx="161.16" cy="328.02" r="0.45" fill="#6f9da6" opacity="0.8"/>
<circle cx="160.75" cy="328.47" r="0.45" fill="#6f9da6" opacity="0.8"/>
<circle cx="157.78" cy="325.02" r="0.45" fill="#5d8a95" opacity="0.8"/>
<circle cx="158.38" cy="331.04" r="0.45" fill="#a8cfd0" opacity="0.8"/>
<circle cx="155.05" cy="323.78" r="0.45" fill="#7fb0b5" opacity="0.8"/>
<circle cx="158.05" cy="328.48" r="0.45" fill="#a8cfd0" opacity="0.8"/>
<circle cx="162.81" cy="328.58" r="0.45" fill="#7fb0b5" opacity="0.8"/>
<circle cx="161.58" cy="330.06" r="0.45" fill="#4f7f8a" opacity="0.8"/>
<circle cx="160.81" cy="325.95" r="0.45" fill="#a8cfd0" opacity="0.8"/>
<circle cx="159.14" cy="326.85" r="0.45" fill="#4f7f8a" opacity="0.8"/>
<circle cx="159.51" cy="326.49" r="0.45" fill="#5d8a95" opacity="0.8"/>
<circle cx="159.37" cy="325.36" r="0.45" fill="#6f9da6" opacity="0.8"/>
<circle cx="159.94" cy="325.49" r="0.45" fill="#a8cfd0" opacity="0.8"/>
<circle cx="158.57" cy="327.12" r="0.45" fill="#4f7f8a" opacity="0.8"/>
<circle cx="157.42" cy="329.84" r="0.45" fill="#8ab5b8" opacity="0.8"/>
<circle cx="158.31" cy="323.48" r="0.45" fill="#6f9da6" opacity="0.8"/>
<circle cx="158.75" cy="329.11" r="0.45" fill="#7fb0b5" opacity="0.8"/>
<circle cx="161.05" cy="327.82" r="0.45" fill="#8ab5b8" opacity="0.8"/>
<circle cx="159.96" cy="330.34" r="0.45" fill="#a8cfd0" opacity="0.8"/>
<circle cx="158.89" cy="321.93" r="0.45" fill="#6f9da6" opacity="0.8"/>
<circle cx="157.59" cy="323.57" r="0.45" fill="#7fb0b5" opacity="0.8"/>
<circle cx="157.51" cy="324.22" r="0.45" fill="#5d8a95" opacity="0.8"/>
<circle cx="161.80" cy="326.46" r="0.45" fill="#4f7f8a" opacity="0.8"/>
<circle cx="159.91" cy="332.57" r="0.45" fill="#7fb0b5" opacity="0.8"/>
<circle cx="161.55" cy="328.65" r="0.45" fill="#7fb0b5" opacity="0.8"/>
<circle cx="159.91" cy="325.74" r="0.45" fill="#a8cfd0" opacity="0.8"/>
<circle cx="159.86" cy="319.12" r="0.45" fill="#a8cfd0" opacity="0.8"/>
<circle cx="157.46" cy="328.96" r="0.45" fill="#8ab5b8" opacity="0.8"/>
<circle cx="159.90" cy="334.16" r="0.45" fill="#8ab5b8" opacity="0.8"/>
<circle cx="160.52" cy="323.72" r="0.45" fill="#a8cfd0" opacity="0.8"/>
<circle cx="162.68" cy="325.07" r="0.45" fill="#a8cfd0" opacity="0.8"/>
<circle cx="161.58" cy="327.86" r="0.45" fill="#4f7f8a" opacity="0.8"/>
<circle cx="159.42" cy="322.43" r="0.45" fill="#8ab5b8" opacity="0.8"/>
<circle cx="161.15" cy="323.67" r="0.45" fill="#4f7f8a" opacity="0.8"/>
<circle cx="160.34" cy="320.60" r="0.45" fill="#8ab5b8" opacity="0.8"/>
<circle cx="159.78" cy="328.37" r="0.45" fill="#a8cfd0" opacity="0.8"/>
<circle cx="160.02" cy="330.12" r="0.45" fill="#5d8a95" opacity="0.8"/>
<circle cx="163.48" cy="324.04" r="0.45" fill="#5d8a95" opacity="0.8"/>
<circle cx="160.44" cy="323.32" r="0.45" fill="#a8cfd0" opacity="0.8"/>
<circle cx="159.16" cy="321.56" r="0.45" fill="#a8cfd0" opacity="0.8"/>
<circle cx="156.14" cy="328.05" r="0.45" fill="#8ab5b8" opacity="0.8"/>
<circle cx="158.16" cy="323.70" r="0.45" fill="#5d8a95" opacity="0.8"/>
<circle cx="160.68" cy="326.67" r="0.45" fill="#4f7f8a" opacity="0.8"/>
<circle cx="159.93" cy="332.67" r="0.45" fill="#8ab5b8" opacity="0.8"/>
<circle cx="159.96" cy="326.19" r="0.45" fill="#5d8a95" opacity="0.8"/>
<circle cx="158.81" cy="320.85" r="0.45" fill="#7fb0b5" opacity="0.8"/>
<circle cx="158.71" cy="320.54" r="0.45" fill="#8ab5b8" opacity="0.8"/>
<circle cx="160.57" cy="328.31" r="0.45" fill="#4f7f8a" opacity="0.8"/>
<circle cx="160.25" cy="323.93" r="0.45" fill="#285a5a" opacity="0.85"/>
<circle cx="160.26" cy="328.84" r="0.45" fill="#285a5a" opacity="0.85"/>
<circle cx="161.78" cy="328.62" r="0.45" fill="#285a5a" opacity="0.85"/>
<circle cx="161.32" cy="330.00" r="0.45" fill="#3a6f78" opacity="0.85"/>
<circle cx="160.60" cy="324.69" r="0.45" fill="#3a6f78" opacity="0.85"/>
<circle cx="158.91" cy="324.40" r="0.45" fill="#285a5a" opacity="0.85"/>
<circle cx="159.29" cy="328.39" r="0.45" fill="#2f5f68" opacity="0.85"/>
<circle cx="161.39" cy="326.58" r="0.45" fill="#3a6f78" opacity="0.85"/>
<circle cx="159.12" cy="326.69" r="0.45" fill="#2f5f68" opacity="0.85"/>
<circle cx="157.87" cy="325.17" r="0.45" fill="#3a6f78" opacity="0.85"/>
<circle cx="158.46" cy="331.36" r="0.45" fill="#285a5a" opacity="0.85"/>
<circle cx="159.64" cy="329.45" r="0.45" fill="#3a6f78" opacity="0.85"/>
<circle cx="161.18" cy="329.27" r="0.45" fill="#2f5f68" opacity="0.85"/>
<circle cx="161.37" cy="324.72" r="0.45" fill="#285a5a" opacity="0.85"/>
<circle cx="159.15" cy="327.19" r="0.45" fill="#285a5a" opacity="0.85"/>
<circle cx="158.87" cy="326.37" r="0.45" fill="#2f5f68" opacity="0.85"/>
<circle cx="160.14" cy="328.22" r="0.45" fill="#3a6f78" opacity="0.85"/>
<circle cx="158.62" cy="322.21" r="0.45" fill="#285a5a" opacity="0.85"/>
<circle cx="160.70" cy="331.10" r="0.45" fill="#2f5f68" opacity="0.85"/>
<circle cx="158.22" cy="328.66" r="0.45" fill="#3a6f78" opacity="0.85"/>
<circle cx="159.27" cy="325.38" r="0.45" fill="#3a6f78" opacity="0.85"/>
<circle cx="158.22" cy="327.59" r="0.45" fill="#285a5a" opacity="0.85"/>
<line x1="188.10" y1="288.80" x2="188.10" y2="296.55" stroke="#6a5048" stroke-width="1.0" opacity="0.9"/>
<line x1="188.10" y1="296.55" x2="188.10" y2="304.30" stroke="#4a8a88" stroke-width="1.0" opacity="0.9"/>
<circle cx="187.94" cy="301.74" r="0.35" fill="#9ab8d0" opacity="0.8"/>
<circle cx="189.31" cy="305.56" r="0.35" fill="#9ab8d0" opacity="0.8"/>
<circle cx="188.10" cy="292.16" r="0.35" fill="#9ab8d0" opacity="0.8"/>
<circle cx="187.88" cy="292.86" r="0.35" fill="#c0d8c0" opacity="0.8"/>
<circle cx="189.73" cy="289.55" r="0.35" fill="#9ab8d0" opacity="0.8"/>
<circle cx="187.11" cy="302.80" r="0.35" fill="#9ab8d0" opacity="0.8"/>
<circle cx="187.30" cy="295.84" r="0.35" fill="#9ab8d0" opacity="0.8"/>
<circle cx="186.50" cy="306.22" r="0.35" fill="#c0d8c0" opacity="0.8"/>
<circle cx="187.55" cy="304.33" r="0.35" fill="#c0d8c0" opacity="0.8"/>
<circle cx="186.64" cy="305.93" r="0.35" fill="#c0d8c0" opacity="0.8"/>
<circle cx="188.12" cy="301.46" r="0.35" fill="#b0c8e0" opacity="0.8"/>
<circle cx="188.64" cy="302.93" r="0.35" fill="#c0d8c0" opacity="0.8"/>
<circle cx="187.87" cy="294.10" r="0.35" fill="#9ab8d0" opacity="0.8"/>
<circle cx="189.23" cy="301.68" r="0.35" fill="#9ab8d0" opacity="0.8"/>
<circle cx="186.98" cy="301.40" r="0.35" fill="#9ab8d0" opacity="0.8"/>
<circle cx="188.31" cy="305.72" r="0.35" fill="#c0d8c0" opacity="0.8"/>
<circle cx="187.30" cy="305.70" r="0.35" fill="#b0c8e0" opacity="0.8"/>
<circle cx="187.69" cy="302.63" r="0.35" fill="#9ab8d0" opacity="0.8"/>
</g>
<line x1="178.60" y1="286.50" x2="178.60" y2="341.50" stroke="#6a6c74" stroke-width="0.85"/>
<line x1="144.50" y1="312.50" x2="204.00" y2="312.50" stroke="#6a6c74" stroke-width="0.85"/>
<line x1="144.05" y1="286.50" x2="204.45" y2="286.50" stroke="#4a4c66" stroke-width="0.9"/>
<line x1="204.00" y1="286.50" x2="204.00" y2="341.50" stroke="#6a6c84" stroke-width="0.9"/>
<line x1="144.50" y1="286.05" x2="144.50" y2="342.00" stroke="#2e3570" stroke-width="1.0"/>
<line x1="144.00" y1="341.50" x2="204.45" y2="341.50" stroke="#2e3570" stroke-width="1.0"/>
<line x1="143.30" y1="292.90" x2="144.50" y2="292.90" stroke="#2e3570" stroke-width="0.7"/>
<line x1="143.30" y1="301.50" x2="144.50" y2="301.50" stroke="#2e3570" stroke-width="0.7"/>
<line x1="143.30" y1="312.50" x2="144.50" y2="312.50" stroke="#2e3570" stroke-width="0.7"/>
<line x1="143.30" y1="324.90" x2="144.50" y2="324.90" stroke="#2e3570" stroke-width="0.7"/>
<line x1="143.30" y1="334.50" x2="144.50" y2="334.50" stroke="#2e3570" stroke-width="0.7"/>
<text x="145.90" y="291.96" font-size="4.6" fill="#231f20" stroke="#231f20" stroke-width="0.12">59.99%</text>
<text x="201.20" y="291.96" font-size="4.6" fill="#e03a3a" stroke="#e03a3a" stroke-width="0.1" text-anchor="end">24.89%</text>
<text x="145.90" y="339.86" font-size="4.6" fill="#231f20" stroke="#231f20" stroke-width="0.12">14.86%</text>
<text x="201.20" y="339.86" font-size="4.6" fill="#231f20" stroke="#231f20" stroke-width="0.12" text-anchor="end">0.26%</text>
<text x="141.90" y="294.60" font-size="5.0" fill="#231f20" stroke="#231f20" stroke-width="0.12" text-anchor="end">10<tspan dy="-2.0" font-size="3.5">6</tspan></text>
<text x="141.90" y="303.30" font-size="5.0" fill="#231f20" stroke="#231f20" stroke-width="0.12" text-anchor="end">10<tspan dy="-2.0" font-size="3.5">5</tspan></text>
<text x="141.90" y="314.50" font-size="5.0" fill="#231f20" stroke="#231f20" stroke-width="0.12" text-anchor="end">10<tspan dy="-2.0" font-size="3.5">4</tspan></text>
<text x="141.90" y="326.70" font-size="5.0" fill="#231f20" stroke="#231f20" stroke-width="0.12" text-anchor="end">10<tspan dy="-2.0" font-size="3.5">3</tspan></text>
<text x="141.90" y="336.30" font-size="5.0" fill="#231f20" stroke="#231f20" stroke-width="0.12" text-anchor="end">−10<tspan dy="-2.0" font-size="3.5">3</tspan></text>
<text x="146.70" y="349.90" font-size="5.0" fill="#231f20" stroke="#231f20" stroke-width="0.12" text-anchor="middle">−10<tspan dy="-2.0" font-size="3.5">4</tspan></text>
<text x="159.70" y="349.90" font-size="5.0" fill="#231f20" stroke="#231f20" stroke-width="0.12" text-anchor="middle">−10<tspan dy="-2.0" font-size="3.5">3</tspan></text>
<text x="172.90" y="349.90" font-size="5.0" fill="#231f20" stroke="#231f20" stroke-width="0.12" text-anchor="middle">10<tspan dy="-2.0" font-size="3.5">4</tspan></text>
<text x="186.70" y="349.90" font-size="5.0" fill="#231f20" stroke="#231f20" stroke-width="0.12" text-anchor="middle">10<tspan dy="-2.0" font-size="3.5">5</tspan></text>
<text x="197.30" y="349.90" font-size="5.0" fill="#231f20" stroke="#231f20" stroke-width="0.12" text-anchor="middle">10<tspan dy="-2.0" font-size="3.5">6</tspan></text>
<text x="174.25" y="360.02" font-size="7.0" fill="#231f20" stroke="#231f20" stroke-width="0.3" text-anchor="middle" textLength="11.5" lengthAdjust="spacingAndGlyphs">7AAD</text>
<g clip-path="url(#cp12)">
<g clip-path="url(#bc12)">
<circle cx="246.13" cy="297.03" r="0.4" fill="#a8cce8" opacity="0.8"/>
<circle cx="247.61" cy="297.42" r="0.4" fill="#9fd8d0" opacity="0.8"/>
<circle cx="255.08" cy="294.31" r="0.4" fill="#c8e8c0" opacity="0.8"/>
<circle cx="251.09" cy="294.16" r="0.4" fill="#f0c8d8" opacity="0.8"/>
<circle cx="258.46" cy="295.54" r="0.4" fill="#b8dcf0" opacity="0.8"/>
<circle cx="250.67" cy="296.93" r="0.4" fill="#f0c8d8" opacity="0.8"/>
<circle cx="245.69" cy="303.10" r="0.4" fill="#f0c8d8" opacity="0.8"/>
<circle cx="243.57" cy="293.44" r="0.4" fill="#9fd8d0" opacity="0.8"/>
<circle cx="245.44" cy="296.04" r="0.4" fill="#a8cce8" opacity="0.8"/>
<circle cx="243.66" cy="293.94" r="0.4" fill="#9fd8d0" opacity="0.8"/>
<circle cx="242.99" cy="294.42" r="0.4" fill="#c8e8c0" opacity="0.8"/>
<circle cx="254.61" cy="293.05" r="0.4" fill="#f0c8d8" opacity="0.8"/>
<circle cx="255.08" cy="296.14" r="0.4" fill="#b8dcf0" opacity="0.8"/>
<circle cx="260.40" cy="295.06" r="0.4" fill="#b8dcf0" opacity="0.8"/>
<circle cx="252.81" cy="295.85" r="0.4" fill="#b8dcf0" opacity="0.8"/>
<circle cx="247.27" cy="295.07" r="0.4" fill="#b8dcf0" opacity="0.8"/>
<circle cx="254.76" cy="298.00" r="0.4" fill="#b8dcf0" opacity="0.8"/>
<circle cx="253.05" cy="300.24" r="0.4" fill="#b8dcf0" opacity="0.8"/>
<circle cx="242.50" cy="294.65" r="0.4" fill="#9fd8d0" opacity="0.8"/>
<circle cx="240.27" cy="294.14" r="0.4" fill="#9fd8d0" opacity="0.8"/>
<circle cx="246.63" cy="292.91" r="0.4" fill="#a8cce8" opacity="0.8"/>
<circle cx="255.30" cy="294.89" r="0.4" fill="#9fd8d0" opacity="0.8"/>
<circle cx="249.70" cy="293.51" r="0.4" fill="#f0c8d8" opacity="0.8"/>
<circle cx="247.91" cy="293.66" r="0.4" fill="#a8cce8" opacity="0.8"/>
<circle cx="250.21" cy="294.31" r="0.4" fill="#c8e8c0" opacity="0.8"/>
<circle cx="241.83" cy="295.38" r="0.4" fill="#f0c8d8" opacity="0.8"/>
<circle cx="245.76" cy="305.14" r="0.4" fill="#c8e8c0" opacity="0.8"/>
<circle cx="260.86" cy="300.66" r="0.4" fill="#9fd8d0" opacity="0.8"/>
<circle cx="240.18" cy="293.38" r="0.4" fill="#a8cce8" opacity="0.8"/>
<circle cx="254.05" cy="300.12" r="0.4" fill="#9fd8d0" opacity="0.8"/>
<circle cx="254.24" cy="300.37" r="0.4" fill="#a8cce8" opacity="0.8"/>
<circle cx="243.02" cy="300.45" r="0.4" fill="#b8dcf0" opacity="0.8"/>
<circle cx="246.46" cy="294.14" r="0.4" fill="#b8dcf0" opacity="0.8"/>
<circle cx="260.97" cy="302.24" r="0.4" fill="#b8dcf0" opacity="0.8"/>
<circle cx="242.23" cy="294.32" r="0.4" fill="#9fd8d0" opacity="0.8"/>
<circle cx="256.18" cy="294.13" r="0.4" fill="#9fd8d0" opacity="0.8"/>
<circle cx="246.98" cy="295.35" r="0.4" fill="#9fd8d0" opacity="0.8"/>
<circle cx="242.97" cy="300.31" r="0.4" fill="#9fd8d0" opacity="0.8"/>
<circle cx="245.22" cy="296.95" r="0.4" fill="#a8cce8" opacity="0.8"/>
<circle cx="242.34" cy="296.10" r="0.4" fill="#c8e8c0" opacity="0.8"/>
<circle cx="259.73" cy="302.39" r="0.4" fill="#b8dcf0" opacity="0.8"/>
<circle cx="250.78" cy="295.43" r="0.4" fill="#9fd8d0" opacity="0.8"/>
<circle cx="253.14" cy="292.81" r="0.4" fill="#a8cce8" opacity="0.8"/>
<circle cx="243.09" cy="293.15" r="0.4" fill="#c8e8c0" opacity="0.8"/>
<circle cx="241.95" cy="295.23" r="0.4" fill="#a8cce8" opacity="0.8"/>
<circle cx="258.54" cy="295.93" r="0.4" fill="#9fd8d0" opacity="0.8"/>
<circle cx="240.06" cy="293.21" r="0.4" fill="#f0c8d8" opacity="0.8"/>
<circle cx="258.65" cy="293.89" r="0.4" fill="#9fd8d0" opacity="0.8"/>
<circle cx="241.57" cy="297.41" r="0.4" fill="#a8cce8" opacity="0.8"/>
<circle cx="251.22" cy="296.40" r="0.4" fill="#c8e8c0" opacity="0.8"/>
<circle cx="240.19" cy="294.74" r="0.4" fill="#b8dcf0" opacity="0.8"/>
<circle cx="259.71" cy="294.73" r="0.4" fill="#c8e8c0" opacity="0.8"/>
<circle cx="257.53" cy="296.04" r="0.4" fill="#9fd8d0" opacity="0.8"/>
<circle cx="252.37" cy="298.32" r="0.4" fill="#f0c8d8" opacity="0.8"/>
<circle cx="250.04" cy="293.90" r="0.4" fill="#f0c8d8" opacity="0.8"/>
<circle cx="259.81" cy="300.88" r="0.4" fill="#f0c8d8" opacity="0.8"/>
<circle cx="253.51" cy="301.92" r="0.4" fill="#a8cce8" opacity="0.8"/>
<circle cx="255.76" cy="296.03" r="0.4" fill="#f0c8d8" opacity="0.8"/>
<circle cx="252.45" cy="298.55" r="0.4" fill="#9fd8d0" opacity="0.8"/>
<circle cx="250.48" cy="295.08" r="0.4" fill="#9fd8d0" opacity="0.8"/>
<circle cx="251.56" cy="295.83" r="0.4" fill="#a8cce8" opacity="0.8"/>
<circle cx="258.49" cy="294.07" r="0.4" fill="#a8cce8" opacity="0.8"/>
<circle cx="243.20" cy="300.07" r="0.4" fill="#f0c8d8" opacity="0.8"/>
<circle cx="248.11" cy="296.88" r="0.4" fill="#f0c8d8" opacity="0.8"/>
<circle cx="245.24" cy="295.07" r="0.4" fill="#c8e8c0" opacity="0.8"/>
<circle cx="248.64" cy="294.94" r="0.4" fill="#b8dcf0" opacity="0.8"/>
<circle cx="251.95" cy="294.67" r="0.4" fill="#a8cce8" opacity="0.8"/>
<circle cx="244.82" cy="296.20" r="0.4" fill="#b8dcf0" opacity="0.8"/>
<circle cx="251.57" cy="298.36" r="0.4" fill="#9fd8d0" opacity="0.8"/>
<circle cx="255.46" cy="293.52" r="0.4" fill="#f0c8d8" opacity="0.8"/>
<circle cx="252.49" cy="297.73" r="0.4" fill="#a8cce8" opacity="0.8"/>
<circle cx="256.04" cy="297.70" r="0.4" fill="#c8e8c0" opacity="0.8"/>
<circle cx="254.81" cy="295.94" r="0.4" fill="#c8e8c0" opacity="0.8"/>
<circle cx="242.93" cy="298.15" r="0.4" fill="#a8cce8" opacity="0.8"/>
<circle cx="253.66" cy="292.91" r="0.4" fill="#f0c8d8" opacity="0.8"/>
<circle cx="242.23" cy="294.97" r="0.4" fill="#b8dcf0" opacity="0.8"/>
<circle cx="261.10" cy="296.73" r="0.4" fill="#b8dcf0" opacity="0.8"/>
<circle cx="252.27" cy="293.18" r="0.4" fill="#f0c8d8" opacity="0.8"/>
<circle cx="241.25" cy="295.21" r="0.4" fill="#b8dcf0" opacity="0.8"/>
<circle cx="241.03" cy="299.56" r="0.4" fill="#b8dcf0" opacity="0.8"/>
<circle cx="250.02" cy="294.62" r="0.4" fill="#a8cce8" opacity="0.8"/>
<circle cx="255.42" cy="301.23" r="0.4" fill="#f0c8d8" opacity="0.8"/>
<circle cx="261.55" cy="297.03" r="0.4" fill="#b8dcf0" opacity="0.8"/>
<circle cx="252.27" cy="300.71" r="0.4" fill="#b8dcf0" opacity="0.8"/>
<circle cx="248.00" cy="297.31" r="0.4" fill="#9fd8d0" opacity="0.8"/>
<circle cx="257.53" cy="292.86" r="0.4" fill="#9fd8d0" opacity="0.8"/>
<circle cx="242.68" cy="293.49" r="0.4" fill="#9fd8d0" opacity="0.8"/>
<circle cx="251.19" cy="296.98" r="0.4" fill="#c8e8c0" opacity="0.8"/>
<circle cx="240.95" cy="293.45" r="0.4" fill="#f0c8d8" opacity="0.8"/>
<circle cx="247.71" cy="295.27" r="0.4" fill="#f0c8d8" opacity="0.8"/>
<circle cx="242.46" cy="295.96" r="0.4" fill="#b8dcf0" opacity="0.8"/>
<circle cx="245.55" cy="294.51" r="0.4" fill="#f0c8d8" opacity="0.8"/>
<circle cx="249.59" cy="297.39" r="0.4" fill="#a8cce8" opacity="0.8"/>
<circle cx="250.64" cy="295.91" r="0.4" fill="#b8dcf0" opacity="0.8"/>
<circle cx="252.08" cy="294.36" r="0.4" fill="#9fd8d0" opacity="0.8"/>
<circle cx="259.05" cy="296.94" r="0.4" fill="#f0c8d8" opacity="0.8"/>
<circle cx="259.08" cy="300.29" r="0.4" fill="#f0c8d8" opacity="0.8"/>
<circle cx="261.74" cy="293.06" r="0.4" fill="#c8e8c0" opacity="0.8"/>
<circle cx="240.30" cy="296.35" r="0.4" fill="#9fd8d0" opacity="0.8"/>
<circle cx="261.68" cy="297.96" r="0.4" fill="#a8cce8" opacity="0.8"/>
<circle cx="257.45" cy="293.22" r="0.4" fill="#a8cce8" opacity="0.8"/>
<circle cx="241.63" cy="297.51" r="0.4" fill="#f0c8d8" opacity="0.8"/>
<circle cx="248.56" cy="297.24" r="0.4" fill="#c8e8c0" opacity="0.8"/>
<circle cx="261.09" cy="294.52" r="0.4" fill="#b8dcf0" opacity="0.8"/>
<circle cx="259.03" cy="297.40" r="0.4" fill="#f0c8d8" opacity="0.8"/>
<circle cx="251.27" cy="296.34" r="0.4" fill="#9fd8d0" opacity="0.8"/>
<circle cx="259.49" cy="297.03" r="0.4" fill="#f0c8d8" opacity="0.8"/>
<circle cx="253.62" cy="294.80" r="0.4" fill="#c8e8c0" opacity="0.8"/>
<circle cx="247.22" cy="300.88" r="0.4" fill="#c8e8c0" opacity="0.8"/>
<circle cx="248.46" cy="293.10" r="0.4" fill="#f0c8d8" opacity="0.8"/>
<ellipse cx="249.00" cy="292.30" rx="10.00" ry="3.00" fill="#8ab0d8" opacity="0.6" filter="url(#b0)" transform="rotate(1 249.00 292.30)"/>
<ellipse cx="249.46" cy="292.22" rx="9.20" ry="2.55" fill="#5aa8a0" opacity="0.8" filter="url(#b0)" transform="rotate(1 249.46 292.22)"/>
<ellipse cx="250.14" cy="292.10" rx="8.00" ry="2.10" fill="#80b048" opacity="0.9" filter="url(#b0)" transform="rotate(1 250.14 292.10)"/>
<ellipse cx="251.17" cy="291.92" rx="6.20" ry="1.80" fill="#c8b838" opacity="0.9" filter="url(#b0)" transform="rotate(1 251.17 291.92)"/>
<ellipse cx="252.14" cy="291.75" rx="4.50" ry="1.56" fill="#e88a28" opacity="0.95" filter="url(#b0)" transform="rotate(1 252.14 291.75)"/>
<ellipse cx="253.00" cy="291.60" rx="3.20" ry="1.26" fill="#ea3a14" opacity="1.0" filter="url(#b0)" transform="rotate(1 253.00 291.60)"/>
<ellipse cx="249.00" cy="290.05" rx="8.00" ry="0.45" fill="#5a5a3a" opacity="0.45" filter="url(#b0)" transform="rotate(1 249.00 290.05)"/>
</g>
<ellipse cx="243.60" cy="326.60" rx="2.60" ry="3.91" fill="#bfe2e6" opacity="0.55" filter="url(#b1)"/>
<circle cx="243.75" cy="324.18" r="0.45" fill="#8ab5b8" opacity="0.8"/>
<circle cx="243.73" cy="316.95" r="0.45" fill="#6f9da6" opacity="0.8"/>
<circle cx="244.90" cy="322.87" r="0.45" fill="#8ab5b8" opacity="0.8"/>
<circle cx="241.53" cy="326.21" r="0.45" fill="#7fb0b5" opacity="0.8"/>
<circle cx="244.99" cy="329.79" r="0.45" fill="#7fb0b5" opacity="0.8"/>
<circle cx="243.51" cy="318.21" r="0.45" fill="#4f7f8a" opacity="0.8"/>
<circle cx="242.83" cy="330.86" r="0.45" fill="#6f9da6" opacity="0.8"/>
<circle cx="244.08" cy="330.68" r="0.45" fill="#4f7f8a" opacity="0.8"/>
<circle cx="241.42" cy="325.20" r="0.45" fill="#5d8a95" opacity="0.8"/>
<circle cx="243.25" cy="327.27" r="0.45" fill="#8ab5b8" opacity="0.8"/>
<circle cx="242.35" cy="325.39" r="0.45" fill="#5d8a95" opacity="0.8"/>
<circle cx="242.24" cy="326.33" r="0.45" fill="#4f7f8a" opacity="0.8"/>
<circle cx="241.51" cy="326.81" r="0.45" fill="#4f7f8a" opacity="0.8"/>
<circle cx="247.16" cy="325.60" r="0.45" fill="#5d8a95" opacity="0.8"/>
<circle cx="243.95" cy="323.27" r="0.45" fill="#a8cfd0" opacity="0.8"/>
<circle cx="240.39" cy="319.40" r="0.45" fill="#8ab5b8" opacity="0.8"/>
<circle cx="243.51" cy="328.54" r="0.45" fill="#8ab5b8" opacity="0.8"/>
<circle cx="243.58" cy="333.47" r="0.45" fill="#a8cfd0" opacity="0.8"/>
<circle cx="243.76" cy="323.78" r="0.45" fill="#5d8a95" opacity="0.8"/>
<circle cx="244.59" cy="330.68" r="0.45" fill="#8ab5b8" opacity="0.8"/>
<circle cx="242.60" cy="325.67" r="0.45" fill="#4f7f8a" opacity="0.8"/>
<circle cx="245.03" cy="322.11" r="0.45" fill="#5d8a95" opacity="0.8"/>
<circle cx="242.48" cy="328.58" r="0.45" fill="#6f9da6" opacity="0.8"/>
<circle cx="244.11" cy="324.11" r="0.45" fill="#5d8a95" opacity="0.8"/>
<circle cx="242.84" cy="329.79" r="0.45" fill="#4f7f8a" opacity="0.8"/>
<circle cx="243.47" cy="320.44" r="0.45" fill="#6f9da6" opacity="0.8"/>
<circle cx="245.14" cy="328.18" r="0.45" fill="#8ab5b8" opacity="0.8"/>
<circle cx="242.29" cy="326.18" r="0.45" fill="#6f9da6" opacity="0.8"/>
<circle cx="244.94" cy="326.85" r="0.45" fill="#8ab5b8" opacity="0.8"/>
<circle cx="241.14" cy="325.93" r="0.45" fill="#a8cfd0" opacity="0.8"/>
<circle cx="242.42" cy="319.80" r="0.45" fill="#5d8a95" opacity="0.8"/>
<circle cx="244.79" cy="329.83" r="0.45" fill="#8ab5b8" opacity="0.8"/>
<circle cx="241.69" cy="326.66" r="0.45" fill="#8ab5b8" opacity="0.8"/>
<circle cx="244.20" cy="325.49" r="0.45" fill="#7fb0b5" opacity="0.8"/>
<circle cx="243.18" cy="325.60" r="0.45" fill="#8ab5b8" opacity="0.8"/>
<circle cx="244.40" cy="325.97" r="0.45" fill="#6f9da6" opacity="0.8"/>
<circle cx="246.10" cy="321.69" r="0.45" fill="#8ab5b8" opacity="0.8"/>
<circle cx="240.54" cy="323.63" r="0.45" fill="#6f9da6" opacity="0.8"/>
<circle cx="246.78" cy="324.54" r="0.45" fill="#4f7f8a" opacity="0.8"/>
<circle cx="242.16" cy="327.26" r="0.45" fill="#a8cfd0" opacity="0.8"/>
<circle cx="242.57" cy="327.02" r="0.45" fill="#7fb0b5" opacity="0.8"/>
<circle cx="242.88" cy="324.59" r="0.45" fill="#7fb0b5" opacity="0.8"/>
<circle cx="245.37" cy="320.08" r="0.45" fill="#6f9da6" opacity="0.8"/>
<circle cx="246.06" cy="329.53" r="0.45" fill="#4f7f8a" opacity="0.8"/>
<circle cx="243.85" cy="327.75" r="0.45" fill="#7fb0b5" opacity="0.8"/>
<circle cx="243.55" cy="325.00" r="0.45" fill="#8ab5b8" opacity="0.8"/>
<circle cx="240.37" cy="328.25" r="0.45" fill="#8ab5b8" opacity="0.8"/>
<circle cx="244.17" cy="320.20" r="0.45" fill="#5d8a95" opacity="0.8"/>
<circle cx="242.98" cy="328.00" r="0.45" fill="#7fb0b5" opacity="0.8"/>
<circle cx="241.91" cy="323.70" r="0.45" fill="#8ab5b8" opacity="0.8"/>
<circle cx="240.42" cy="324.06" r="0.45" fill="#5d8a95" opacity="0.8"/>
<circle cx="241.61" cy="327.19" r="0.45" fill="#4f7f8a" opacity="0.8"/>
<circle cx="246.02" cy="325.75" r="0.45" fill="#4f7f8a" opacity="0.8"/>
<circle cx="243.66" cy="324.47" r="0.45" fill="#4f7f8a" opacity="0.8"/>
<circle cx="246.41" cy="323.97" r="0.45" fill="#7fb0b5" opacity="0.8"/>
<circle cx="244.01" cy="323.93" r="0.45" fill="#5d8a95" opacity="0.8"/>
<circle cx="243.34" cy="330.46" r="0.45" fill="#4f7f8a" opacity="0.8"/>
<circle cx="243.71" cy="329.99" r="0.45" fill="#8ab5b8" opacity="0.8"/>
<circle cx="239.11" cy="329.04" r="0.45" fill="#6f9da6" opacity="0.8"/>
<circle cx="243.52" cy="330.99" r="0.45" fill="#6f9da6" opacity="0.8"/>
<circle cx="242.65" cy="330.33" r="0.45" fill="#7fb0b5" opacity="0.8"/>
<circle cx="244.36" cy="327.05" r="0.45" fill="#7fb0b5" opacity="0.8"/>
<circle cx="242.26" cy="325.32" r="0.45" fill="#8ab5b8" opacity="0.8"/>
<circle cx="244.35" cy="331.21" r="0.45" fill="#8ab5b8" opacity="0.8"/>
<circle cx="241.10" cy="323.49" r="0.45" fill="#4f7f8a" opacity="0.8"/>
<circle cx="243.31" cy="327.05" r="0.45" fill="#a8cfd0" opacity="0.8"/>
<circle cx="248.58" cy="328.32" r="0.45" fill="#a8cfd0" opacity="0.8"/>
<circle cx="247.37" cy="323.69" r="0.45" fill="#6f9da6" opacity="0.8"/>
<circle cx="243.99" cy="330.91" r="0.45" fill="#6f9da6" opacity="0.8"/>
<circle cx="245.39" cy="329.23" r="0.45" fill="#4f7f8a" opacity="0.8"/>
<circle cx="239.96" cy="327.39" r="0.45" fill="#7fb0b5" opacity="0.8"/>
<circle cx="243.13" cy="321.33" r="0.45" fill="#a8cfd0" opacity="0.8"/>
<circle cx="246.29" cy="331.09" r="0.45" fill="#8ab5b8" opacity="0.8"/>
<circle cx="242.76" cy="327.28" r="0.45" fill="#4f7f8a" opacity="0.8"/>
<circle cx="243.67" cy="324.34" r="0.45" fill="#8ab5b8" opacity="0.8"/>
<circle cx="244.11" cy="324.95" r="0.45" fill="#5d8a95" opacity="0.8"/>
<circle cx="245.24" cy="323.32" r="0.45" fill="#8ab5b8" opacity="0.8"/>
<circle cx="248.98" cy="332.57" r="0.45" fill="#a8cfd0" opacity="0.8"/>
<circle cx="243.24" cy="331.07" r="0.45" fill="#5d8a95" opacity="0.8"/>
<circle cx="240.92" cy="328.37" r="0.45" fill="#5d8a95" opacity="0.8"/>
<circle cx="243.33" cy="325.98" r="0.45" fill="#a8cfd0" opacity="0.8"/>
<circle cx="245.14" cy="328.39" r="0.45" fill="#5d8a95" opacity="0.8"/>
<circle cx="242.64" cy="324.72" r="0.45" fill="#a8cfd0" opacity="0.8"/>
<circle cx="241.44" cy="326.86" r="0.45" fill="#8ab5b8" opacity="0.8"/>
<circle cx="244.16" cy="329.90" r="0.45" fill="#6f9da6" opacity="0.8"/>
<circle cx="242.24" cy="328.11" r="0.45" fill="#2f5f68" opacity="0.85"/>
<circle cx="241.56" cy="325.73" r="0.45" fill="#3a6f78" opacity="0.85"/>
<circle cx="243.83" cy="325.15" r="0.45" fill="#2f5f68" opacity="0.85"/>
<circle cx="241.87" cy="327.47" r="0.45" fill="#3a6f78" opacity="0.85"/>
<circle cx="243.58" cy="329.69" r="0.45" fill="#2f5f68" opacity="0.85"/>
<circle cx="244.98" cy="327.12" r="0.45" fill="#3a6f78" opacity="0.85"/>
<circle cx="242.44" cy="329.19" r="0.45" fill="#285a5a" opacity="0.85"/>
<circle cx="244.11" cy="325.92" r="0.45" fill="#2f5f68" opacity="0.85"/>
<circle cx="241.50" cy="325.53" r="0.45" fill="#285a5a" opacity="0.85"/>
<circle cx="243.24" cy="326.82" r="0.45" fill="#285a5a" opacity="0.85"/>
<circle cx="243.33" cy="324.16" r="0.45" fill="#285a5a" opacity="0.85"/>
<circle cx="242.83" cy="327.53" r="0.45" fill="#3a6f78" opacity="0.85"/>
<circle cx="243.73" cy="328.31" r="0.45" fill="#3a6f78" opacity="0.85"/>
<circle cx="243.80" cy="330.36" r="0.45" fill="#2f5f68" opacity="0.85"/>
<circle cx="243.37" cy="328.89" r="0.45" fill="#2f5f68" opacity="0.85"/>
<circle cx="245.03" cy="324.81" r="0.45" fill="#2f5f68" opacity="0.85"/>
<circle cx="242.63" cy="321.99" r="0.45" fill="#2f5f68" opacity="0.85"/>
<circle cx="243.23" cy="325.99" r="0.45" fill="#2f5f68" opacity="0.85"/>
<circle cx="244.19" cy="326.85" r="0.45" fill="#2f5f68" opacity="0.85"/>
<circle cx="242.78" cy="329.24" r="0.45" fill="#2f5f68" opacity="0.85"/>
<circle cx="243.68" cy="327.38" r="0.45" fill="#285a5a" opacity="0.85"/>
<circle cx="243.91" cy="329.15" r="0.45" fill="#3a6f78" opacity="0.85"/>
<line x1="271.50" y1="290.00" x2="271.50" y2="295.47" stroke="#7a4030" stroke-width="1.0" opacity="0.9"/>
<line x1="271.50" y1="295.47" x2="271.50" y2="300.93" stroke="#a0a040" stroke-width="1.0" opacity="0.9"/>
<line x1="271.50" y1="300.93" x2="271.50" y2="306.40" stroke="#3a9a7a" stroke-width="1.0" opacity="0.9"/>
<circle cx="271.22" cy="303.35" r="0.35" fill="#c0d8c0" opacity="0.8"/>
<circle cx="270.56" cy="296.42" r="0.35" fill="#b0c8e0" opacity="0.8"/>
<circle cx="271.78" cy="309.06" r="0.35" fill="#c0d8c0" opacity="0.8"/>
<circle cx="271.26" cy="296.17" r="0.35" fill="#b0c8e0" opacity="0.8"/>
<circle cx="270.31" cy="297.43" r="0.35" fill="#9ab8d0" opacity="0.8"/>
<circle cx="270.60" cy="297.95" r="0.35" fill="#9ab8d0" opacity="0.8"/>
<circle cx="272.27" cy="307.42" r="0.35" fill="#c0d8c0" opacity="0.8"/>
<circle cx="273.14" cy="307.97" r="0.35" fill="#b0c8e0" opacity="0.8"/>
<circle cx="271.55" cy="303.46" r="0.35" fill="#c0d8c0" opacity="0.8"/>
<circle cx="270.86" cy="293.85" r="0.35" fill="#9ab8d0" opacity="0.8"/>
<circle cx="272.12" cy="291.68" r="0.35" fill="#c0d8c0" opacity="0.8"/>
<circle cx="272.06" cy="290.96" r="0.35" fill="#c0d8c0" opacity="0.8"/>
<circle cx="268.94" cy="300.84" r="0.35" fill="#c0d8c0" opacity="0.8"/>
<circle cx="270.58" cy="296.12" r="0.35" fill="#c0d8c0" opacity="0.8"/>
<circle cx="270.30" cy="290.02" r="0.35" fill="#c0d8c0" opacity="0.8"/>
<circle cx="270.69" cy="296.64" r="0.35" fill="#c0d8c0" opacity="0.8"/>
<circle cx="270.42" cy="309.30" r="0.35" fill="#9ab8d0" opacity="0.8"/>
<circle cx="272.46" cy="306.87" r="0.35" fill="#b0c8e0" opacity="0.8"/>
</g>
<line x1="262.60" y1="286.50" x2="262.60" y2="341.50" stroke="#6a6c74" stroke-width="0.85"/>
<line x1="228.50" y1="312.50" x2="287.80" y2="312.50" stroke="#6a6c74" stroke-width="0.85"/>
<line x1="228.05" y1="286.50" x2="288.25" y2="286.50" stroke="#4a4c66" stroke-width="0.9"/>
<line x1="287.80" y1="286.50" x2="287.80" y2="341.50" stroke="#6a6c84" stroke-width="0.9"/>
<line x1="228.50" y1="286.05" x2="228.50" y2="342.00" stroke="#2e3570" stroke-width="1.0"/>
<line x1="228.00" y1="341.50" x2="288.25" y2="341.50" stroke="#2e3570" stroke-width="1.0"/>
<line x1="227.30" y1="292.90" x2="228.50" y2="292.90" stroke="#2e3570" stroke-width="0.7"/>
<line x1="227.30" y1="301.50" x2="228.50" y2="301.50" stroke="#2e3570" stroke-width="0.7"/>
<line x1="227.30" y1="312.50" x2="228.50" y2="312.50" stroke="#2e3570" stroke-width="0.7"/>
<line x1="227.30" y1="324.90" x2="228.50" y2="324.90" stroke="#2e3570" stroke-width="0.7"/>
<line x1="227.30" y1="334.50" x2="228.50" y2="334.50" stroke="#2e3570" stroke-width="0.7"/>
<text x="229.90" y="291.96" font-size="4.6" fill="#231f20" stroke="#231f20" stroke-width="0.12">60.34%</text>
<text x="285.00" y="291.96" font-size="4.6" fill="#e03a3a" stroke="#e03a3a" stroke-width="0.1" text-anchor="end">26.61%</text>
<text x="229.90" y="339.86" font-size="4.6" fill="#231f20" stroke="#231f20" stroke-width="0.12">12.34%</text>
<text x="285.00" y="339.86" font-size="4.6" fill="#231f20" stroke="#231f20" stroke-width="0.12" text-anchor="end">0.31%</text>
<text x="225.90" y="294.60" font-size="5.0" fill="#231f20" stroke="#231f20" stroke-width="0.12" text-anchor="end">10<tspan dy="-2.0" font-size="3.5">6</tspan></text>
<text x="225.90" y="303.30" font-size="5.0" fill="#231f20" stroke="#231f20" stroke-width="0.12" text-anchor="end">10<tspan dy="-2.0" font-size="3.5">5</tspan></text>
<text x="225.90" y="314.50" font-size="5.0" fill="#231f20" stroke="#231f20" stroke-width="0.12" text-anchor="end">10<tspan dy="-2.0" font-size="3.5">4</tspan></text>
<text x="225.90" y="326.70" font-size="5.0" fill="#231f20" stroke="#231f20" stroke-width="0.12" text-anchor="end">10<tspan dy="-2.0" font-size="3.5">3</tspan></text>
<text x="225.90" y="336.30" font-size="5.0" fill="#231f20" stroke="#231f20" stroke-width="0.12" text-anchor="end">−10<tspan dy="-2.0" font-size="3.5">3</tspan></text>
<text x="230.70" y="349.90" font-size="5.0" fill="#231f20" stroke="#231f20" stroke-width="0.12" text-anchor="middle">−10<tspan dy="-2.0" font-size="3.5">4</tspan></text>
<text x="243.70" y="349.90" font-size="5.0" fill="#231f20" stroke="#231f20" stroke-width="0.12" text-anchor="middle">−10<tspan dy="-2.0" font-size="3.5">3</tspan></text>
<text x="256.90" y="349.90" font-size="5.0" fill="#231f20" stroke="#231f20" stroke-width="0.12" text-anchor="middle">10<tspan dy="-2.0" font-size="3.5">4</tspan></text>
<text x="270.70" y="349.90" font-size="5.0" fill="#231f20" stroke="#231f20" stroke-width="0.12" text-anchor="middle">10<tspan dy="-2.0" font-size="3.5">5</tspan></text>
<text x="281.30" y="349.90" font-size="5.0" fill="#231f20" stroke="#231f20" stroke-width="0.12" text-anchor="middle">10<tspan dy="-2.0" font-size="3.5">6</tspan></text>
<text x="258.15" y="360.02" font-size="7.0" fill="#231f20" stroke="#231f20" stroke-width="0.3" text-anchor="middle" textLength="11.5" lengthAdjust="spacingAndGlyphs">7AAD</text>
<line x1="42.60" y1="321.50" x2="42.60" y2="364.70" stroke="#1a1a1a" stroke-width="1.1"/>
<line x1="42.00" y1="364.70" x2="79.50" y2="364.70" stroke="#1a1a1a" stroke-width="1.1"/>
<path d="M42.6 318.3L40.6 322.6L44.6 322.6Z" fill="#1a1a1a" stroke="none" stroke-width="1"/>
<path d="M82.4 364.7L78.1 362.7L78.1 366.7Z" fill="#1a1a1a" stroke="none" stroke-width="1"/>
<text x="35.80" y="345.02" font-size="7.0" fill="#231f20" stroke="#231f20" stroke-width="0.3" text-anchor="middle" textLength="23" lengthAdjust="spacingAndGlyphs" transform="rotate(-90 35.80 342.50)">Annexin V</text>
<text x="63.00" y="374.78" font-size="8.0" fill="#231f20" stroke="#231f20" stroke-width="0.3" text-anchor="middle" textLength="12.7" lengthAdjust="spacingAndGlyphs">7AAD</text>
<line x1="0.00" y1="0.50" x2="520.00" y2="0.50" stroke="#636363" stroke-width="1"/>
<line x1="0.50" y1="0.00" x2="0.50" y2="383.00" stroke="#666666" stroke-width="1"/>
<line x1="1.50" y1="0.00" x2="1.50" y2="383.00" stroke="#e4e4e4" stroke-width="1"/>
<line x1="519.50" y1="0.00" x2="519.50" y2="383.00" stroke="#626262" stroke-width="1"/>
<line x1="0.00" y1="382.50" x2="520.00" y2="382.50" stroke="#606060" stroke-width="1"/>
</svg>
</body></html>
